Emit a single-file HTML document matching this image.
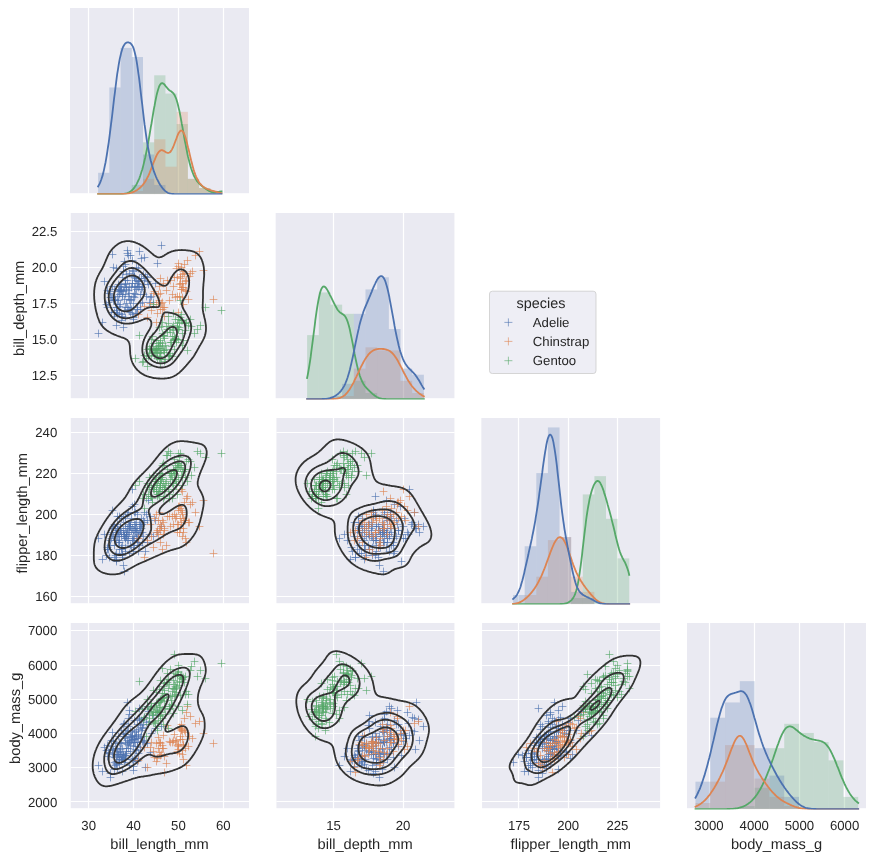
<!DOCTYPE html>
<html lang="en"><head><meta charset="utf-8"><title>penguins pairplot</title>
<style>html,body{margin:0;padding:0;background:#fff}body{width:874px;height:860px;overflow:hidden}svg{display:block}</style>
</head><body>
<svg width="874" height="860" viewBox="0 0 874 860" style="display:block">
<rect width="874" height="860" fill="#fff"/>
<defs>
<clipPath id="c00"><rect x="70" y="8" width="179" height="186.45"/></clipPath>
<clipPath id="c10"><rect x="70.75" y="213" width="178.25" height="186.45"/></clipPath>
<clipPath id="c11"><rect x="275.67" y="213" width="179" height="186.45"/></clipPath>
<clipPath id="c20"><rect x="70.75" y="418" width="178.25" height="186.45"/></clipPath>
<clipPath id="c21"><rect x="276.42" y="418" width="178.25" height="186.45"/></clipPath>
<clipPath id="c22"><rect x="481.33" y="418" width="179" height="186.45"/></clipPath>
<clipPath id="c30"><rect x="70.75" y="623" width="178.25" height="186.45"/></clipPath>
<clipPath id="c31"><rect x="276.42" y="623" width="178.25" height="186.45"/></clipPath>
<clipPath id="c32"><rect x="482.08" y="623" width="178.25" height="186.45"/></clipPath>
<clipPath id="c33"><rect x="687" y="623" width="179" height="186.45"/></clipPath>
</defs>
<g clip-path="url(#c00)">
<rect x="69" y="8" width="180" height="185.2" fill="#eaeaf2"/>
<path d="M88.5 8v185.2M133.5 8v185.2M178.5 8v185.2M223.5 8v185.2" stroke="#fff" stroke-width="1.2" stroke-linecap="round" fill="none"/>
<rect x="131.78" y="184.96" width="11.22" height="9.14" fill="#55a868" fill-opacity="0.25"/>
<rect x="143" y="142.32" width="11.22" height="51.78" fill="#55a868" fill-opacity="0.25"/>
<rect x="154.22" y="75.31" width="11.22" height="118.79" fill="#55a868" fill-opacity="0.25"/>
<rect x="165.44" y="93.58" width="11.22" height="100.52" fill="#55a868" fill-opacity="0.25"/>
<rect x="176.66" y="124.04" width="11.22" height="70.06" fill="#55a868" fill-opacity="0.25"/>
<rect x="187.88" y="178.87" width="11.22" height="15.23" fill="#55a868" fill-opacity="0.25"/>
<rect x="199.1" y="188.01" width="11.22" height="6.09" fill="#55a868" fill-opacity="0.25"/>
<rect x="210.32" y="191.05" width="11.22" height="3.05" fill="#55a868" fill-opacity="0.25"/>
<rect x="131.78" y="191.05" width="11.22" height="3.05" fill="#dd8452" fill-opacity="0.25"/>
<rect x="143" y="178.87" width="11.22" height="15.23" fill="#dd8452" fill-opacity="0.25"/>
<rect x="154.22" y="139.27" width="11.22" height="54.83" fill="#dd8452" fill-opacity="0.25"/>
<rect x="165.44" y="166.69" width="11.22" height="27.41" fill="#dd8452" fill-opacity="0.25"/>
<rect x="176.66" y="111.86" width="11.22" height="82.24" fill="#dd8452" fill-opacity="0.25"/>
<rect x="187.88" y="178.87" width="11.22" height="15.23" fill="#dd8452" fill-opacity="0.25"/>
<rect x="199.1" y="188.01" width="11.22" height="6.09" fill="#dd8452" fill-opacity="0.25"/>
<rect x="210.32" y="191.05" width="11.22" height="3.05" fill="#dd8452" fill-opacity="0.25"/>
<rect x="98.12" y="172.78" width="11.22" height="21.32" fill="#4c72b0" fill-opacity="0.25"/>
<rect x="109.34" y="87.49" width="11.22" height="106.61" fill="#4c72b0" fill-opacity="0.25"/>
<rect x="120.56" y="47.89" width="11.22" height="146.21" fill="#4c72b0" fill-opacity="0.25"/>
<rect x="131.78" y="57.03" width="11.22" height="137.07" fill="#4c72b0" fill-opacity="0.25"/>
<rect x="143" y="154.5" width="11.22" height="39.6" fill="#4c72b0" fill-opacity="0.25"/>
<rect x="154.22" y="184.96" width="11.22" height="9.14" fill="#4c72b0" fill-opacity="0.25"/>
<path d="M98.1 194.1L98.7 194.1L99.4 194.1L100 194.1L100.6 194.1L101.2 194.1L101.8 194.1L102.5 194.1L103.1 194.1L103.7 194.1L104.3 194.1L104.9 194.1L105.6 194.1L106.2 194.1L106.8 194.1L107.4 194.1L108 194.1L108.7 194.1L109.3 194.1L109.9 194.1L110.5 194.1L111.1 194.1L111.8 194.1L112.4 194.1L113 194.1L113.6 194.1L114.2 194.1L114.9 194.1L115.5 194.1L116.1 194.1L116.7 194.1L117.3 194.1L118 194.1L118.6 194.1L119.2 194.1L119.8 194.1L120.5 194.1L121.1 194L121.7 194L122.3 194L122.9 193.9L123.6 193.9L124.2 193.8L124.8 193.7L125.4 193.6L126 193.5L126.7 193.3L127.3 193.1L127.9 192.9L128.5 192.6L129.1 192.3L129.8 191.9L130.4 191.5L131 191.1L131.6 190.6L132.2 190L132.9 189.4L133.5 188.7L134.1 187.9L134.7 187.1L135.3 186.1L136 185.2L136.6 184.1L137.2 182.9L137.8 181.7L138.4 180.3L139.1 178.8L139.7 177.3L140.3 175.6L140.9 173.7L141.5 171.8L142.2 169.7L142.8 167.5L143.4 165.1L144 162.6L144.6 160L145.3 157.2L145.9 154.3L146.5 151.3L147.1 148.1L147.7 144.9L148.4 141.5L149 138L149.6 134.5L150.2 130.9L150.8 127.2L151.5 123.5L152.1 119.8L152.7 116.1L153.3 112.5L153.9 108.9L154.6 105.5L155.2 102.2L155.8 99.1L156.4 96.1L157 93.5L157.7 91.1L158.3 89L158.9 87.2L159.5 85.7L160.1 84.6L160.8 83.8L161.4 83.3L162 83.1L162.6 83.2L163.2 83.5L163.9 84L164.5 84.6L165.1 85.4L165.7 86.2L166.3 87L167 87.7L167.6 88.5L168.2 89.1L168.8 89.7L169.4 90.2L170.1 90.7L170.7 91.1L171.3 91.5L171.9 92L172.5 92.5L173.2 93.1L173.8 93.9L174.4 94.8L175 96L175.6 97.4L176.3 99L176.9 100.9L177.5 103.1L178.1 105.5L178.7 108.1L179.4 111L180 114L180.6 117.2L181.2 120.5L181.8 123.9L182.5 127.4L183.1 130.8L183.7 134.3L184.3 137.8L184.9 141.1L185.6 144.4L186.2 147.6L186.8 150.7L187.4 153.7L188 156.5L188.7 159.2L189.3 161.7L189.9 164L190.5 166.2L191.1 168.3L191.8 170.2L192.4 171.9L193 173.5L193.6 175L194.2 176.3L194.9 177.5L195.5 178.6L196.1 179.6L196.7 180.6L197.3 181.4L198 182.2L198.6 182.9L199.2 183.5L199.8 184.1L200.5 184.7L201.1 185.2L201.7 185.8L202.3 186.3L202.9 186.7L203.6 187.2L204.2 187.7L204.8 188.1L205.4 188.6L206 189L206.7 189.4L207.3 189.9L207.9 190.2L208.5 190.6L209.1 190.9L209.8 191.2L210.4 191.5L211 191.8L211.6 192L212.2 192.1L212.9 192.2L213.5 192.3L214.1 192.3L214.7 192.3L215.3 192.3L216 192.2L216.6 192.1L217.2 192L217.8 191.9L218.4 191.8L219.1 191.7L219.7 191.6L220.3 191.6L220.9 191.5L221.5 191.5" stroke="#55a868" stroke-width="1.8" fill="none" stroke-linecap="square" stroke-linejoin="round"/>
<path d="M98.1 194.1L98.7 194.1L99.4 194.1L100 194.1L100.6 194.1L101.2 194.1L101.8 194.1L102.5 194.1L103.1 194.1L103.7 194.1L104.3 194.1L104.9 194.1L105.6 194.1L106.2 194.1L106.8 194.1L107.4 194.1L108 194.1L108.7 194.1L109.3 194.1L109.9 194.1L110.5 194.1L111.1 194.1L111.8 194.1L112.4 194.1L113 194.1L113.6 194.1L114.2 194.1L114.9 194.1L115.5 194.1L116.1 194.1L116.7 194.1L117.3 194.1L118 194.1L118.6 194.1L119.2 194.1L119.8 194.1L120.5 194.1L121.1 194.1L121.7 194L122.3 194L122.9 194L123.6 194L124.2 193.9L124.8 193.9L125.4 193.9L126 193.8L126.7 193.7L127.3 193.6L127.9 193.6L128.5 193.4L129.1 193.3L129.8 193.2L130.4 193L131 192.8L131.6 192.6L132.2 192.4L132.9 192.2L133.5 191.9L134.1 191.6L134.7 191.3L135.3 191L136 190.6L136.6 190.3L137.2 189.9L137.8 189.4L138.4 189L139.1 188.5L139.7 188L140.3 187.5L140.9 186.9L141.5 186.2L142.2 185.6L142.8 184.9L143.4 184.1L144 183.3L144.6 182.4L145.3 181.5L145.9 180.4L146.5 179.4L147.1 178.2L147.7 177L148.4 175.7L149 174.3L149.6 172.9L150.2 171.4L150.8 169.8L151.5 168.2L152.1 166.6L152.7 165L153.3 163.3L153.9 161.7L154.6 160.1L155.2 158.6L155.8 157.2L156.4 155.8L157 154.6L157.7 153.5L158.3 152.6L158.9 151.8L159.5 151.2L160.1 150.7L160.8 150.4L161.4 150.2L162 150.2L162.6 150.4L163.2 150.6L163.9 150.9L164.5 151.3L165.1 151.7L165.7 152.1L166.3 152.4L167 152.7L167.6 152.9L168.2 152.9L168.8 152.8L169.4 152.5L170.1 152.1L170.7 151.5L171.3 150.6L171.9 149.6L172.5 148.4L173.2 147L173.8 145.5L174.4 143.9L175 142.3L175.6 140.6L176.3 138.9L176.9 137.2L177.5 135.7L178.1 134.2L178.7 133L179.4 132L180 131.2L180.6 130.7L181.2 130.5L181.8 130.7L182.5 131.1L183.1 131.8L183.7 132.9L184.3 134.3L184.9 135.9L185.6 137.8L186.2 139.9L186.8 142.2L187.4 144.6L188 147.2L188.7 149.8L189.3 152.5L189.9 155.1L190.5 157.7L191.1 160.3L191.8 162.8L192.4 165.2L193 167.4L193.6 169.6L194.2 171.5L194.9 173.4L195.5 175.1L196.1 176.6L196.7 178L197.3 179.3L198 180.5L198.6 181.5L199.2 182.4L199.8 183.3L200.5 184L201.1 184.7L201.7 185.3L202.3 185.9L202.9 186.4L203.6 186.9L204.2 187.3L204.8 187.7L205.4 188L206 188.4L206.7 188.7L207.3 189L207.9 189.2L208.5 189.5L209.1 189.7L209.8 189.9L210.4 190.1L211 190.3L211.6 190.5L212.2 190.7L212.9 190.9L213.5 191L214.1 191.2L214.7 191.4L215.3 191.6L216 191.7L216.6 191.9L217.2 192.1L217.8 192.3L218.4 192.4L219.1 192.6L219.7 192.8L220.3 192.9L220.9 193.1L221.5 193.2" stroke="#dd8452" stroke-width="1.8" fill="none" stroke-linecap="square" stroke-linejoin="round"/>
<path d="M98.1 186.5L98.7 185.4L99.4 184.2L100 182.9L100.6 181.4L101.2 179.8L101.8 177.9L102.5 175.9L103.1 173.6L103.7 171.1L104.3 168.4L104.9 165.4L105.6 162.2L106.2 158.7L106.8 155L107.4 151.1L108 147L108.7 142.6L109.3 138.1L109.9 133.4L110.5 128.6L111.1 123.6L111.8 118.5L112.4 113.4L113 108.1L113.6 102.9L114.2 97.7L114.9 92.5L115.5 87.5L116.1 82.6L116.7 77.9L117.3 73.4L118 69.3L118.6 65.4L119.2 61.8L119.8 58.6L120.5 55.7L121.1 53.1L121.7 50.9L122.3 49L122.9 47.3L123.6 46L124.2 44.9L124.8 44L125.4 43.3L126 42.9L126.7 42.6L127.3 42.4L127.9 42.3L128.5 42.4L129.1 42.6L129.8 42.8L130.4 43.2L131 43.8L131.6 44.5L132.2 45.4L132.9 46.6L133.5 48.1L134.1 50L134.7 52.2L135.3 54.8L136 57.8L136.6 61.2L137.2 64.9L137.8 69L138.4 73.5L139.1 78.2L139.7 83.2L140.3 88.3L140.9 93.6L141.5 98.9L142.2 104.2L142.8 109.5L143.4 114.7L144 119.8L144.6 124.7L145.3 129.4L145.9 133.9L146.5 138.1L147.1 142.1L147.7 145.8L148.4 149.3L149 152.5L149.6 155.5L150.2 158.2L150.8 160.8L151.5 163.2L152.1 165.5L152.7 167.5L153.3 169.5L153.9 171.4L154.6 173.1L155.2 174.7L155.8 176.3L156.4 177.7L157 179.1L157.7 180.3L158.3 181.5L158.9 182.7L159.5 183.7L160.1 184.7L160.8 185.7L161.4 186.6L162 187.4L162.6 188.2L163.2 189L163.9 189.7L164.5 190.3L165.1 190.9L165.7 191.4L166.3 191.9L167 192.3L167.6 192.7L168.2 193L168.8 193.2L169.4 193.4L170.1 193.6L170.7 193.7L171.3 193.8L171.9 193.9L172.5 194L173.2 194L173.8 194L174.4 194.1L175 194.1L175.6 194.1L176.3 194.1L176.9 194.1L177.5 194.1L178.1 194.1L178.7 194.1L179.4 194.1L180 194.1L180.6 194.1L181.2 194.1L181.8 194.1L182.5 194.1L183.1 194.1L183.7 194.1L184.3 194.1L184.9 194.1L185.6 194.1L186.2 194.1L186.8 194.1L187.4 194.1L188 194.1L188.7 194.1L189.3 194.1L189.9 194.1L190.5 194.1L191.1 194.1L191.8 194.1L192.4 194.1L193 194.1L193.6 194.1L194.2 194.1L194.9 194.1L195.5 194.1L196.1 194.1L196.7 194.1L197.3 194.1L198 194.1L198.6 194.1L199.2 194.1L199.8 194.1L200.5 194.1L201.1 194.1L201.7 194.1L202.3 194.1L202.9 194.1L203.6 194.1L204.2 194.1L204.8 194.1L205.4 194.1L206 194.1L206.7 194.1L207.3 194.1L207.9 194.1L208.5 194.1L209.1 194.1L209.8 194.1L210.4 194.1L211 194.1L211.6 194.1L212.2 194.1L212.9 194.1L213.5 194.1L214.1 194.1L214.7 194.1L215.3 194.1L216 194.1L216.6 194.1L217.2 194.1L217.8 194.1L218.4 194.1L219.1 194.1L219.7 194.1L220.3 194.1L220.9 194.1L221.5 194.1" stroke="#4c72b0" stroke-width="1.8" fill="none" stroke-linecap="square" stroke-linejoin="round"/>
</g>
<g clip-path="url(#c10)">
<rect x="69" y="213" width="180" height="185.2" fill="#eaeaf2"/>
<path d="M88.5 213v185.2M133.5 213v185.2M178.5 213v185.2M223.5 213v185.2M70 375.5h179M70 339.5h179M70 303.5h179M70 267.5h179M70 231.5h179" stroke="#fff" stroke-width="1.2" stroke-linecap="round" fill="none"/>
<path d="M109.6 267.5h7.8m-3.9-3.9v7.8M113.6 304.5h7.8m-3.9-3.9v7.8M123.6 250.5h7.8m-3.9-3.9v7.8M133.6 286.5h7.8m-3.9-3.9v7.8M131.6 278.5h7.8m-3.9-3.9v7.8M114.6 300.5h7.8m-3.9-3.9v7.8M137.6 289.5h7.8m-3.9-3.9v7.8M117.6 320.5h7.8m-3.9-3.9v7.8M128.6 283.5h7.8m-3.9-3.9v7.8M116.6 289.5h7.8m-3.9-3.9v7.8M130.6 276.5h7.8m-3.9-3.9v7.8M140.6 257.5h7.8m-3.9-3.9v7.8M126.6 312.5h7.8m-3.9-3.9v7.8M117.6 290.5h7.8m-3.9-3.9v7.8M129.6 303.5h7.8m-3.9-3.9v7.8M100.6 281.5h7.8m-3.9-3.9v7.8M125.6 286.5h7.8m-3.9-3.9v7.8M119.6 327.5h7.8m-3.9-3.9v7.8M153.6 263.5h7.8m-3.9-3.9v7.8M130.6 293.5h7.8m-3.9-3.9v7.8M118.6 296.5h7.8m-3.9-3.9v7.8M108.6 286.5h7.8m-3.9-3.9v7.8M115.6 306.5h7.8m-3.9-3.9v7.8M135.6 278.5h7.8m-3.9-3.9v7.8M120.6 261.5h7.8m-3.9-3.9v7.8M116.6 286.5h7.8m-3.9-3.9v7.8M137.6 258.5h7.8m-3.9-3.9v7.8M138.6 302.5h7.8m-3.9-3.9v7.8M157.6 245.5h7.8m-3.9-3.9v7.8M122.6 289.5h7.8m-3.9-3.9v7.8M107.6 312.5h7.8m-3.9-3.9v7.8M151.6 283.5h7.8m-3.9-3.9v7.8M128.6 283.5h7.8m-3.9-3.9v7.8M120.6 299.5h7.8m-3.9-3.9v7.8M133.6 307.5h7.8m-3.9-3.9v7.8M125.6 293.5h7.8m-3.9-3.9v7.8M141.6 276.5h7.8m-3.9-3.9v7.8M125.6 273.5h7.8m-3.9-3.9v7.8M144.6 284.5h7.8m-3.9-3.9v7.8M103.6 290.5h7.8m-3.9-3.9v7.8M107.6 297.5h7.8m-3.9-3.9v7.8M120.6 287.5h7.8m-3.9-3.9v7.8M120.6 310.5h7.8m-3.9-3.9v7.8M102.6 304.5h7.8m-3.9-3.9v7.8M117.6 290.5h7.8m-3.9-3.9v7.8M109.6 300.5h7.8m-3.9-3.9v7.8M113.6 296.5h7.8m-3.9-3.9v7.8M132.6 280.5h7.8m-3.9-3.9v7.8M128.6 260.5h7.8m-3.9-3.9v7.8M116.6 304.5h7.8m-3.9-3.9v7.8M125.6 310.5h7.8m-3.9-3.9v7.8M135.6 251.5h7.8m-3.9-3.9v7.8M131.6 294.5h7.8m-3.9-3.9v7.8M133.6 283.5h7.8m-3.9-3.9v7.8M130.6 297.5h7.8m-3.9-3.9v7.8M134.6 287.5h7.8m-3.9-3.9v7.8M123.6 307.5h7.8m-3.9-3.9v7.8M115.6 286.5h7.8m-3.9-3.9v7.8M143.6 281.5h7.8m-3.9-3.9v7.8M132.6 313.5h7.8m-3.9-3.9v7.8M110.6 316.5h7.8m-3.9-3.9v7.8M121.6 283.5h7.8m-3.9-3.9v7.8M112.6 268.5h7.8m-3.9-3.9v7.8M115.6 290.5h7.8m-3.9-3.9v7.8M139.6 274.5h7.8m-3.9-3.9v7.8M104.6 302.5h7.8m-3.9-3.9v7.8M113.6 310.5h7.8m-3.9-3.9v7.8M123.6 253.5h7.8m-3.9-3.9v7.8M132.6 267.5h7.8m-3.9-3.9v7.8M142.6 296.5h7.8m-3.9-3.9v7.8M110.6 289.5h7.8m-3.9-3.9v7.8M134.6 281.5h7.8m-3.9-3.9v7.8M134.6 268.5h7.8m-3.9-3.9v7.8M121.6 264.5h7.8m-3.9-3.9v7.8M140.6 280.5h7.8m-3.9-3.9v7.8M112.6 307.5h7.8m-3.9-3.9v7.8M103.6 307.5h7.8m-3.9-3.9v7.8M115.6 294.5h7.8m-3.9-3.9v7.8M131.6 313.5h7.8m-3.9-3.9v7.8M138.6 287.5h7.8m-3.9-3.9v7.8M122.6 303.5h7.8m-3.9-3.9v7.8M112.6 307.5h7.8m-3.9-3.9v7.8M117.6 284.5h7.8m-3.9-3.9v7.8M118.6 277.5h7.8m-3.9-3.9v7.8M129.6 319.5h7.8m-3.9-3.9v7.8M129.6 317.5h7.8m-3.9-3.9v7.8M112.6 312.5h7.8m-3.9-3.9v7.8M130.6 287.5h7.8m-3.9-3.9v7.8M115.6 313.5h7.8m-3.9-3.9v7.8M94.6 333.5h7.8m-3.9-3.9v7.8M121.6 317.5h7.8m-3.9-3.9v7.8M124.6 255.5h7.8m-3.9-3.9v7.8M111.6 299.5h7.8m-3.9-3.9v7.8M124.6 296.5h7.8m-3.9-3.9v7.8M118.6 316.5h7.8m-3.9-3.9v7.8M108.6 297.5h7.8m-3.9-3.9v7.8M112.6 325.5h7.8m-3.9-3.9v7.8M110.6 312.5h7.8m-3.9-3.9v7.8M149.6 302.5h7.8m-3.9-3.9v7.8M129.6 296.5h7.8m-3.9-3.9v7.8M125.6 299.5h7.8m-3.9-3.9v7.8M124.6 309.5h7.8m-3.9-3.9v7.8M119.6 271.5h7.8m-3.9-3.9v7.8M123.6 280.5h7.8m-3.9-3.9v7.8M114.6 284.5h7.8m-3.9-3.9v7.8M127.6 287.5h7.8m-3.9-3.9v7.8M136.6 294.5h7.8m-3.9-3.9v7.8M128.6 270.5h7.8m-3.9-3.9v7.8M124.6 290.5h7.8m-3.9-3.9v7.8M131.6 286.5h7.8m-3.9-3.9v7.8M127.6 309.5h7.8m-3.9-3.9v7.8M121.6 307.5h7.8m-3.9-3.9v7.8M108.6 254.5h7.8m-3.9-3.9v7.8M106.6 291.5h7.8m-3.9-3.9v7.8M130.6 277.5h7.8m-3.9-3.9v7.8M135.6 286.5h7.8m-3.9-3.9v7.8M106.6 297.5h7.8m-3.9-3.9v7.8M126.6 255.5h7.8m-3.9-3.9v7.8M132.6 289.5h7.8m-3.9-3.9v7.8M126.6 307.5h7.8m-3.9-3.9v7.8M113.6 314.5h7.8m-3.9-3.9v7.8M119.6 266.5h7.8m-3.9-3.9v7.8M130.6 276.5h7.8m-3.9-3.9v7.8M111.6 300.5h7.8m-3.9-3.9v7.8M147.6 296.5h7.8m-3.9-3.9v7.8M146.6 297.5h7.8m-3.9-3.9v7.8M139.6 294.5h7.8m-3.9-3.9v7.8M127.6 299.5h7.8m-3.9-3.9v7.8M137.6 278.5h7.8m-3.9-3.9v7.8M129.6 271.5h7.8m-3.9-3.9v7.8M118.6 294.5h7.8m-3.9-3.9v7.8M143.6 277.5h7.8m-3.9-3.9v7.8M117.6 314.5h7.8m-3.9-3.9v7.8M116.6 291.5h7.8m-3.9-3.9v7.8M121.6 294.5h7.8m-3.9-3.9v7.8M122.6 287.5h7.8m-3.9-3.9v7.8M136.6 303.5h7.8m-3.9-3.9v7.8M136.6 309.5h7.8m-3.9-3.9v7.8M126.6 300.5h7.8m-3.9-3.9v7.8M119.6 291.5h7.8m-3.9-3.9v7.8M133.6 309.5h7.8m-3.9-3.9v7.8M105.6 293.5h7.8m-3.9-3.9v7.8M145.6 302.5h7.8m-3.9-3.9v7.8M121.6 280.5h7.8m-3.9-3.9v7.8M121.6 284.5h7.8m-3.9-3.9v7.8M98.6 322.5h7.8m-3.9-3.9v7.8M114.6 291.5h7.8m-3.9-3.9v7.8M134.6 281.5h7.8m-3.9-3.9v7.8M138.6 284.5h7.8m-3.9-3.9v7.8M122.6 274.5h7.8m-3.9-3.9v7.8M128.6 314.5h7.8m-3.9-3.9v7.8" stroke="#4c72b0" stroke-width="0.62" fill="none"/>
<path d="M165.6 300.5h7.8m-3.9-3.9v7.8M209.6 299.5h7.8m-3.9-3.9v7.8M175.6 296.5h7.8m-3.9-3.9v7.8M173.6 296.5h7.8m-3.9-3.9v7.8M173.6 277.5h7.8m-3.9-3.9v7.8M174.6 266.5h7.8m-3.9-3.9v7.8M143.6 317.5h7.8m-3.9-3.9v7.8M199.6 270.5h7.8m-3.9-3.9v7.8M153.6 313.5h7.8m-3.9-3.9v7.8M156.6 309.5h7.8m-3.9-3.9v7.8M175.6 284.5h7.8m-3.9-3.9v7.8M168.6 294.5h7.8m-3.9-3.9v7.8M158.6 309.5h7.8m-3.9-3.9v7.8M195.6 251.5h7.8m-3.9-3.9v7.8M188.6 271.5h7.8m-3.9-3.9v7.8M159.6 283.5h7.8m-3.9-3.9v7.8M178.6 274.5h7.8m-3.9-3.9v7.8M171.6 297.5h7.8m-3.9-3.9v7.8M172.6 268.5h7.8m-3.9-3.9v7.8M163.6 280.5h7.8m-3.9-3.9v7.8M150.6 291.5h7.8m-3.9-3.9v7.8M174.6 263.5h7.8m-3.9-3.9v7.8M179.6 304.5h7.8m-3.9-3.9v7.8M180.6 273.5h7.8m-3.9-3.9v7.8M140.6 306.5h7.8m-3.9-3.9v7.8M176.6 278.5h7.8m-3.9-3.9v7.8M178.6 283.5h7.8m-3.9-3.9v7.8M147.6 310.5h7.8m-3.9-3.9v7.8M157.6 303.5h7.8m-3.9-3.9v7.8M177.6 267.5h7.8m-3.9-3.9v7.8M185.6 276.5h7.8m-3.9-3.9v7.8M152.6 322.5h7.8m-3.9-3.9v7.8M146.6 303.5h7.8m-3.9-3.9v7.8M179.6 287.5h7.8m-3.9-3.9v7.8M155.6 286.5h7.8m-3.9-3.9v7.8M149.6 293.5h7.8m-3.9-3.9v7.8M156.6 278.5h7.8m-3.9-3.9v7.8M182.6 280.5h7.8m-3.9-3.9v7.8M154.6 294.5h7.8m-3.9-3.9v7.8M181.6 281.5h7.8m-3.9-3.9v7.8M134.6 314.5h7.8m-3.9-3.9v7.8M170.6 277.5h7.8m-3.9-3.9v7.8M186.6 273.5h7.8m-3.9-3.9v7.8M176.6 283.5h7.8m-3.9-3.9v7.8M159.6 307.5h7.8m-3.9-3.9v7.8M181.6 290.5h7.8m-3.9-3.9v7.8M152.6 304.5h7.8m-3.9-3.9v7.8M154.6 302.5h7.8m-3.9-3.9v7.8M180.6 264.5h7.8m-3.9-3.9v7.8M162.6 290.5h7.8m-3.9-3.9v7.8M183.6 260.5h7.8m-3.9-3.9v7.8M174.6 312.5h7.8m-3.9-3.9v7.8M158.6 302.5h7.8m-3.9-3.9v7.8M178.6 297.5h7.8m-3.9-3.9v7.8M176.6 276.5h7.8m-3.9-3.9v7.8M156.6 293.5h7.8m-3.9-3.9v7.8M177.6 289.5h7.8m-3.9-3.9v7.8M184.6 299.5h7.8m-3.9-3.9v7.8M155.6 300.5h7.8m-3.9-3.9v7.8M177.6 289.5h7.8m-3.9-3.9v7.8M160.6 307.5h7.8m-3.9-3.9v7.8M182.6 291.5h7.8m-3.9-3.9v7.8M166.6 280.5h7.8m-3.9-3.9v7.8M178.6 287.5h7.8m-3.9-3.9v7.8M179.6 271.5h7.8m-3.9-3.9v7.8M169.6 286.5h7.8m-3.9-3.9v7.8M191.6 255.5h7.8m-3.9-3.9v7.8M160.6 316.5h7.8m-3.9-3.9v7.8" stroke="#dd8452" stroke-width="0.62" fill="none"/>
<path d="M156.6 356.5h7.8m-3.9-3.9v7.8M166.6 342.5h7.8m-3.9-3.9v7.8M158.6 322.5h7.8m-3.9-3.9v7.8M160.6 352.5h7.8m-3.9-3.9v7.8M154.6 348.5h7.8m-3.9-3.9v7.8M164.6 323.5h7.8m-3.9-3.9v7.8M167.6 346.5h7.8m-3.9-3.9v7.8M154.6 346.5h7.8m-3.9-3.9v7.8M150.6 355.5h7.8m-3.9-3.9v7.8M163.6 332.5h7.8m-3.9-3.9v7.8M142.6 358.5h7.8m-3.9-3.9v7.8M175.6 322.5h7.8m-3.9-3.9v7.8M161.6 345.5h7.8m-3.9-3.9v7.8M158.6 346.5h7.8m-3.9-3.9v7.8M165.6 329.5h7.8m-3.9-3.9v7.8M160.6 361.5h7.8m-3.9-3.9v7.8M176.6 300.5h7.8m-3.9-3.9v7.8M160.6 338.5h7.8m-3.9-3.9v7.8M170.6 340.5h7.8m-3.9-3.9v7.8M153.6 353.5h7.8m-3.9-3.9v7.8M160.6 350.5h7.8m-3.9-3.9v7.8M149.6 350.5h7.8m-3.9-3.9v7.8M173.6 327.5h7.8m-3.9-3.9v7.8M155.6 345.5h7.8m-3.9-3.9v7.8M176.6 317.5h7.8m-3.9-3.9v7.8M146.6 349.5h7.8m-3.9-3.9v7.8M174.6 339.5h7.8m-3.9-3.9v7.8M169.6 313.5h7.8m-3.9-3.9v7.8M164.6 316.5h7.8m-3.9-3.9v7.8M162.6 349.5h7.8m-3.9-3.9v7.8M173.6 323.5h7.8m-3.9-3.9v7.8M171.6 319.5h7.8m-3.9-3.9v7.8M193.6 329.5h7.8m-3.9-3.9v7.8M153.6 348.5h7.8m-3.9-3.9v7.8M178.6 333.5h7.8m-3.9-3.9v7.8M143.6 366.5h7.8m-3.9-3.9v7.8M149.6 304.5h7.8m-3.9-3.9v7.8M145.6 353.5h7.8m-3.9-3.9v7.8M217.6 310.5h7.8m-3.9-3.9v7.8M169.6 325.5h7.8m-3.9-3.9v7.8M172.6 342.5h7.8m-3.9-3.9v7.8M170.6 349.5h7.8m-3.9-3.9v7.8M159.6 335.5h7.8m-3.9-3.9v7.8M144.6 356.5h7.8m-3.9-3.9v7.8M147.6 339.5h7.8m-3.9-3.9v7.8M156.6 353.5h7.8m-3.9-3.9v7.8M157.6 359.5h7.8m-3.9-3.9v7.8M155.6 359.5h7.8m-3.9-3.9v7.8M159.6 335.5h7.8m-3.9-3.9v7.8M187.6 326.5h7.8m-3.9-3.9v7.8M138.6 362.5h7.8m-3.9-3.9v7.8M159.6 350.5h7.8m-3.9-3.9v7.8M168.6 327.5h7.8m-3.9-3.9v7.8M180.6 323.5h7.8m-3.9-3.9v7.8M167.6 342.5h7.8m-3.9-3.9v7.8M169.6 340.5h7.8m-3.9-3.9v7.8M181.6 323.5h7.8m-3.9-3.9v7.8M147.6 346.5h7.8m-3.9-3.9v7.8M154.6 343.5h7.8m-3.9-3.9v7.8M172.6 339.5h7.8m-3.9-3.9v7.8M162.6 326.5h7.8m-3.9-3.9v7.8M160.6 336.5h7.8m-3.9-3.9v7.8M190.6 333.5h7.8m-3.9-3.9v7.8M155.6 327.5h7.8m-3.9-3.9v7.8M174.6 329.5h7.8m-3.9-3.9v7.8M171.6 338.5h7.8m-3.9-3.9v7.8M173.6 326.5h7.8m-3.9-3.9v7.8M148.6 336.5h7.8m-3.9-3.9v7.8M164.6 355.5h7.8m-3.9-3.9v7.8M152.6 340.5h7.8m-3.9-3.9v7.8M140.6 355.5h7.8m-3.9-3.9v7.8M201.6 307.5h7.8m-3.9-3.9v7.8M156.6 342.5h7.8m-3.9-3.9v7.8M166.6 332.5h7.8m-3.9-3.9v7.8M151.6 349.5h7.8m-3.9-3.9v7.8M145.6 348.5h7.8m-3.9-3.9v7.8M175.6 327.5h7.8m-3.9-3.9v7.8M181.6 330.5h7.8m-3.9-3.9v7.8M135.6 335.5h7.8m-3.9-3.9v7.8M152.6 356.5h7.8m-3.9-3.9v7.8M148.6 352.5h7.8m-3.9-3.9v7.8M155.6 352.5h7.8m-3.9-3.9v7.8M177.6 320.5h7.8m-3.9-3.9v7.8M169.6 330.5h7.8m-3.9-3.9v7.8M178.6 345.5h7.8m-3.9-3.9v7.8M168.6 356.5h7.8m-3.9-3.9v7.8M165.6 356.5h7.8m-3.9-3.9v7.8M147.6 355.5h7.8m-3.9-3.9v7.8M157.6 326.5h7.8m-3.9-3.9v7.8M152.6 348.5h7.8m-3.9-3.9v7.8M170.6 336.5h7.8m-3.9-3.9v7.8M151.6 352.5h7.8m-3.9-3.9v7.8M168.6 336.5h7.8m-3.9-3.9v7.8M172.6 339.5h7.8m-3.9-3.9v7.8M153.6 358.5h7.8m-3.9-3.9v7.8M143.6 349.5h7.8m-3.9-3.9v7.8M150.6 350.5h7.8m-3.9-3.9v7.8M156.6 363.5h7.8m-3.9-3.9v7.8M186.6 319.5h7.8m-3.9-3.9v7.8M139.6 361.5h7.8m-3.9-3.9v7.8M184.6 325.5h7.8m-3.9-3.9v7.8M174.6 319.5h7.8m-3.9-3.9v7.8M170.6 339.5h7.8m-3.9-3.9v7.8M165.6 355.5h7.8m-3.9-3.9v7.8M152.6 349.5h7.8m-3.9-3.9v7.8M149.6 343.5h7.8m-3.9-3.9v7.8M158.6 333.5h7.8m-3.9-3.9v7.8M156.6 340.5h7.8m-3.9-3.9v7.8M196.6 325.5h7.8m-3.9-3.9v7.8M174.6 329.5h7.8m-3.9-3.9v7.8M156.6 348.5h7.8m-3.9-3.9v7.8M157.6 350.5h7.8m-3.9-3.9v7.8M171.6 338.5h7.8m-3.9-3.9v7.8M166.6 353.5h7.8m-3.9-3.9v7.8M131.6 358.5h7.8m-3.9-3.9v7.8M161.6 359.5h7.8m-3.9-3.9v7.8M179.6 340.5h7.8m-3.9-3.9v7.8M158.6 343.5h7.8m-3.9-3.9v7.8M183.6 350.5h7.8m-3.9-3.9v7.8M177.6 314.5h7.8m-3.9-3.9v7.8M163.6 329.5h7.8m-3.9-3.9v7.8M178.6 320.5h7.8m-3.9-3.9v7.8M182.6 322.5h7.8m-3.9-3.9v7.8" stroke="#55a868" stroke-width="0.62" fill="none"/>
<path d="M153.1 377.8L154 378L154.9 378.1L155.8 378.2L156.7 378.3L157.6 378.4L158.5 378.5L159.4 378.5L160.3 378.6L161.2 378.6L162.1 378.6L163 378.6L163.9 378.6L164.8 378.5L165.7 378.4L166.6 378.3L167.5 378.2L168.4 378L169.3 377.8L169.5 377.8L170.2 377.6L171.1 377.3L172 377L172.4 376.8L172.9 376.6L173.8 376.2L174.4 375.9L174.7 375.8L175.6 375.3L176.1 375L176.5 374.7L177.4 374.1L177.5 374L178.3 373.4L178.7 373.1L179.2 372.7L179.8 372.2L180.1 371.9L180.8 371.2L181 371.1L181.8 370.3L181.9 370.2L182.7 369.4L182.8 369.3L183.6 368.4L183.7 368.3L184.4 367.5L184.6 367.3L185.2 366.6L185.5 366.3L186.1 365.6L186.4 365.3L186.9 364.7L187.3 364.2L187.7 363.8L188.2 363.2L188.5 362.8L189.1 362.2L189.3 361.9L190 361.1L190.1 361L190.9 360L190.9 360L191.7 359.1L191.8 358.9L192.4 358.2L192.7 357.7L193.1 357.2L193.6 356.4L193.7 356.3L194.3 355.4L194.5 355L194.9 354.4L195.4 353.6L195.4 353.5L196 352.6L196.3 352L196.5 351.6L197 350.7L197.2 350.4L197.5 349.8L198 348.8L198.1 348.7L198.6 347.9L199 347.1L199.1 347L199.6 346L199.9 345.6L200.2 345.1L200.7 344.2L200.8 344L201.3 343.2L201.7 342.5L201.8 342.3L202.4 341.4L202.6 340.9L202.9 340.4L203.3 339.5L203.5 339.1L203.8 338.6L204.2 337.6L204.4 337.1L204.6 336.7L204.9 335.8L205.2 334.8L205.3 334.2L205.4 333.9L205.6 333L205.7 332L205.9 331.1L205.9 330.2L206 329.2L206 328.3L206 327.4L205.9 326.4L205.9 325.5L205.8 324.6L205.6 323.6L205.5 322.7L205.3 321.8L205.3 321.6L205.2 320.8L205 319.9L204.8 319L204.5 318L204.4 317.5L204.3 317.1L204.1 316.2L203.9 315.2L203.6 314.3L203.5 313.7L203.4 313.4L203.2 312.4L203.1 311.5L202.9 310.6L202.8 309.6L202.7 308.7L202.7 307.8L202.7 306.8L202.7 305.9L202.7 304.9L202.7 304L202.8 303.1L202.8 302.1L202.9 301.2L202.9 300.3L202.9 299.3L203 298.4L203 297.5L203 296.5L203 295.6L203 294.7L203 293.7L203 292.8L203 291.9L203 290.9L203.1 290L203.1 289.1L203.2 288.1L203.2 287.2L203.3 286.3L203.4 285.3L203.4 284.4L203.5 283.5L203.5 283.5L203.6 282.5L203.7 281.6L203.8 280.7L203.9 279.7L203.9 278.8L204 277.9L204.1 276.9L204.1 276L204.2 275.1L204.2 274.1L204.2 273.2L204.2 272.3L204.1 271.3L204.1 270.4L204 269.5L203.9 268.5L203.8 267.6L203.7 266.7L203.5 265.8L203.5 265.7L203.3 264.8L203.1 263.9L202.8 262.9L202.6 262.2L202.5 262L202.2 261.1L201.9 260.1L201.7 259.8L201.5 259.2L201 258.3L200.8 257.9L200.5 257.3L199.9 256.5L199.9 256.4L199.1 255.5L199 255.3L198.3 254.5L198.1 254.4L197.2 253.6L197.2 253.6L196.3 253L195.8 252.7L195.4 252.5L194.5 252L193.8 251.7L193.6 251.7L192.7 251.4L191.8 251.1L190.9 250.9L190.4 250.8L190 250.7L189.1 250.6L188.2 250.5L187.3 250.3L186.4 250.3L185.5 250.2L184.6 250.1L183.7 250.1L182.8 250.1L181.9 250L181 250.1L180.1 250.1L179.2 250.1L178.3 250.2L177.4 250.3L176.5 250.4L175.6 250.5L174.7 250.7L174.3 250.8L173.8 250.9L172.9 251.2L172 251.4L171.1 251.7L171.1 251.7L170.2 252.1L169.3 252.5L168.9 252.7L168.4 252.9L167.5 253.4L167.2 253.6L166.6 254L165.7 254.5L165.7 254.5L164.8 255.1L164.2 255.5L163.9 255.7L163 256.2L162.5 256.4L162.1 256.6L161.2 257L160.3 257.2L159.4 257.3L158.5 257.3L157.6 257.1L156.7 256.8L155.9 256.4L155.8 256.4L154.9 255.8L154.4 255.5L154 255.2L153.2 254.5L153.1 254.5L152.2 253.7L152.1 253.6L151.3 252.9L151 252.7L150.4 252.1L149.9 251.7L149.5 251.4L148.8 250.8L148.6 250.6L147.7 249.9L147.7 249.8L146.8 249.1L146.6 248.9L145.9 248.4L145.3 248L145 247.8L144.1 247.1L144 247.1L143.2 246.5L142.6 246.1L142.3 245.9L141.4 245.4L141.1 245.2L140.5 244.9L139.6 244.4L139.4 244.3L138.7 243.9L137.8 243.5L137.4 243.3L136.9 243.1L136 242.8L135.1 242.4L135 242.4L134.2 242.1L133.3 241.9L132.4 241.7L131.5 241.5L131.5 241.5L130.6 241.3L129.7 241.2L128.8 241.1L127.9 241.1L127 241.1L126.1 241.2L125.2 241.3L124.3 241.5L124.2 241.5L123.4 241.7L122.5 241.9L121.6 242.2L121.1 242.4L120.7 242.6L119.8 243L119.2 243.3L118.9 243.5L118 244.1L117.6 244.3L117.1 244.7L116.3 245.2L116.2 245.3L115.3 246.1L115.2 246.1L114.4 246.9L114.2 247.1L113.5 247.8L113.2 248L112.6 248.7L112.4 248.9L111.7 249.8L111.6 249.9L110.9 250.8L110.8 251L110.2 251.7L109.9 252.3L109.6 252.7L109 253.6L109 253.8L108.5 254.5L108.1 255.5L108.1 255.5L107.6 256.4L107.2 257.3L107.2 257.4L106.8 258.3L106.4 259.2L106.3 259.5L106 260.1L105.6 261.1L105.4 261.7L105.2 262L104.8 262.9L104.5 263.9L104.5 263.9L104 264.8L103.6 265.7L103.6 265.9L103.1 266.7L102.7 267.6L102.7 267.7L102.2 268.5L101.8 269.3L101.7 269.5L101.1 270.4L100.9 270.9L100.6 271.3L100 272.3L99.9 272.4L99.5 273.2L99 274L99 274.1L98.5 275.1L98.1 275.8L98 276L97.6 276.9L97.2 277.7L97.2 277.9L96.8 278.8L96.4 279.7L96.3 280L96.1 280.7L95.8 281.6L95.5 282.5L95.4 283L95.3 283.5L95.1 284.4L94.9 285.3L94.8 286.3L94.6 287.2L94.5 287.8L94.5 288.1L94.4 289.1L94.3 290L94.2 290.9L94.2 291.9L94.2 292.8L94.1 293.7L94.1 294.7L94.1 295.6L94.2 296.5L94.2 297.5L94.2 298.4L94.3 299.3L94.4 300.3L94.5 301.2L94.5 301.8L94.6 302.1L94.7 303.1L94.8 304L95 304.9L95.1 305.9L95.3 306.8L95.4 307.7L95.4 307.8L95.6 308.7L95.8 309.6L96 310.6L96.2 311.5L96.3 311.9L96.5 312.4L96.7 313.4L97 314.3L97.2 315.2L97.2 315.2L97.5 316.2L97.8 317.1L98.1 318L98.1 318L98.5 319L98.8 319.9L99 320.4L99.2 320.8L99.6 321.8L99.9 322.4L100.1 322.7L100.6 323.6L100.9 324L101.2 324.6L101.8 325.4L101.8 325.5L102.5 326.4L102.7 326.6L103.3 327.4L103.6 327.6L104.2 328.3L104.5 328.5L105.3 329.2L105.4 329.3L106.3 330L106.5 330.2L107.2 330.6L107.8 331.1L108.1 331.2L109 331.8L109.3 332L109.9 332.3L110.8 332.8L111 333L111.7 333.3L112.6 333.7L112.9 333.9L113.5 334.1L114.4 334.6L115 334.8L115.3 334.9L116.2 335.3L117.1 335.7L117.3 335.8L118 336L118.9 336.3L119.8 336.6L119.9 336.7L120.7 337L121.6 337.3L122.5 337.6L122.6 337.6L123.4 337.9L124.3 338.3L124.9 338.6L125.2 338.7L126.1 339.2L126.5 339.5L127 339.8L127.7 340.4L127.9 340.7L128.4 341.4L128.8 342L128.9 342.3L129.3 343.2L129.5 344.2L129.7 345L129.7 345.1L129.8 346L129.9 347L129.9 347.9L130 348.8L130 349.8L130.1 350.7L130.1 351.6L130.2 352.6L130.2 353.5L130.3 354.4L130.5 355.4L130.6 356.1L130.6 356.3L130.8 357.2L131 358.2L131.2 359.1L131.5 360L131.5 360L131.8 361L132.1 361.9L132.4 362.4L132.5 362.8L133 363.8L133.3 364.3L133.4 364.7L134 365.6L134.2 365.9L134.6 366.6L135.1 367.2L135.2 367.5L136 368.4L136 368.4L136.8 369.4L136.9 369.5L137.7 370.3L137.8 370.4L138.7 371.2L138.7 371.2L139.6 372L139.8 372.2L140.5 372.7L141 373.1L141.4 373.3L142.3 373.9L142.5 374L143.2 374.4L144.1 374.9L144.2 375L145 375.4L145.9 375.7L146.3 375.9L146.8 376.1L147.7 376.4L148.6 376.7L149 376.8L149.5 377L150.4 377.2L151.3 377.4L152.2 377.6L152.9 377.8ZM161.2 367.5L161.7 367.5L162.1 367.5L163 367.4L163.9 367.3L164.8 367.2L165.7 366.9L166.6 366.7L166.9 366.6L167.5 366.3L168.4 365.9L169 365.6L169.3 365.5L170.2 364.9L170.5 364.7L171.1 364.3L171.8 363.8L172 363.6L172.8 362.8L172.9 362.8L173.8 361.9L173.8 361.9L174.6 361L174.7 360.9L175.4 360L175.6 359.8L176.1 359.1L176.5 358.6L176.8 358.2L177.4 357.4L177.5 357.2L178.2 356.3L178.3 356.2L178.9 355.4L179.2 354.9L179.6 354.4L180.1 353.7L180.2 353.5L180.9 352.6L181 352.4L181.6 351.6L181.9 351.1L182.2 350.7L182.8 349.8L182.8 349.8L183.5 348.8L183.7 348.4L184 347.9L184.6 347L184.6 347L185.1 346L185.5 345.3L185.6 345.1L186.1 344.2L186.4 343.6L186.6 343.2L187 342.3L187.3 341.6L187.4 341.4L187.8 340.4L188.2 339.5L188.2 339.5L188.6 338.6L188.9 337.6L189.1 337.2L189.3 336.7L189.6 335.8L189.9 334.8L190 334.5L190.2 333.9L190.4 333L190.7 332L190.9 331.1L190.9 330.8L191 330.2L191.1 329.2L191.2 328.3L191.2 327.4L191.1 326.4L191 325.5L190.9 324.7L190.9 324.6L190.7 323.6L190.5 322.7L190.2 321.8L190 321.3L189.8 320.8L189.5 319.9L189.1 319L189.1 319L188.6 318L188.2 317.2L188.1 317.1L187.6 316.2L187.3 315.6L187.1 315.2L186.5 314.3L186.4 314L186 313.4L185.5 312.5L185.4 312.4L184.9 311.5L184.6 311L184.3 310.6L183.8 309.6L183.7 309.5L183.3 308.7L182.8 307.8L182.8 307.6L182.4 306.8L182.2 305.9L182 304.9L181.9 304L182 303.1L182.2 302.1L182.6 301.2L182.8 300.8L183.1 300.3L183.6 299.3L183.7 299.2L184.2 298.4L184.6 297.8L184.8 297.5L185.4 296.5L185.5 296.4L185.9 295.6L186.4 294.7L186.4 294.7L186.9 293.7L187.3 292.8L187.3 292.7L187.6 291.9L187.9 290.9L188.2 290L188.2 290L188.4 289.1L188.6 288.1L188.8 287.2L188.9 286.3L189 285.3L189.1 284.5L189.1 284.4L189.1 283.5L189.2 282.5L189.1 281.6L189.1 280.9L189.1 280.7L189 279.7L188.9 278.8L188.7 277.9L188.5 276.9L188.2 276.1L188.2 276L187.8 275.1L187.4 274.1L187.3 273.9L186.9 273.2L186.4 272.5L186.2 272.3L185.5 271.4L185.4 271.3L184.6 270.6L184.2 270.4L183.7 270.1L182.8 269.7L182 269.5L181.9 269.5L181 269.4L180.1 269.4L179.8 269.5L179.2 269.6L178.3 270L177.4 270.4L177.4 270.4L176.5 271.1L176.2 271.3L175.6 271.9L175.2 272.3L174.7 272.8L174.4 273.2L173.8 273.9L173.6 274.1L173 275.1L172.9 275.2L172.4 276L172 276.7L171.8 276.9L171.3 277.9L171.1 278.3L170.8 278.8L170.3 279.7L170.2 280L169.8 280.7L169.3 281.6L169.3 281.6L168.7 282.5L168.4 283.1L168.1 283.5L167.5 284.3L167.4 284.4L166.6 285.1L166.2 285.3L165.7 285.6L164.8 285.8L163.9 285.7L163 285.6L162.4 285.3L162.1 285.3L161.2 284.9L160.4 284.4L160.3 284.4L159.4 283.8L159 283.5L158.5 283.2L157.7 282.5L157.6 282.5L156.7 281.7L156.6 281.6L155.8 280.9L155.6 280.7L154.9 280L154.6 279.7L154 279.2L153.7 278.8L153.1 278.2L152.8 277.9L152.2 277.3L151.9 276.9L151.3 276.3L151 276L150.4 275.3L150.2 275.1L149.5 274.3L149.3 274.1L148.6 273.3L148.5 273.2L147.7 272.3L147.6 272.3L146.8 271.4L146.8 271.3L145.9 270.4L145.9 270.4L145 269.5L145 269.5L144.1 268.6L144 268.5L143.2 267.7L143 267.6L142.3 266.9L142 266.7L141.4 266.1L140.9 265.7L140.5 265.4L139.7 264.8L139.6 264.7L138.7 264L138.4 263.9L137.8 263.4L136.9 262.9L136.9 262.9L136 262.4L135.1 262L135.1 262L134.2 261.6L133.3 261.4L132.4 261.1L132 261.1L131.5 261L130.6 260.9L129.7 261L128.8 261.1L128.8 261.1L127.9 261.3L127 261.6L126.1 261.9L125.9 262L125.2 262.4L124.3 262.9L124.3 263L123.4 263.6L123 263.9L122.5 264.4L122 264.8L121.6 265.2L121 265.7L120.7 266.1L120.1 266.7L119.8 267L119.3 267.6L118.9 268.1L118.5 268.5L118 269.2L117.7 269.5L117.1 270.3L117 270.4L116.2 271.3L116.2 271.5L115.5 272.3L115.3 272.6L114.8 273.2L114.4 273.8L114.1 274.1L113.5 275L113.4 275.1L112.7 276L112.6 276.2L112 276.9L111.7 277.4L111.3 277.9L110.8 278.7L110.6 278.8L110 279.7L109.9 280L109.4 280.7L109 281.4L108.8 281.6L108.3 282.5L108.1 283L107.8 283.5L107.3 284.4L107.2 284.8L106.9 285.3L106.5 286.3L106.3 287L106.2 287.2L105.9 288.1L105.6 289.1L105.4 290L105.4 290.1L105.2 290.9L105 291.9L104.9 292.8L104.8 293.7L104.7 294.7L104.7 295.6L104.7 296.5L104.7 297.5L104.7 298.4L104.8 299.3L104.9 300.3L105 301.2L105.1 302.1L105.3 303.1L105.4 303.3L105.5 304L105.7 304.9L106 305.9L106.3 306.8L106.3 306.8L106.6 307.8L106.9 308.7L107.2 309.3L107.3 309.6L107.7 310.6L108.1 311.2L108.2 311.5L108.7 312.4L109 312.9L109.2 313.4L109.8 314.3L109.9 314.3L110.5 315.2L110.8 315.6L111.2 316.2L111.7 316.7L112 317.1L112.6 317.7L112.9 318L113.5 318.5L113.9 319L114.4 319.3L115.1 319.9L115.3 320L116.2 320.6L116.5 320.8L117.1 321.2L118 321.6L118.2 321.8L118.9 322L119.8 322.4L120.6 322.7L120.7 322.7L121.6 323L122.5 323.2L123.4 323.3L124.3 323.5L125.2 323.6L126.1 323.6L126.7 323.6L127 323.6L127.3 323.6L127.9 323.6L128.8 323.6L129.7 323.5L130.6 323.4L131.5 323.3L132.4 323.1L133.3 322.9L134.2 322.7L134.3 322.7L135.1 322.5L136 322.2L136.9 322L137.5 321.8L137.8 321.6L138.7 321.3L139.6 320.9L139.9 320.8L140.5 320.6L141.4 320.2L142.1 319.9L142.3 319.8L143.2 319.5L144.1 319.1L144.7 319L145 318.9L145.9 318.7L146.8 318.6L147.7 318.7L148.6 318.9L148.8 319L149.5 319.3L150.1 319.9L150.4 320.2L150.8 320.8L151.2 321.8L151.3 322.3L151.4 322.7L151.4 323.6L151.3 324.6L151.3 324.8L151.2 325.5L150.9 326.4L150.5 327.4L150.4 327.7L150.1 328.3L149.7 329.2L149.5 329.5L149.1 330.2L148.6 331.1L148.6 331.1L148 332L147.7 332.6L147.4 333L146.9 333.9L146.8 334.1L146.3 334.8L145.9 335.7L145.8 335.8L145.3 336.7L145 337.5L144.9 337.6L144.5 338.6L144.1 339.5L144.1 339.6L143.8 340.4L143.5 341.4L143.2 342.3L143.2 342.4L143 343.2L142.8 344.2L142.6 345.1L142.5 346L142.4 347L142.3 347.9L142.3 348.6L142.3 348.8L142.3 349.8L142.3 349.8L142.3 350.7L142.4 351.6L142.5 352.6L142.7 353.5L142.9 354.4L143.2 355.3L143.2 355.4L143.5 356.3L143.9 357.2L144.1 357.6L144.4 358.2L144.9 359.1L145 359.2L145.6 360L145.9 360.4L146.3 361L146.8 361.5L147.2 361.9L147.7 362.4L148.2 362.8L148.6 363.1L149.4 363.8L149.5 363.8L150.4 364.4L150.8 364.7L151.3 364.9L152.2 365.4L152.7 365.6L153.1 365.8L154 366.2L154.9 366.5L155.2 366.6L155.8 366.7L156.7 367L157.6 367.2L158.5 367.3L159.4 367.4L160.3 367.5L160.8 367.5ZM157.6 363L158.5 363.2L159.4 363.3L160.3 363.4L161.2 363.4L162.1 363.4L163 363.2L163.9 363.1L164.8 362.8L164.8 362.8L165.7 362.5L166.6 362.1L166.9 361.9L167.5 361.6L168.4 361L168.4 361L169.3 360.3L169.6 360L170.2 359.5L170.6 359.1L171.1 358.5L171.4 358.2L172 357.5L172.2 357.2L172.9 356.3L172.9 356.3L173.5 355.4L173.8 355L174.2 354.4L174.7 353.6L174.8 353.5L175.4 352.6L175.6 352.3L176 351.6L176.5 350.9L176.6 350.7L177.2 349.8L177.4 349.5L177.8 348.8L178.3 348.1L178.5 347.9L179 347L179.2 346.7L179.6 346L180.1 345.3L180.2 345.1L180.7 344.2L181 343.7L181.2 343.2L181.7 342.3L181.9 341.9L182.1 341.4L182.6 340.4L182.8 339.9L183 339.5L183.3 338.6L183.6 337.6L183.7 337.5L184 336.7L184.2 335.8L184.5 334.8L184.6 334.5L184.7 333.9L185 333L185.1 332L185.3 331.1L185.4 330.2L185.4 329.2L185.4 328.3L185.4 327.4L185.3 326.4L185.1 325.5L184.9 324.6L184.6 323.6L184.6 323.5L184.3 322.7L183.8 321.8L183.7 321.5L183.3 320.8L182.8 320L182.7 319.9L182 319L181.9 318.8L181.2 318L181 317.8L180.2 317.1L180.1 317L179.2 316.3L179 316.2L178.3 315.7L177.5 315.2L177.4 315.1L176.5 314.7L175.6 314.3L175.6 314.3L174.7 313.9L173.8 313.6L172.9 313.4L172.8 313.4L172 313.1L171.1 312.9L170.2 312.8L169.3 312.6L168.4 312.5L167.8 312.4L167.5 312.4L166.6 312.3L165.7 312.4L165.4 312.4L164.8 312.5L163.9 313L163.6 313.4L163 314.3L163 314.3L162.6 315.2L162.3 316.2L162.1 317L162.1 317.1L161.8 318L161.5 319L161.3 319.9L161.2 320.2L161 320.8L160.7 321.8L160.4 322.7L160.3 322.9L160 323.6L159.6 324.6L159.4 325.2L159.2 325.5L158.8 326.4L158.5 327L158.3 327.4L157.8 328.3L157.6 328.6L157.2 329.2L156.7 330L156.5 330.2L155.8 331.1L155.8 331.2L155.1 332L154.9 332.3L154.3 333L154 333.3L153.5 333.9L153.1 334.3L152.7 334.8L152.2 335.4L151.9 335.8L151.3 336.4L151.1 336.7L150.4 337.6L150.4 337.6L149.7 338.6L149.5 338.9L149.1 339.5L148.6 340.4L148.6 340.4L148.1 341.4L147.7 342.3L147.7 342.3L147.3 343.2L147 344.2L146.8 345.1L146.8 345.2L146.6 346L146.5 347L146.4 347.9L146.4 348.8L146.4 349.8L146.5 350.7L146.6 351.6L146.8 352.5L146.8 352.6L147 353.5L147.4 354.4L147.7 355.1L147.8 355.4L148.3 356.3L148.6 356.8L148.8 357.2L149.5 358.1L149.6 358.2L150.4 359.1L150.4 359.1L151.3 359.9L151.4 360L152.2 360.6L152.7 361L153.1 361.2L154 361.7L154.4 361.9L154.9 362.1L155.8 362.5L156.7 362.8L156.8 362.8ZM123.4 318.1L124.3 318.2L125.2 318.3L126.1 318.3L127 318.3L127.9 318.2L128.8 318.1L129.2 318L129.7 317.9L130.6 317.7L131.5 317.5L132.4 317.2L132.7 317.1L133.3 316.9L134.2 316.5L134.8 316.2L135.1 316L136 315.5L136.5 315.2L136.9 315L137.8 314.4L137.9 314.3L138.7 313.7L139.1 313.4L139.6 313L140.3 312.4L140.5 312.3L141.4 311.6L141.5 311.5L142.3 310.9L142.7 310.6L143.2 310.2L144 309.6L144.1 309.6L145 309L145.6 308.7L145.9 308.5L146.8 308.1L147.7 307.8L147.8 307.8L148.6 307.5L149.5 307.3L150.4 307.1L151.3 307.1L152.2 307L153.1 307L154 307L154.9 307.1L155.8 307.1L156.7 307.1L157.6 307.1L158.5 306.8L158.5 306.8L159.4 305.9L159.4 305.9L159.6 304.9L159.7 304L159.6 303.1L159.5 302.1L159.4 301.8L159.2 301.2L159 300.3L158.6 299.3L158.5 298.9L158.3 298.4L157.9 297.5L157.6 296.8L157.4 296.5L157 295.6L156.7 295L156.5 294.7L156 293.7L155.8 293.3L155.5 292.8L155 291.9L154.9 291.7L154.5 290.9L154 290.1L153.9 290L153.4 289.1L153.1 288.5L152.9 288.1L152.3 287.2L152.2 286.9L151.8 286.3L151.3 285.4L151.2 285.3L150.7 284.4L150.4 283.9L150.1 283.5L149.5 282.5L149.5 282.5L148.9 281.6L148.6 281.1L148.3 280.7L147.7 279.8L147.7 279.7L147 278.8L146.8 278.5L146.3 277.9L145.9 277.4L145.5 276.9L145 276.3L144.7 276L144.1 275.3L143.9 275.1L143.2 274.3L143 274.1L142.3 273.4L142.1 273.2L141.4 272.6L141 272.3L140.5 271.8L139.8 271.3L139.6 271.1L138.7 270.5L138.5 270.4L137.8 270L136.9 269.5L136.9 269.5L136 269L135.1 268.7L134.6 268.5L134.2 268.4L133.3 268.2L132.4 268.1L131.5 268L130.6 268.1L129.7 268.2L128.8 268.4L128.3 268.5L127.9 268.7L127 269.1L126.2 269.5L126.1 269.6L125.2 270.1L124.7 270.4L124.3 270.7L123.5 271.3L123.4 271.4L122.5 272.2L122.4 272.3L121.6 273L121.4 273.2L120.7 273.9L120.4 274.1L119.8 274.8L119.5 275.1L118.9 275.8L118.7 276L118 276.8L117.8 276.9L117.1 277.8L117 277.9L116.2 278.8L116.2 278.9L115.5 279.7L115.3 280L114.7 280.7L114.4 281.2L114 281.6L113.5 282.4L113.4 282.5L112.8 283.5L112.6 283.8L112.2 284.4L111.7 285.3L111.7 285.4L111.2 286.3L110.8 287.2L110.8 287.2L110.4 288.1L110 289.1L109.9 289.6L109.7 290L109.5 290.9L109.2 291.9L109.1 292.8L109 293.5L108.9 293.7L108.8 294.7L108.7 295.6L108.7 296.5L108.7 297.5L108.8 298.4L108.8 299.3L108.9 300.3L109 300.5L109.1 301.2L109.2 302.1L109.4 303.1L109.7 304L109.9 304.7L109.9 304.9L110.3 305.9L110.6 306.8L110.8 307.2L111 307.8L111.5 308.7L111.7 309L112 309.6L112.5 310.6L112.6 310.6L113.2 311.5L113.5 311.9L113.9 312.4L114.4 312.9L114.7 313.4L115.3 313.9L115.7 314.3L116.2 314.7L116.8 315.2L117.1 315.4L118 316L118.2 316.2L118.9 316.5L119.8 317L120 317.1L120.7 317.3L121.6 317.6L122.5 317.9L123.2 318ZM159.4 358.2L160.3 358.3L161.2 358.2L161.8 358.2L162.1 358.1L163 357.9L163.9 357.5L164.5 357.2L164.8 357L165.7 356.4L165.9 356.3L166.6 355.7L166.9 355.4L167.5 354.7L167.7 354.4L168.4 353.5L168.4 353.5L169 352.6L169.3 352.1L169.6 351.6L170.1 350.7L170.2 350.5L170.5 349.8L171 348.8L171.1 348.7L171.5 347.9L171.9 347L172 346.8L172.4 346L172.8 345.1L172.9 344.9L173.3 344.2L173.8 343.2L173.8 343.1L174.2 342.3L174.7 341.4L174.7 341.3L175.1 340.4L175.5 339.5L175.6 339.3L175.9 338.6L176.2 337.6L176.5 336.7L176.5 336.7L176.7 335.8L176.9 334.8L177 333.9L177 333L177 332L176.9 331.1L176.7 330.2L176.5 329.6L176.3 329.2L175.7 328.3L175.6 328.2L174.7 327.4L174.6 327.4L173.8 327L172.9 326.8L172 326.9L171.1 327.1L170.4 327.4L170.2 327.4L169.3 328L168.9 328.3L168.4 328.6L167.7 329.2L167.5 329.4L166.8 330.2L166.6 330.3L165.9 331.1L165.7 331.3L165 332L164.8 332.2L164 333L163.9 333.1L163.1 333.9L163 334L162.1 334.8L162 334.8L161.2 335.5L160.9 335.8L160.3 336.2L159.7 336.7L159.4 336.9L158.5 337.6L158.5 337.6L157.6 338.3L157.3 338.6L156.7 339.1L156.2 339.5L155.8 339.9L155.2 340.4L154.9 340.8L154.3 341.4L154 341.8L153.6 342.3L153.1 343.1L153 343.2L152.5 344.2L152.2 344.8L152.1 345.1L151.8 346L151.5 347L151.4 347.9L151.3 348.8L151.4 349.8L151.5 350.7L151.7 351.6L152.1 352.6L152.2 352.8L152.5 353.5L153.1 354.4L153.1 354.4L153.8 355.4L154 355.5L154.8 356.3L154.9 356.3L155.8 356.9L156.3 357.2L156.7 357.4L157.6 357.8L158.5 358L159.1 358.2ZM121.6 310.6L122.5 310.9L123.4 311.1L124.3 311.3L125.2 311.4L126.1 311.4L127 311.3L127.9 311.1L128.8 310.9L129.7 310.6L129.7 310.6L130.6 310.2L131.5 309.7L131.6 309.6L132.4 309.1L133 308.7L133.3 308.5L134.1 307.8L134.2 307.7L135.1 306.9L135.1 306.8L136 305.9L136 305.9L136.8 304.9L136.9 304.9L137.6 304L137.8 303.9L138.4 303.1L138.7 302.8L139.2 302.1L139.6 301.7L139.9 301.2L140.5 300.5L140.7 300.3L141.4 299.4L141.4 299.3L142.1 298.4L142.3 298.1L142.7 297.5L143.2 296.7L143.3 296.5L143.7 295.6L144.1 294.8L144.1 294.7L144.4 293.7L144.6 292.8L144.7 291.9L144.8 290.9L144.7 290L144.7 289.1L144.5 288.1L144.3 287.2L144.1 286.4L144 286.3L143.7 285.3L143.3 284.4L143.2 284.1L142.9 283.5L142.4 282.5L142.3 282.3L141.8 281.6L141.4 281L141.2 280.7L140.5 279.8L140.4 279.7L139.6 278.9L139.5 278.8L138.7 278L138.5 277.9L137.8 277.3L137.2 276.9L136.9 276.8L136 276.3L135.3 276L135.1 275.9L134.2 275.7L133.3 275.5L132.4 275.4L131.5 275.4L130.6 275.6L129.7 275.8L128.9 276L128.8 276.1L127.9 276.4L127 276.9L126.9 276.9L126.1 277.4L125.4 277.9L125.2 278L124.3 278.7L124.1 278.8L123.4 279.4L123 279.7L122.5 280.2L121.9 280.7L121.6 281L121 281.6L120.7 281.9L120.1 282.5L119.8 282.9L119.2 283.5L118.9 283.9L118.5 284.4L118 285.1L117.8 285.3L117.1 286.3L117.1 286.4L116.6 287.2L116.2 287.9L116.1 288.1L115.6 289.1L115.3 289.9L115.2 290L114.8 290.9L114.6 291.9L114.4 292.7L114.3 292.8L114.1 293.7L114 294.7L113.9 295.6L113.9 296.5L113.9 297.5L113.9 298.4L114 299.3L114.2 300.3L114.4 301.2L114.4 301.2L114.6 302.1L114.9 303.1L115.3 303.9L115.3 304L115.8 304.9L116.2 305.7L116.3 305.9L116.9 306.8L117.1 307L117.7 307.8L118 308.1L118.6 308.7L118.9 308.9L119.8 309.6L119.8 309.6L120.7 310.1L121.5 310.6Z" stroke="#333333" stroke-width="1.8" fill="none" stroke-linejoin="round"/>
</g>
<g clip-path="url(#c11)">
<rect x="274.67" y="213" width="180" height="185.2" fill="#eaeaf2"/>
<path d="M333.5 213v185.2M403.5 213v185.2" stroke="#fff" stroke-width="1.2" stroke-linecap="round" fill="none"/>
<rect x="307.13" y="335.13" width="11.67" height="63.97" fill="#55a868" fill-opacity="0.25"/>
<rect x="318.81" y="292.49" width="11.67" height="106.61" fill="#55a868" fill-opacity="0.25"/>
<rect x="330.48" y="304.67" width="11.67" height="94.43" fill="#55a868" fill-opacity="0.25"/>
<rect x="342.15" y="313.81" width="11.67" height="85.29" fill="#55a868" fill-opacity="0.25"/>
<rect x="353.83" y="380.82" width="11.67" height="18.28" fill="#55a868" fill-opacity="0.25"/>
<rect x="365.5" y="393.01" width="11.67" height="6.09" fill="#55a868" fill-opacity="0.25"/>
<rect x="342.15" y="396.05" width="11.67" height="3.05" fill="#dd8452" fill-opacity="0.25"/>
<rect x="353.83" y="368.64" width="11.67" height="30.46" fill="#dd8452" fill-opacity="0.25"/>
<rect x="365.5" y="347.32" width="11.67" height="51.78" fill="#dd8452" fill-opacity="0.25"/>
<rect x="377.17" y="350.36" width="11.67" height="48.74" fill="#dd8452" fill-opacity="0.25"/>
<rect x="388.85" y="350.36" width="11.67" height="48.74" fill="#dd8452" fill-opacity="0.25"/>
<rect x="400.52" y="380.82" width="11.67" height="18.28" fill="#dd8452" fill-opacity="0.25"/>
<rect x="412.19" y="393.01" width="11.67" height="6.09" fill="#dd8452" fill-opacity="0.25"/>
<rect x="330.48" y="396.05" width="11.67" height="3.05" fill="#4c72b0" fill-opacity="0.25"/>
<rect x="342.15" y="383.87" width="11.67" height="15.23" fill="#4c72b0" fill-opacity="0.25"/>
<rect x="353.83" y="313.81" width="11.67" height="85.29" fill="#4c72b0" fill-opacity="0.25"/>
<rect x="365.5" y="289.44" width="11.67" height="109.66" fill="#4c72b0" fill-opacity="0.25"/>
<rect x="377.17" y="277.26" width="11.67" height="121.84" fill="#4c72b0" fill-opacity="0.25"/>
<rect x="388.85" y="329.04" width="11.67" height="70.06" fill="#4c72b0" fill-opacity="0.25"/>
<rect x="400.52" y="368.64" width="11.67" height="30.46" fill="#4c72b0" fill-opacity="0.25"/>
<rect x="412.19" y="374.73" width="11.67" height="24.37" fill="#4c72b0" fill-opacity="0.25"/>
<path d="M307.1 378L307.7 375.1L308.3 371.9L308.9 368.4L309.5 364.7L310.1 360.8L310.7 356.7L311.2 352.4L311.8 348L312.4 343.4L313 338.8L313.6 334.1L314.2 329.5L314.8 324.9L315.3 320.4L315.9 316.1L316.5 311.9L317.1 308L317.7 304.4L318.3 301L318.9 298L319.5 295.3L320 293L320.6 291L321.2 289.4L321.8 288.2L322.4 287.3L323 286.7L323.6 286.5L324.1 286.5L324.7 286.7L325.3 287.2L325.9 287.9L326.5 288.7L327.1 289.6L327.7 290.6L328.3 291.7L328.8 292.8L329.4 293.9L330 295.1L330.6 296.2L331.2 297.4L331.8 298.6L332.4 299.8L332.9 300.9L333.5 302.1L334.1 303.3L334.7 304.5L335.3 305.6L335.9 306.7L336.5 307.8L337 308.7L337.6 309.7L338.2 310.5L338.8 311.2L339.4 311.8L340 312.4L340.6 312.8L341.2 313.2L341.7 313.6L342.3 313.9L342.9 314.3L343.5 314.7L344.1 315.2L344.7 315.8L345.3 316.6L345.8 317.5L346.4 318.7L347 320L347.6 321.6L348.2 323.5L348.8 325.5L349.4 327.8L350 330.3L350.5 332.9L351.1 335.7L351.7 338.6L352.3 341.6L352.9 344.7L353.5 347.8L354.1 350.9L354.6 353.9L355.2 356.9L355.8 359.8L356.4 362.5L357 365.2L357.6 367.7L358.2 370L358.8 372.1L359.3 374.1L359.9 376L360.5 377.6L361.1 379.2L361.7 380.5L362.3 381.8L362.9 382.9L363.4 383.9L364 384.8L364.6 385.7L365.2 386.5L365.8 387.2L366.4 387.9L367 388.5L367.6 389.1L368.1 389.7L368.7 390.3L369.3 390.8L369.9 391.4L370.5 392L371.1 392.5L371.7 393L372.2 393.6L372.8 394.1L373.4 394.6L374 395L374.6 395.5L375.2 395.9L375.8 396.3L376.4 396.7L376.9 397L377.5 397.3L378.1 397.6L378.7 397.9L379.3 398.1L379.9 398.3L380.5 398.4L381 398.6L381.6 398.7L382.2 398.8L382.8 398.8L383.4 398.9L384 399L384.6 399L385.2 399L385.7 399L386.3 399.1L386.9 399.1L387.5 399.1L388.1 399.1L388.7 399.1L389.3 399.1L389.8 399.1L390.4 399.1L391 399.1L391.6 399.1L392.2 399.1L392.8 399.1L393.4 399.1L394 399.1L394.5 399.1L395.1 399.1L395.7 399.1L396.3 399.1L396.9 399.1L397.5 399.1L398.1 399.1L398.6 399.1L399.2 399.1L399.8 399.1L400.4 399.1L401 399.1L401.6 399.1L402.2 399.1L402.7 399.1L403.3 399.1L403.9 399.1L404.5 399.1L405.1 399.1L405.7 399.1L406.3 399.1L406.9 399.1L407.4 399.1L408 399.1L408.6 399.1L409.2 399.1L409.8 399.1L410.4 399.1L411 399.1L411.5 399.1L412.1 399.1L412.7 399.1L413.3 399.1L413.9 399.1L414.5 399.1L415.1 399.1L415.7 399.1L416.2 399.1L416.8 399.1L417.4 399.1L418 399.1L418.6 399.1L419.2 399.1L419.8 399.1L420.3 399.1L420.9 399.1L421.5 399.1L422.1 399.1L422.7 399.1L423.3 399.1L423.9 399.1" stroke="#55a868" stroke-width="1.8" fill="none" stroke-linecap="square" stroke-linejoin="round"/>
<path d="M307.1 399.1L307.7 399.1L308.3 399.1L308.9 399.1L309.5 399.1L310.1 399.1L310.7 399.1L311.2 399.1L311.8 399.1L312.4 399.1L313 399.1L313.6 399.1L314.2 399.1L314.8 399.1L315.3 399.1L315.9 399.1L316.5 399.1L317.1 399.1L317.7 399.1L318.3 399.1L318.9 399.1L319.5 399.1L320 399.1L320.6 399.1L321.2 399.1L321.8 399.1L322.4 399.1L323 399.1L323.6 399.1L324.1 399.1L324.7 399.1L325.3 399.1L325.9 399.1L326.5 399.1L327.1 399.1L327.7 399.1L328.3 399.1L328.8 399.1L329.4 399.1L330 399.1L330.6 399.1L331.2 399L331.8 399L332.4 399L332.9 399L333.5 399L334.1 398.9L334.7 398.9L335.3 398.8L335.9 398.8L336.5 398.7L337 398.6L337.6 398.5L338.2 398.4L338.8 398.2L339.4 398.1L340 397.9L340.6 397.7L341.2 397.4L341.7 397.1L342.3 396.8L342.9 396.5L343.5 396.1L344.1 395.6L344.7 395.2L345.3 394.7L345.8 394.1L346.4 393.5L347 392.8L347.6 392.1L348.2 391.3L348.8 390.5L349.4 389.7L350 388.8L350.5 387.9L351.1 386.9L351.7 385.9L352.3 384.8L352.9 383.7L353.5 382.6L354.1 381.4L354.6 380.2L355.2 379L355.8 377.8L356.4 376.6L357 375.3L357.6 374.1L358.2 372.9L358.8 371.6L359.3 370.4L359.9 369.1L360.5 367.9L361.1 366.7L361.7 365.5L362.3 364.4L362.9 363.3L363.4 362.2L364 361.1L364.6 360.1L365.2 359.1L365.8 358.2L366.4 357.3L367 356.5L367.6 355.7L368.1 354.9L368.7 354.2L369.3 353.6L369.9 353L370.5 352.4L371.1 351.9L371.7 351.5L372.2 351.1L372.8 350.7L373.4 350.4L374 350.1L374.6 349.8L375.2 349.6L375.8 349.4L376.4 349.3L376.9 349.2L377.5 349.1L378.1 349L378.7 348.9L379.3 348.9L379.9 348.9L380.5 348.9L381 348.9L381.6 348.9L382.2 348.9L382.8 349L383.4 349L384 349.1L384.6 349.2L385.2 349.3L385.7 349.4L386.3 349.6L386.9 349.8L387.5 350L388.1 350.2L388.7 350.5L389.3 350.8L389.8 351.1L390.4 351.5L391 352L391.6 352.5L392.2 353L392.8 353.6L393.4 354.3L394 355L394.5 355.7L395.1 356.6L395.7 357.4L396.3 358.3L396.9 359.3L397.5 360.3L398.1 361.3L398.6 362.4L399.2 363.5L399.8 364.6L400.4 365.7L401 366.9L401.6 368L402.2 369.2L402.7 370.3L403.3 371.5L403.9 372.7L404.5 373.8L405.1 374.9L405.7 376L406.3 377.1L406.9 378.2L407.4 379.2L408 380.2L408.6 381.2L409.2 382.1L409.8 383L410.4 383.9L411 384.7L411.5 385.5L412.1 386.3L412.7 387L413.3 387.7L413.9 388.4L414.5 389L415.1 389.7L415.7 390.3L416.2 390.8L416.8 391.4L417.4 391.9L418 392.4L418.6 392.9L419.2 393.4L419.8 393.8L420.3 394.2L420.9 394.6L421.5 395L422.1 395.4L422.7 395.7L423.3 396.1L423.9 396.4" stroke="#dd8452" stroke-width="1.8" fill="none" stroke-linecap="square" stroke-linejoin="round"/>
<path d="M307.1 399.1L307.7 399.1L308.3 399.1L308.9 399.1L309.5 399.1L310.1 399.1L310.7 399.1L311.2 399.1L311.8 399.1L312.4 399.1L313 399.1L313.6 399.1L314.2 399.1L314.8 399.1L315.3 399.1L315.9 399.1L316.5 399.1L317.1 399.1L317.7 399.1L318.3 399.1L318.9 399.1L319.5 399.1L320 399.1L320.6 399.1L321.2 399.1L321.8 399.1L322.4 399L323 399L323.6 399L324.1 399L324.7 398.9L325.3 398.9L325.9 398.8L326.5 398.8L327.1 398.7L327.7 398.6L328.3 398.5L328.8 398.4L329.4 398.3L330 398.1L330.6 397.9L331.2 397.8L331.8 397.5L332.4 397.3L332.9 397.1L333.5 396.8L334.1 396.5L334.7 396.2L335.3 395.8L335.9 395.4L336.5 395L337 394.6L337.6 394.2L338.2 393.7L338.8 393.1L339.4 392.6L340 392L340.6 391.3L341.2 390.6L341.7 389.8L342.3 389L342.9 388.1L343.5 387.1L344.1 386.1L344.7 384.9L345.3 383.6L345.8 382.3L346.4 380.8L347 379.2L347.6 377.5L348.2 375.6L348.8 373.6L349.4 371.5L350 369.3L350.5 366.9L351.1 364.5L351.7 361.9L352.3 359.2L352.9 356.5L353.5 353.6L354.1 350.8L354.6 347.9L355.2 345L355.8 342.1L356.4 339.2L357 336.4L357.6 333.6L358.2 330.9L358.8 328.4L359.3 325.9L359.9 323.5L360.5 321.3L361.1 319.2L361.7 317.2L362.3 315.3L362.9 313.5L363.4 311.8L364 310.2L364.6 308.7L365.2 307.2L365.8 305.8L366.4 304.4L367 303L367.6 301.7L368.1 300.3L368.7 298.9L369.3 297.5L369.9 296.1L370.5 294.7L371.1 293.2L371.7 291.8L372.2 290.4L372.8 288.9L373.4 287.5L374 286.2L374.6 284.8L375.2 283.6L375.8 282.3L376.4 281.2L376.9 280.1L377.5 279.2L378.1 278.3L378.7 277.6L379.3 277L379.9 276.5L380.5 276.2L381 276.1L381.6 276.1L382.2 276.4L382.8 276.9L383.4 277.5L384 278.5L384.6 279.6L385.2 281L385.7 282.6L386.3 284.5L386.9 286.5L387.5 288.8L388.1 291.3L388.7 294L389.3 296.8L389.8 299.8L390.4 302.9L391 306.1L391.6 309.3L392.2 312.6L392.8 315.9L393.4 319.2L394 322.5L394.5 325.7L395.1 328.8L395.7 331.9L396.3 334.8L396.9 337.6L397.5 340.3L398.1 342.8L398.6 345.3L399.2 347.5L399.8 349.7L400.4 351.7L401 353.5L401.6 355.3L402.2 356.9L402.7 358.3L403.3 359.7L403.9 361L404.5 362.1L405.1 363.2L405.7 364.2L406.3 365.1L406.9 365.9L407.4 366.6L408 367.3L408.6 368L409.2 368.6L409.8 369.2L410.4 369.8L411 370.3L411.5 370.9L412.1 371.5L412.7 372.1L413.3 372.7L413.9 373.3L414.5 374L415.1 374.7L415.7 375.4L416.2 376.2L416.8 377.1L417.4 378L418 378.9L418.6 379.8L419.2 380.8L419.8 381.8L420.3 382.8L420.9 383.8L421.5 384.9L422.1 385.9L422.7 386.9L423.3 387.8L423.9 388.8" stroke="#4c72b0" stroke-width="1.8" fill="none" stroke-linecap="square" stroke-linejoin="round"/>
</g>
<g clip-path="url(#c20)">
<rect x="69" y="418" width="180" height="185.2" fill="#eaeaf2"/>
<path d="M88.5 418v185.2M133.5 418v185.2M178.5 418v185.2M223.5 418v185.2M70 596.5h179M70 555.5h179M70 514.5h179M70 473.5h179M70 432.5h179" stroke="#fff" stroke-width="1.2" stroke-linecap="round" fill="none"/>
<path d="M109.6 526.5h7.8m-3.9-3.9v7.8M113.6 536.5h7.8m-3.9-3.9v7.8M123.6 532.5h7.8m-3.9-3.9v7.8M133.6 514.5h7.8m-3.9-3.9v7.8M131.6 532.5h7.8m-3.9-3.9v7.8M114.6 530.5h7.8m-3.9-3.9v7.8M137.6 528.5h7.8m-3.9-3.9v7.8M117.6 547.5h7.8m-3.9-3.9v7.8M128.6 528.5h7.8m-3.9-3.9v7.8M116.6 528.5h7.8m-3.9-3.9v7.8M130.6 504.5h7.8m-3.9-3.9v7.8M140.6 522.5h7.8m-3.9-3.9v7.8M126.6 526.5h7.8m-3.9-3.9v7.8M117.6 536.5h7.8m-3.9-3.9v7.8M129.6 545.5h7.8m-3.9-3.9v7.8M100.6 534.5h7.8m-3.9-3.9v7.8M125.6 532.5h7.8m-3.9-3.9v7.8M119.6 534.5h7.8m-3.9-3.9v7.8M153.6 532.5h7.8m-3.9-3.9v7.8M130.6 530.5h7.8m-3.9-3.9v7.8M118.6 555.5h7.8m-3.9-3.9v7.8M108.6 534.5h7.8m-3.9-3.9v7.8M115.6 549.5h7.8m-3.9-3.9v7.8M135.6 545.5h7.8m-3.9-3.9v7.8M120.6 534.5h7.8m-3.9-3.9v7.8M116.6 530.5h7.8m-3.9-3.9v7.8M137.6 524.5h7.8m-3.9-3.9v7.8M138.6 524.5h7.8m-3.9-3.9v7.8M157.6 526.5h7.8m-3.9-3.9v7.8M122.6 536.5h7.8m-3.9-3.9v7.8M107.6 532.5h7.8m-3.9-3.9v7.8M151.6 520.5h7.8m-3.9-3.9v7.8M128.6 538.5h7.8m-3.9-3.9v7.8M120.6 536.5h7.8m-3.9-3.9v7.8M133.6 530.5h7.8m-3.9-3.9v7.8M125.6 526.5h7.8m-3.9-3.9v7.8M141.6 551.5h7.8m-3.9-3.9v7.8M125.6 524.5h7.8m-3.9-3.9v7.8M144.6 500.5h7.8m-3.9-3.9v7.8M103.6 547.5h7.8m-3.9-3.9v7.8M107.6 538.5h7.8m-3.9-3.9v7.8M120.6 571.5h7.8m-3.9-3.9v7.8M120.6 536.5h7.8m-3.9-3.9v7.8M102.6 555.5h7.8m-3.9-3.9v7.8M117.6 532.5h7.8m-3.9-3.9v7.8M109.6 536.5h7.8m-3.9-3.9v7.8M113.6 516.5h7.8m-3.9-3.9v7.8M132.6 528.5h7.8m-3.9-3.9v7.8M128.6 489.5h7.8m-3.9-3.9v7.8M116.6 526.5h7.8m-3.9-3.9v7.8M125.6 553.5h7.8m-3.9-3.9v7.8M135.6 524.5h7.8m-3.9-3.9v7.8M131.6 524.5h7.8m-3.9-3.9v7.8M133.6 542.5h7.8m-3.9-3.9v7.8M130.6 512.5h7.8m-3.9-3.9v7.8M134.6 542.5h7.8m-3.9-3.9v7.8M123.6 540.5h7.8m-3.9-3.9v7.8M115.6 542.5h7.8m-3.9-3.9v7.8M143.6 520.5h7.8m-3.9-3.9v7.8M132.6 522.5h7.8m-3.9-3.9v7.8M110.6 557.5h7.8m-3.9-3.9v7.8M121.6 538.5h7.8m-3.9-3.9v7.8M112.6 561.5h7.8m-3.9-3.9v7.8M115.6 534.5h7.8m-3.9-3.9v7.8M139.6 520.5h7.8m-3.9-3.9v7.8M104.6 549.5h7.8m-3.9-3.9v7.8M113.6 524.5h7.8m-3.9-3.9v7.8M123.6 528.5h7.8m-3.9-3.9v7.8M132.6 538.5h7.8m-3.9-3.9v7.8M142.6 514.5h7.8m-3.9-3.9v7.8M110.6 524.5h7.8m-3.9-3.9v7.8M134.6 551.5h7.8m-3.9-3.9v7.8M134.6 534.5h7.8m-3.9-3.9v7.8M121.6 538.5h7.8m-3.9-3.9v7.8M140.6 512.5h7.8m-3.9-3.9v7.8M112.6 532.5h7.8m-3.9-3.9v7.8M103.6 549.5h7.8m-3.9-3.9v7.8M115.6 540.5h7.8m-3.9-3.9v7.8M131.6 528.5h7.8m-3.9-3.9v7.8M138.6 542.5h7.8m-3.9-3.9v7.8M122.6 534.5h7.8m-3.9-3.9v7.8M112.6 559.5h7.8m-3.9-3.9v7.8M117.6 518.5h7.8m-3.9-3.9v7.8M118.6 553.5h7.8m-3.9-3.9v7.8M129.6 551.5h7.8m-3.9-3.9v7.8M129.6 536.5h7.8m-3.9-3.9v7.8M112.6 553.5h7.8m-3.9-3.9v7.8M130.6 524.5h7.8m-3.9-3.9v7.8M115.6 516.5h7.8m-3.9-3.9v7.8M94.6 538.5h7.8m-3.9-3.9v7.8M121.6 522.5h7.8m-3.9-3.9v7.8M124.6 512.5h7.8m-3.9-3.9v7.8M111.6 555.5h7.8m-3.9-3.9v7.8M124.6 534.5h7.8m-3.9-3.9v7.8M118.6 557.5h7.8m-3.9-3.9v7.8M108.6 510.5h7.8m-3.9-3.9v7.8M112.6 540.5h7.8m-3.9-3.9v7.8M110.6 545.5h7.8m-3.9-3.9v7.8M149.6 536.5h7.8m-3.9-3.9v7.8M129.6 540.5h7.8m-3.9-3.9v7.8M125.6 526.5h7.8m-3.9-3.9v7.8M124.6 526.5h7.8m-3.9-3.9v7.8M119.6 530.5h7.8m-3.9-3.9v7.8M123.6 514.5h7.8m-3.9-3.9v7.8M114.6 534.5h7.8m-3.9-3.9v7.8M127.6 530.5h7.8m-3.9-3.9v7.8M136.6 526.5h7.8m-3.9-3.9v7.8M128.6 506.5h7.8m-3.9-3.9v7.8M124.6 540.5h7.8m-3.9-3.9v7.8M131.6 512.5h7.8m-3.9-3.9v7.8M127.6 518.5h7.8m-3.9-3.9v7.8M121.6 528.5h7.8m-3.9-3.9v7.8M108.6 528.5h7.8m-3.9-3.9v7.8M106.6 545.5h7.8m-3.9-3.9v7.8M130.6 545.5h7.8m-3.9-3.9v7.8M135.6 530.5h7.8m-3.9-3.9v7.8M106.6 540.5h7.8m-3.9-3.9v7.8M126.6 526.5h7.8m-3.9-3.9v7.8M132.6 532.5h7.8m-3.9-3.9v7.8M126.6 545.5h7.8m-3.9-3.9v7.8M113.6 530.5h7.8m-3.9-3.9v7.8M119.6 518.5h7.8m-3.9-3.9v7.8M130.6 538.5h7.8m-3.9-3.9v7.8M111.6 528.5h7.8m-3.9-3.9v7.8M147.6 496.5h7.8m-3.9-3.9v7.8M146.6 516.5h7.8m-3.9-3.9v7.8M139.6 536.5h7.8m-3.9-3.9v7.8M127.6 547.5h7.8m-3.9-3.9v7.8M137.6 518.5h7.8m-3.9-3.9v7.8M129.6 530.5h7.8m-3.9-3.9v7.8M118.6 545.5h7.8m-3.9-3.9v7.8M143.6 542.5h7.8m-3.9-3.9v7.8M117.6 549.5h7.8m-3.9-3.9v7.8M116.6 530.5h7.8m-3.9-3.9v7.8M121.6 551.5h7.8m-3.9-3.9v7.8M122.6 532.5h7.8m-3.9-3.9v7.8M136.6 524.5h7.8m-3.9-3.9v7.8M136.6 532.5h7.8m-3.9-3.9v7.8M126.6 522.5h7.8m-3.9-3.9v7.8M119.6 565.5h7.8m-3.9-3.9v7.8M133.6 538.5h7.8m-3.9-3.9v7.8M105.6 557.5h7.8m-3.9-3.9v7.8M145.6 534.5h7.8m-3.9-3.9v7.8M121.6 516.5h7.8m-3.9-3.9v7.8M121.6 547.5h7.8m-3.9-3.9v7.8M98.6 559.5h7.8m-3.9-3.9v7.8M114.6 542.5h7.8m-3.9-3.9v7.8M134.6 536.5h7.8m-3.9-3.9v7.8M138.6 532.5h7.8m-3.9-3.9v7.8M122.6 536.5h7.8m-3.9-3.9v7.8M128.6 540.5h7.8m-3.9-3.9v7.8" stroke="#4c72b0" stroke-width="0.62" fill="none"/>
<path d="M165.6 516.5h7.8m-3.9-3.9v7.8M209.6 553.5h7.8m-3.9-3.9v7.8M175.6 532.5h7.8m-3.9-3.9v7.8M173.6 532.5h7.8m-3.9-3.9v7.8M173.6 524.5h7.8m-3.9-3.9v7.8M174.6 506.5h7.8m-3.9-3.9v7.8M143.6 540.5h7.8m-3.9-3.9v7.8M199.6 500.5h7.8m-3.9-3.9v7.8M153.6 530.5h7.8m-3.9-3.9v7.8M156.6 542.5h7.8m-3.9-3.9v7.8M175.6 506.5h7.8m-3.9-3.9v7.8M168.6 516.5h7.8m-3.9-3.9v7.8M158.6 520.5h7.8m-3.9-3.9v7.8M195.6 526.5h7.8m-3.9-3.9v7.8M188.6 502.5h7.8m-3.9-3.9v7.8M159.6 534.5h7.8m-3.9-3.9v7.8M178.6 512.5h7.8m-3.9-3.9v7.8M171.6 518.5h7.8m-3.9-3.9v7.8M172.6 516.5h7.8m-3.9-3.9v7.8M163.6 516.5h7.8m-3.9-3.9v7.8M150.6 518.5h7.8m-3.9-3.9v7.8M174.6 510.5h7.8m-3.9-3.9v7.8M179.6 532.5h7.8m-3.9-3.9v7.8M180.6 502.5h7.8m-3.9-3.9v7.8M140.6 557.5h7.8m-3.9-3.9v7.8M176.6 508.5h7.8m-3.9-3.9v7.8M178.6 514.5h7.8m-3.9-3.9v7.8M147.6 536.5h7.8m-3.9-3.9v7.8M157.6 526.5h7.8m-3.9-3.9v7.8M177.6 489.5h7.8m-3.9-3.9v7.8M185.6 522.5h7.8m-3.9-3.9v7.8M152.6 532.5h7.8m-3.9-3.9v7.8M146.6 524.5h7.8m-3.9-3.9v7.8M179.6 528.5h7.8m-3.9-3.9v7.8M155.6 528.5h7.8m-3.9-3.9v7.8M149.6 547.5h7.8m-3.9-3.9v7.8M156.6 524.5h7.8m-3.9-3.9v7.8M182.6 498.5h7.8m-3.9-3.9v7.8M154.6 520.5h7.8m-3.9-3.9v7.8M181.6 520.5h7.8m-3.9-3.9v7.8M134.6 538.5h7.8m-3.9-3.9v7.8M170.6 514.5h7.8m-3.9-3.9v7.8M186.6 504.5h7.8m-3.9-3.9v7.8M176.6 518.5h7.8m-3.9-3.9v7.8M159.6 522.5h7.8m-3.9-3.9v7.8M181.6 538.5h7.8m-3.9-3.9v7.8M152.6 514.5h7.8m-3.9-3.9v7.8M154.6 534.5h7.8m-3.9-3.9v7.8M180.6 520.5h7.8m-3.9-3.9v7.8M162.6 545.5h7.8m-3.9-3.9v7.8M183.6 496.5h7.8m-3.9-3.9v7.8M174.6 524.5h7.8m-3.9-3.9v7.8M158.6 549.5h7.8m-3.9-3.9v7.8M178.6 536.5h7.8m-3.9-3.9v7.8M176.6 528.5h7.8m-3.9-3.9v7.8M156.6 530.5h7.8m-3.9-3.9v7.8M177.6 510.5h7.8m-3.9-3.9v7.8M184.6 522.5h7.8m-3.9-3.9v7.8M155.6 512.5h7.8m-3.9-3.9v7.8M177.6 522.5h7.8m-3.9-3.9v7.8M160.6 528.5h7.8m-3.9-3.9v7.8M182.6 542.5h7.8m-3.9-3.9v7.8M166.6 526.5h7.8m-3.9-3.9v7.8M178.6 491.5h7.8m-3.9-3.9v7.8M179.6 518.5h7.8m-3.9-3.9v7.8M169.6 524.5h7.8m-3.9-3.9v7.8M191.6 512.5h7.8m-3.9-3.9v7.8M160.6 530.5h7.8m-3.9-3.9v7.8" stroke="#dd8452" stroke-width="0.62" fill="none"/>
<path d="M156.6 485.5h7.8m-3.9-3.9v7.8M166.6 473.5h7.8m-3.9-3.9v7.8M158.6 465.5h7.8m-3.9-3.9v7.8M160.6 489.5h7.8m-3.9-3.9v7.8M154.6 491.5h7.8m-3.9-3.9v7.8M164.6 485.5h7.8m-3.9-3.9v7.8M167.6 473.5h7.8m-3.9-3.9v7.8M154.6 494.5h7.8m-3.9-3.9v7.8M150.6 485.5h7.8m-3.9-3.9v7.8M163.6 469.5h7.8m-3.9-3.9v7.8M142.6 498.5h7.8m-3.9-3.9v7.8M175.6 465.5h7.8m-3.9-3.9v7.8M161.6 483.5h7.8m-3.9-3.9v7.8M158.6 475.5h7.8m-3.9-3.9v7.8M165.6 473.5h7.8m-3.9-3.9v7.8M160.6 496.5h7.8m-3.9-3.9v7.8M176.6 453.5h7.8m-3.9-3.9v7.8M160.6 489.5h7.8m-3.9-3.9v7.8M170.6 459.5h7.8m-3.9-3.9v7.8M153.6 483.5h7.8m-3.9-3.9v7.8M160.6 487.5h7.8m-3.9-3.9v7.8M149.6 489.5h7.8m-3.9-3.9v7.8M173.6 467.5h7.8m-3.9-3.9v7.8M155.6 496.5h7.8m-3.9-3.9v7.8M176.6 467.5h7.8m-3.9-3.9v7.8M146.6 496.5h7.8m-3.9-3.9v7.8M174.6 477.5h7.8m-3.9-3.9v7.8M169.6 471.5h7.8m-3.9-3.9v7.8M164.6 451.5h7.8m-3.9-3.9v7.8M162.6 481.5h7.8m-3.9-3.9v7.8M173.6 463.5h7.8m-3.9-3.9v7.8M171.6 471.5h7.8m-3.9-3.9v7.8M193.6 451.5h7.8m-3.9-3.9v7.8M153.6 494.5h7.8m-3.9-3.9v7.8M178.6 485.5h7.8m-3.9-3.9v7.8M143.6 483.5h7.8m-3.9-3.9v7.8M149.6 475.5h7.8m-3.9-3.9v7.8M145.6 489.5h7.8m-3.9-3.9v7.8M217.6 453.5h7.8m-3.9-3.9v7.8M169.6 469.5h7.8m-3.9-3.9v7.8M172.6 481.5h7.8m-3.9-3.9v7.8M170.6 479.5h7.8m-3.9-3.9v7.8M159.6 498.5h7.8m-3.9-3.9v7.8M144.6 494.5h7.8m-3.9-3.9v7.8M147.6 485.5h7.8m-3.9-3.9v7.8M156.6 477.5h7.8m-3.9-3.9v7.8M157.6 479.5h7.8m-3.9-3.9v7.8M155.6 491.5h7.8m-3.9-3.9v7.8M159.6 463.5h7.8m-3.9-3.9v7.8M187.6 475.5h7.8m-3.9-3.9v7.8M138.6 498.5h7.8m-3.9-3.9v7.8M159.6 483.5h7.8m-3.9-3.9v7.8M168.6 483.5h7.8m-3.9-3.9v7.8M180.6 469.5h7.8m-3.9-3.9v7.8M167.6 475.5h7.8m-3.9-3.9v7.8M169.6 489.5h7.8m-3.9-3.9v7.8M181.6 477.5h7.8m-3.9-3.9v7.8M147.6 496.5h7.8m-3.9-3.9v7.8M154.6 479.5h7.8m-3.9-3.9v7.8M172.6 469.5h7.8m-3.9-3.9v7.8M162.6 455.5h7.8m-3.9-3.9v7.8M160.6 465.5h7.8m-3.9-3.9v7.8M190.6 467.5h7.8m-3.9-3.9v7.8M155.6 487.5h7.8m-3.9-3.9v7.8M174.6 467.5h7.8m-3.9-3.9v7.8M171.6 465.5h7.8m-3.9-3.9v7.8M173.6 494.5h7.8m-3.9-3.9v7.8M148.6 498.5h7.8m-3.9-3.9v7.8M164.6 491.5h7.8m-3.9-3.9v7.8M152.6 479.5h7.8m-3.9-3.9v7.8M140.6 508.5h7.8m-3.9-3.9v7.8M201.6 457.5h7.8m-3.9-3.9v7.8M156.6 483.5h7.8m-3.9-3.9v7.8M166.6 453.5h7.8m-3.9-3.9v7.8M151.6 481.5h7.8m-3.9-3.9v7.8M145.6 477.5h7.8m-3.9-3.9v7.8M175.6 457.5h7.8m-3.9-3.9v7.8M181.6 469.5h7.8m-3.9-3.9v7.8M135.6 481.5h7.8m-3.9-3.9v7.8M152.6 485.5h7.8m-3.9-3.9v7.8M148.6 502.5h7.8m-3.9-3.9v7.8M155.6 473.5h7.8m-3.9-3.9v7.8M177.6 475.5h7.8m-3.9-3.9v7.8M169.6 483.5h7.8m-3.9-3.9v7.8M178.6 471.5h7.8m-3.9-3.9v7.8M168.6 498.5h7.8m-3.9-3.9v7.8M165.6 494.5h7.8m-3.9-3.9v7.8M147.6 496.5h7.8m-3.9-3.9v7.8M157.6 473.5h7.8m-3.9-3.9v7.8M152.6 491.5h7.8m-3.9-3.9v7.8M170.6 471.5h7.8m-3.9-3.9v7.8M151.6 481.5h7.8m-3.9-3.9v7.8M168.6 477.5h7.8m-3.9-3.9v7.8M172.6 485.5h7.8m-3.9-3.9v7.8M153.6 496.5h7.8m-3.9-3.9v7.8M143.6 487.5h7.8m-3.9-3.9v7.8M150.6 489.5h7.8m-3.9-3.9v7.8M156.6 491.5h7.8m-3.9-3.9v7.8M186.6 461.5h7.8m-3.9-3.9v7.8M139.6 494.5h7.8m-3.9-3.9v7.8M184.6 459.5h7.8m-3.9-3.9v7.8M174.6 453.5h7.8m-3.9-3.9v7.8M170.6 473.5h7.8m-3.9-3.9v7.8M165.6 498.5h7.8m-3.9-3.9v7.8M152.6 491.5h7.8m-3.9-3.9v7.8M149.6 487.5h7.8m-3.9-3.9v7.8M158.6 487.5h7.8m-3.9-3.9v7.8M156.6 481.5h7.8m-3.9-3.9v7.8M196.6 453.5h7.8m-3.9-3.9v7.8M174.6 463.5h7.8m-3.9-3.9v7.8M156.6 485.5h7.8m-3.9-3.9v7.8M157.6 479.5h7.8m-3.9-3.9v7.8M171.6 479.5h7.8m-3.9-3.9v7.8M166.6 479.5h7.8m-3.9-3.9v7.8M131.6 485.5h7.8m-3.9-3.9v7.8M161.6 489.5h7.8m-3.9-3.9v7.8M179.6 471.5h7.8m-3.9-3.9v7.8M158.6 477.5h7.8m-3.9-3.9v7.8M183.6 481.5h7.8m-3.9-3.9v7.8M177.6 465.5h7.8m-3.9-3.9v7.8M163.6 455.5h7.8m-3.9-3.9v7.8M178.6 477.5h7.8m-3.9-3.9v7.8M182.6 461.5h7.8m-3.9-3.9v7.8" stroke="#55a868" stroke-width="0.62" fill="none"/>
<path d="M108.1 574.1L109 574.2L109.9 574.3L110.8 574.4L111.7 574.4L112.6 574.4L113.5 574.4L114.4 574.4L115.3 574.3L116.2 574.2L117.1 574.1L117.2 574.1L118 573.9L118.9 573.8L119.8 573.5L120.7 573.3L121 573.1L121.6 572.9L122.5 572.6L123.4 572.2L123.4 572.2L124.3 571.8L125.2 571.3L125.3 571.3L126.1 570.9L127 570.3L127 570.3L127.9 569.8L128.6 569.4L128.8 569.3L129.7 568.8L130.2 568.5L130.6 568.3L131.5 567.7L131.7 567.6L132.4 567.2L133.3 566.7L133.4 566.6L134.2 566.2L135.1 565.7L135.1 565.7L136 565.3L136.9 564.8L136.9 564.8L137.8 564.4L138.7 563.9L138.9 563.8L139.6 563.5L140.5 563.1L141 562.9L141.4 562.7L142.3 562.3L143.1 562L143.2 561.9L144.1 561.6L145 561.2L145.2 561.1L145.9 560.8L146.8 560.4L147.3 560.1L147.7 560L148.6 559.6L149.4 559.2L149.5 559.2L150.4 558.8L151.3 558.4L151.5 558.3L152.2 558L153.1 557.6L153.6 557.3L154 557.2L154.9 556.8L155.7 556.4L155.8 556.4L156.7 556L157.6 555.6L157.9 555.5L158.5 555.2L159.4 554.8L160 554.5L160.3 554.4L161.2 554L162.1 553.6L162.1 553.6L163 553.3L163.9 552.9L164.3 552.7L164.8 552.5L165.7 552.1L166.6 551.8L166.6 551.8L167.5 551.4L168.4 551.1L169.2 550.8L169.3 550.8L170.2 550.5L171.1 550.2L172 550L172.2 549.9L172.9 549.7L173.8 549.5L174.7 549.2L175.6 549L175.6 549L176.5 548.7L177.4 548.4L178.3 548.1L178.5 548L179.2 547.8L180.1 547.5L180.9 547.1L181 547.1L181.9 546.6L182.7 546.2L182.8 546.2L183.7 545.6L184.3 545.3L184.6 545L185.5 544.4L185.6 544.3L186.4 543.7L186.8 543.4L187.3 542.9L187.8 542.5L188.2 542.1L188.8 541.5L189.1 541.2L189.7 540.6L190 540.3L190.5 539.7L190.9 539.2L191.3 538.8L191.8 538.1L192 537.8L192.7 536.9L192.7 536.9L193.4 536L193.6 535.6L194 535L194.5 534.2L194.6 534.1L195.1 533.2L195.4 532.7L195.6 532.3L196.1 531.3L196.3 531L196.6 530.4L197 529.5L197.2 529.1L197.5 528.5L197.8 527.6L198.1 527L198.2 526.7L198.6 525.7L198.9 524.8L199 524.5L199.2 523.9L199.5 523L199.8 522L199.9 521.6L200 521.1L200.3 520.2L200.5 519.2L200.8 518.3L200.8 518.2L201 517.4L201.3 516.5L201.5 515.5L201.7 514.6L201.7 514.6L201.9 513.7L202.1 512.7L202.3 511.8L202.5 510.9L202.6 510.5L202.7 510L202.9 509L203.1 508.1L203.2 507.2L203.4 506.2L203.5 505.3L203.5 505.3L203.6 504.4L203.7 503.5L203.7 502.5L203.7 501.6L203.7 500.7L203.6 499.7L203.5 498.8L203.5 498.8L203.3 497.9L203.1 497L202.8 496L202.6 495.6L202.4 495.1L202 494.2L201.7 493.6L201.6 493.2L201.1 492.3L200.8 491.8L200.6 491.4L200.1 490.4L199.9 490.2L199.6 489.5L199.1 488.6L199 488.4L198.7 487.7L198.3 486.7L198.1 486.1L198 485.8L197.8 484.9L197.7 483.9L197.7 483L197.7 482.1L197.8 481.2L198 480.2L198.1 479.6L198.2 479.3L198.4 478.4L198.7 477.4L198.9 476.5L199 476.4L199.3 475.6L199.6 474.7L199.9 473.8L199.9 473.7L200.3 472.8L200.7 471.9L200.8 471.5L201 470.9L201.4 470L201.7 469.3L201.8 469.1L202.2 468.2L202.6 467.2L202.6 467.2L203 466.3L203.4 465.4L203.5 465L203.8 464.4L204.1 463.5L204.4 462.8L204.5 462.6L204.8 461.6L205.2 460.7L205.3 460.3L205.5 459.8L205.8 458.9L206 457.9L206.2 457.2L206.2 457L206.4 456.1L206.6 455.1L206.7 454.2L206.7 453.3L206.7 452.4L206.7 451.4L206.5 450.5L206.3 449.6L206.2 449.3L206 448.6L205.5 447.7L205.3 447.4L204.9 446.8L204.4 446.2L204.1 445.9L203.5 445.4L202.8 444.9L202.6 444.8L201.7 444.4L200.8 444L200.6 444L199.9 443.8L199 443.5L198.1 443.4L197.2 443.2L196.6 443.1L196.3 443L195.4 442.9L194.5 442.7L193.6 442.5L192.7 442.4L191.8 442.2L191.3 442.1L190.9 442.1L190 441.9L189.1 441.8L188.2 441.6L187.3 441.5L186.4 441.4L185.5 441.3L184.6 441.3L183.7 441.2L183.7 441.2L182.8 441.2L181.9 441.2L181 441.2L180.2 441.2L180.1 441.2L179.2 441.3L178.3 441.4L177.4 441.5L176.5 441.7L175.6 442L175 442.1L174.7 442.2L173.8 442.6L172.9 442.9L172.6 443.1L172 443.4L171.1 443.8L170.8 444L170.2 444.4L169.3 444.9L169.3 445L168.4 445.6L168 445.9L167.5 446.2L166.8 446.8L166.6 447L165.7 447.7L165.7 447.7L164.8 448.6L164.7 448.6L163.9 449.4L163.7 449.6L163 450.3L162.8 450.5L162.1 451.3L162 451.4L161.2 452.3L161.1 452.4L160.3 453.3L160.3 453.3L159.5 454.2L159.4 454.4L158.8 455.1L158.5 455.5L158 456.1L157.6 456.6L157.3 457L156.7 457.8L156.6 457.9L155.8 458.9L155.8 458.9L155.1 459.8L154.9 460.1L154.4 460.7L154 461.2L153.6 461.6L153.1 462.3L152.9 462.6L152.2 463.4L152.1 463.5L151.3 464.4L151.3 464.5L150.5 465.4L150.4 465.5L149.7 466.3L149.5 466.5L148.9 467.2L148.6 467.5L148 468.2L147.7 468.5L147.1 469.1L146.8 469.4L146.2 470L145.9 470.4L145.3 470.9L145 471.3L144.4 471.9L144.1 472.2L143.5 472.8L143.2 473.1L142.5 473.7L142.3 474L141.6 474.7L141.4 474.9L140.7 475.6L140.5 475.8L139.7 476.5L139.6 476.7L138.8 477.4L138.7 477.6L138 478.4L137.8 478.6L137.1 479.3L136.9 479.6L136.3 480.2L136 480.6L135.5 481.2L135.1 481.7L134.8 482.1L134.2 482.9L134 483L133.4 483.9L133.3 484.1L132.7 484.9L132.4 485.4L132.1 485.8L131.5 486.7L131.5 486.8L130.9 487.7L130.6 488.2L130.4 488.6L129.8 489.5L129.7 489.8L129.3 490.4L128.8 491.4L128.8 491.4L128.3 492.3L127.9 493L127.7 493.2L127.2 494.2L127 494.5L126.6 495.1L126.1 496L126 496L125.4 497L125.2 497.3L124.7 497.9L124.3 498.5L124 498.8L123.4 499.6L123.2 499.7L122.5 500.6L122.4 500.7L121.6 501.6L121.6 501.6L120.7 502.5L120.7 502.6L119.8 503.5L119.8 503.5L118.9 504.4L118.9 504.4L118 505.3L118 505.4L117.1 506.2L117.1 506.3L116.2 507.2L116.2 507.2L115.3 508.1L115.3 508.1L114.4 509L114.4 509.1L113.6 510L113.5 510.1L112.8 510.9L112.6 511.1L112 511.8L111.7 512.2L111.2 512.7L110.8 513.3L110.5 513.7L109.9 514.5L109.8 514.6L109.1 515.5L109 515.7L108.4 516.5L108.1 516.9L107.7 517.4L107.2 518.2L107.1 518.3L106.4 519.2L106.3 519.5L105.8 520.2L105.4 520.9L105.2 521.1L104.6 522L104.5 522.3L104 523L103.6 523.7L103.4 523.9L102.9 524.8L102.7 525.2L102.3 525.7L101.8 526.7L101.8 526.7L101.2 527.6L100.9 528.2L100.7 528.5L100.1 529.5L99.9 529.8L99.6 530.4L99.1 531.3L99 531.5L98.6 532.3L98.2 533.2L98.1 533.3L97.7 534.1L97.3 535L97.2 535.2L96.9 536L96.5 536.9L96.3 537.3L96.1 537.8L95.8 538.8L95.5 539.7L95.4 539.9L95.2 540.6L95 541.5L94.8 542.5L94.6 543.4L94.5 543.6L94.4 544.3L94.3 545.3L94.2 546.2L94.1 547.1L94 548L93.9 549L93.9 549.9L93.9 550.8L93.8 551.8L93.8 552.7L93.8 553.6L93.8 554.5L93.8 555.5L93.8 556.4L93.8 557.3L93.8 558.3L93.8 559.2L93.9 560.1L94 561.1L94.1 562L94.2 562.9L94.4 563.8L94.5 564.2L94.7 564.8L95.1 565.7L95.4 566.5L95.5 566.6L96 567.6L96.3 568L96.8 568.5L97.2 569L97.6 569.4L98.1 569.9L98.7 570.3L99 570.6L99.9 571.2L100.1 571.3L100.9 571.7L101.8 572.1L101.9 572.2L102.7 572.6L103.6 572.9L104.2 573.1L104.5 573.2L105.4 573.5L106.3 573.7L107.2 573.9L108 574.1ZM113.5 560.3L114.4 560.5L115.3 560.7L116.2 560.7L117.1 560.7L118 560.7L118.9 560.6L119.8 560.4L120.7 560.2L121 560.1L121.6 560L122.5 559.7L123.4 559.4L123.9 559.2L124.3 559.1L125.2 558.7L126.1 558.3L126.1 558.3L127 557.9L127.9 557.4L128.1 557.3L128.8 557L129.7 556.5L129.8 556.4L130.6 556L131.4 555.5L131.5 555.5L132.4 554.9L133 554.5L133.3 554.4L134.2 553.8L134.5 553.6L135.1 553.2L135.9 552.7L136 552.7L136.9 552.1L137.3 551.8L137.8 551.5L138.7 550.9L138.7 550.8L139.6 550.3L140.1 549.9L140.5 549.6L141.4 549L141.5 549L142.3 548.4L142.9 548L143.2 547.9L144.1 547.3L144.3 547.1L145 546.7L145.8 546.2L145.9 546.1L146.8 545.6L147.4 545.3L147.7 545.1L148.6 544.6L149 544.3L149.5 544.1L150.4 543.6L150.8 543.4L151.3 543.1L152.2 542.7L152.5 542.5L153.1 542.2L154 541.7L154.3 541.5L154.9 541.2L155.8 540.7L155.9 540.6L156.7 540.2L157.5 539.7L157.6 539.7L158.5 539.1L159.1 538.8L159.4 538.6L160.3 538L160.6 537.8L161.2 537.4L162 536.9L162.1 536.9L163 536.3L163.5 536L163.9 535.7L164.8 535.1L165 535L165.7 534.6L166.5 534.1L166.6 534.1L167.5 533.6L168.2 533.2L168.4 533.1L169.3 532.6L170.1 532.3L170.2 532.2L171.1 531.8L172 531.5L172.4 531.3L172.9 531.1L173.8 530.8L174.7 530.5L175.1 530.4L175.6 530.2L176.5 529.9L177.4 529.5L177.4 529.5L178.3 529L179.2 528.5L179.2 528.5L180.1 527.9L180.5 527.6L181 527.2L181.6 526.7L181.9 526.4L182.4 525.7L182.8 525.3L183.2 524.8L183.7 524.1L183.8 523.9L184.4 523L184.6 522.5L184.8 522L185.2 521.1L185.5 520.5L185.6 520.2L185.9 519.2L186.1 518.3L186.3 517.4L186.4 517.1L186.5 516.5L186.6 515.5L186.7 514.6L186.7 513.7L186.7 512.7L186.7 511.8L186.6 510.9L186.5 510L186.4 509.6L186.3 509L186 508.1L185.6 507.2L185.5 507.1L184.9 506.2L184.6 505.9L183.8 505.3L183.7 505.3L182.8 504.9L181.9 504.8L181 504.9L180.1 505.1L179.3 505.3L179.2 505.3L178.3 505.7L177.4 506.1L177.2 506.2L176.5 506.6L175.6 507.2L175.6 507.2L174.7 507.7L174.1 508.1L173.8 508.3L172.9 508.9L172.7 509L172 509.5L171.3 510L171.1 510.1L170.2 510.7L169.9 510.9L169.3 511.2L168.4 511.8L168.3 511.8L167.5 512.3L166.6 512.7L166.6 512.8L165.7 513.2L164.8 513.5L164.4 513.7L163.9 513.9L163 514.1L162.1 514.2L161.2 514.1L160.3 513.7L160.2 513.7L159.5 512.7L159.4 512.2L159.3 511.8L159.3 510.9L159.4 510.6L159.5 510L159.9 509L160.3 508.3L160.4 508.1L161.1 507.2L161.2 507.1L161.9 506.2L162.1 506L162.8 505.3L163 505.1L163.7 504.4L163.9 504.3L164.8 503.5L164.8 503.4L165.7 502.7L165.9 502.5L166.6 502L167 501.6L167.5 501.2L168.2 500.7L168.4 500.5L169.3 499.8L169.3 499.7L170.2 499.1L170.5 498.8L171.1 498.3L171.6 497.9L172 497.6L172.7 497L172.9 496.8L173.8 496L173.8 496L174.7 495.2L174.8 495.1L175.6 494.3L175.7 494.2L176.5 493.4L176.6 493.2L177.4 492.4L177.5 492.3L178.3 491.4L178.3 491.4L179.1 490.4L179.2 490.3L179.8 489.5L180.1 489.1L180.5 488.6L181 487.9L181.2 487.7L181.8 486.7L181.9 486.6L182.4 485.8L182.8 485.2L183 484.9L183.5 483.9L183.7 483.7L184.1 483L184.6 482.1L184.6 482.1L185.1 481.2L185.5 480.4L185.6 480.2L186.1 479.3L186.4 478.6L186.5 478.4L187 477.4L187.3 476.7L187.4 476.5L187.8 475.6L188.2 474.7L188.2 474.6L188.5 473.7L188.9 472.8L189.1 472.1L189.2 471.9L189.5 470.9L189.8 470L190 469.2L190 469.1L190.3 468.2L190.5 467.2L190.6 466.3L190.8 465.4L190.9 464.4L190.9 463.7L190.9 463.5L190.9 463.1L190.9 462.6L190.8 461.6L190.6 460.7L190.3 459.8L190 459.1L189.9 458.9L189.2 457.9L189.1 457.8L188.2 457L188.2 457L187.3 456.5L186.4 456.1L186.4 456.1L185.5 455.8L184.6 455.6L183.7 455.5L182.8 455.4L181.9 455.4L181 455.5L180.1 455.6L179.2 455.8L178.3 456L177.9 456.1L177.4 456.2L176.5 456.5L175.6 456.8L175 457L174.7 457.1L173.8 457.5L172.9 457.9L172.8 457.9L172 458.3L171.1 458.8L170.9 458.9L170.2 459.3L169.3 459.8L169.3 459.8L168.4 460.4L167.8 460.7L167.5 461L166.6 461.6L166.5 461.6L165.7 462.3L165.3 462.6L164.8 463L164.2 463.5L163.9 463.7L163.1 464.4L163 464.5L162.1 465.3L162 465.4L161.2 466.1L161 466.3L160.3 467L160 467.2L159.4 467.9L159.1 468.2L158.5 468.8L158.2 469.1L157.6 469.7L157.3 470L156.7 470.6L156.4 470.9L155.8 471.6L155.5 471.9L154.9 472.6L154.7 472.8L154 473.6L153.8 473.7L153.1 474.6L153 474.7L152.2 475.6L152.2 475.6L151.5 476.5L151.3 476.7L150.7 477.4L150.4 477.9L150 478.4L149.5 479L149.3 479.3L148.6 480.2L148.6 480.2L147.9 481.2L147.7 481.5L147.3 482.1L146.8 482.8L146.7 483L146.1 483.9L145.9 484.2L145.5 484.9L145 485.7L144.9 485.8L144.4 486.7L144.1 487.3L143.9 487.7L143.4 488.6L143.2 489L142.9 489.5L142.4 490.4L142.3 490.8L142 491.4L141.5 492.3L141.4 492.7L141.1 493.2L140.7 494.2L140.5 494.6L140.2 495.1L139.8 496L139.6 496.5L139.4 497L138.9 497.9L138.7 498.4L138.4 498.8L137.9 499.7L137.8 500L137.4 500.7L136.9 501.5L136.8 501.6L136.2 502.5L136 502.8L135.5 503.5L135.1 504L134.7 504.4L134.2 504.9L133.8 505.3L133.3 505.8L132.8 506.2L132.4 506.6L131.7 507.2L131.5 507.3L130.6 508L130.5 508.1L129.7 508.7L129.2 509L128.8 509.3L127.9 510L127.9 510L127 510.6L126.6 510.9L126.1 511.2L125.3 511.8L125.2 511.9L124.3 512.6L124.1 512.7L123.4 513.3L122.9 513.7L122.5 514L121.7 514.6L121.6 514.7L120.7 515.5L120.6 515.5L119.8 516.3L119.6 516.5L118.9 517.2L118.6 517.4L118 518.1L117.7 518.3L117.1 519L116.8 519.2L116.2 520L116 520.2L115.3 521L115.2 521.1L114.4 522L114.4 522.1L113.7 523L113.5 523.2L113 523.9L112.6 524.5L112.3 524.8L111.7 525.7L111.7 525.8L111 526.7L110.8 527.1L110.5 527.6L109.9 528.5L109.9 528.6L109.4 529.5L109 530.3L108.9 530.4L108.4 531.3L108.1 532.1L108 532.3L107.6 533.2L107.2 534.1L107.2 534.2L106.8 535L106.5 536L106.3 536.6L106.2 536.9L105.9 537.8L105.6 538.8L105.4 539.7L105.4 540L105.2 540.6L105 541.5L104.9 542.5L104.8 543.4L104.7 544.3L104.6 545.3L104.6 546.2L104.6 547.1L104.6 548L104.7 549L104.8 549.9L104.9 550.8L105.1 551.8L105.4 552.6L105.4 552.7L105.7 553.6L106.2 554.5L106.3 554.7L106.7 555.5L107.2 556.1L107.4 556.4L108.1 557.1L108.3 557.3L109 558L109.3 558.3L109.9 558.7L110.7 559.2L110.8 559.2L111.7 559.7L112.6 560.1L112.7 560.1ZM117.1 554.8L118 554.9L118.9 555L119.8 555L120.7 555L121.6 554.9L122.5 554.7L123.2 554.5L123.4 554.5L124.3 554.3L125.2 554L126.1 553.6L126.1 553.6L127 553.3L127.9 552.9L128.2 552.7L128.8 552.4L129.7 552L130 551.8L130.6 551.5L131.5 550.9L131.6 550.8L132.4 550.4L133.1 549.9L133.3 549.8L134.2 549.2L134.5 549L135.1 548.6L135.8 548L136 547.9L136.9 547.2L137 547.1L137.8 546.5L138.1 546.2L138.7 545.7L139.2 545.3L139.6 544.9L140.3 544.3L140.5 544.1L141.3 543.4L141.4 543.3L142.2 542.5L142.3 542.4L143.2 541.5L143.2 541.5L144.1 540.6L144.1 540.6L144.9 539.7L145 539.6L145.8 538.8L145.9 538.6L146.6 537.8L146.8 537.6L147.3 536.9L147.7 536.4L148.1 536L148.6 535.2L148.7 535L149.3 534.1L149.5 533.9L149.9 533.2L150.3 532.3L150.4 532.1L150.7 531.3L151 530.4L151.1 529.5L151.2 528.5L151.2 527.6L151.2 526.7L151.2 525.7L151.2 524.8L151.1 523.9L151 523L150.9 522L150.8 521.1L150.7 520.2L150.5 519.2L150.4 518.7L150.3 518.3L150.1 517.4L149.9 516.5L149.6 515.5L149.5 515L149.4 514.6L149.1 513.7L148.9 512.7L148.8 511.8L148.7 510.9L148.9 510L149.3 509L149.5 508.8L149.9 508.1L150.4 507.7L150.8 507.2L151.3 506.8L152 506.2L152.2 506.1L153.1 505.4L153.2 505.3L154 504.8L154.6 504.4L154.9 504.2L155.8 503.6L155.9 503.5L156.7 503L157.3 502.5L157.6 502.4L158.5 501.7L158.7 501.6L159.4 501.1L160.1 500.7L160.3 500.5L161.2 499.9L161.4 499.7L162.1 499.2L162.7 498.8L163 498.6L163.9 497.9L164 497.9L164.8 497.3L165.2 497L165.7 496.6L166.4 496L166.6 495.9L167.5 495.1L167.5 495.1L168.4 494.4L168.7 494.2L169.3 493.6L169.7 493.2L170.2 492.8L170.8 492.3L171.1 492L171.8 491.4L172 491.2L172.7 490.4L172.9 490.3L173.6 489.5L173.8 489.3L174.5 488.6L174.7 488.4L175.3 487.7L175.6 487.3L176.1 486.7L176.5 486.2L176.8 485.8L177.4 485.1L177.6 484.9L178.2 483.9L178.3 483.9L178.9 483L179.2 482.6L179.5 482.1L180.1 481.2L180.1 481.2L180.7 480.2L181 479.7L181.2 479.3L181.7 478.4L181.9 478L182.2 477.4L182.6 476.5L182.8 476.2L183.1 475.6L183.4 474.7L183.7 474L183.8 473.7L184.1 472.8L184.4 471.9L184.6 471.2L184.7 470.9L184.9 470L185.1 469.1L185.2 468.2L185.2 467.2L185.2 466.3L185 465.4L184.8 464.4L184.6 464L184.3 463.5L183.7 462.7L183.5 462.6L182.8 462L181.9 461.6L181.9 461.6L181 461.4L180.1 461.3L179.2 461.4L178.3 461.5L177.4 461.6L177.3 461.6L176.5 461.9L175.6 462.1L174.7 462.5L174.4 462.6L173.8 462.8L172.9 463.2L172.3 463.5L172 463.7L171.1 464.1L170.5 464.4L170.2 464.6L169.3 465.1L168.9 465.4L168.4 465.7L167.5 466.2L167.4 466.3L166.6 466.8L166 467.2L165.7 467.5L164.8 468.1L164.7 468.2L163.9 468.8L163.5 469.1L163 469.5L162.3 470L162.1 470.2L161.2 470.9L161.2 471L160.3 471.8L160.2 471.9L159.4 472.6L159.2 472.8L158.5 473.5L158.2 473.7L157.6 474.3L157.3 474.7L156.7 475.3L156.4 475.6L155.8 476.2L155.5 476.5L154.9 477.2L154.7 477.4L154 478.3L153.9 478.4L153.2 479.3L153.1 479.4L152.4 480.2L152.2 480.6L151.7 481.2L151.3 481.8L151.1 482.1L150.4 483L150.4 483.1L149.8 483.9L149.5 484.5L149.3 484.9L148.7 485.8L148.6 486L148.2 486.7L147.7 487.7L147.7 487.7L147.2 488.6L146.8 489.5L146.8 489.5L146.4 490.4L146 491.4L145.9 491.6L145.6 492.3L145.2 493.2L145 494L144.9 494.2L144.6 495.1L144.3 496L144.1 497L144.1 497L143.9 497.9L143.7 498.8L143.5 499.7L143.3 500.7L143.2 501.6L143.2 501.6L143 502.5L142.9 503.5L142.7 504.4L142.5 505.3L142.3 506.1L142.2 506.2L141.8 507.2L141.4 507.7L141.1 508.1L140.5 508.6L140 509L139.6 509.3L138.7 509.9L138.6 510L137.8 510.4L137 510.9L136.9 510.9L136 511.4L135.1 511.8L135.1 511.8L134.2 512.2L133.3 512.7L133.1 512.7L132.4 513.1L131.5 513.5L131.1 513.7L130.6 513.9L129.7 514.4L129.3 514.6L128.8 514.9L127.9 515.4L127.6 515.5L127 515.9L126.1 516.4L126 516.5L125.2 517L124.6 517.4L124.3 517.6L123.4 518.3L123.3 518.3L122.5 518.9L122.1 519.2L121.6 519.7L121 520.2L120.7 520.5L120 521.1L119.8 521.3L119 522L118.9 522.2L118.1 523L118 523.1L117.3 523.9L117.1 524.2L116.5 524.8L116.2 525.3L115.8 525.7L115.3 526.4L115.1 526.7L114.4 527.6L114.4 527.7L113.8 528.5L113.5 529.2L113.3 529.5L112.7 530.4L112.6 530.7L112.2 531.3L111.8 532.3L111.7 532.5L111.4 533.2L111 534.1L110.8 534.7L110.6 535L110.3 536L110 536.9L109.9 537.5L109.8 537.8L109.6 538.8L109.4 539.7L109.2 540.6L109.1 541.5L109.1 542.5L109 543.4L109 544.3L109.1 545.3L109.2 546.2L109.4 547.1L109.7 548L109.9 548.4L110.1 549L110.5 549.9L110.8 550.3L111.1 550.8L111.7 551.5L111.9 551.8L112.6 552.4L112.9 552.7L113.5 553.1L114.2 553.6L114.4 553.7L115.3 554.2L116.2 554.5L116.3 554.5ZM122.5 548L122.5 548L123.4 548L124.3 548L125.2 547.8L126.1 547.6L127 547.3L127.5 547.1L127.9 547L128.8 546.6L129.7 546.2L129.7 546.2L130.6 545.7L131.3 545.3L131.5 545.2L132.4 544.6L132.7 544.3L133.3 543.9L134 543.4L134.2 543.2L135.1 542.5L135.1 542.5L136 541.6L136.1 541.5L136.9 540.7L137 540.6L137.8 539.7L137.8 539.7L138.6 538.8L138.7 538.6L139.3 537.8L139.6 537.4L139.9 536.9L140.5 536L140.5 536L141 535L141.4 534.4L141.5 534.1L141.9 533.2L142.3 532.4L142.3 532.3L142.7 531.3L142.9 530.4L143.2 529.5L143.2 529.5L143.4 528.5L143.5 527.6L143.6 526.7L143.6 525.7L143.6 524.8L143.4 523.9L143.2 523L143.2 523L142.7 522L142.3 521.3L142.1 521.1L141.4 520.3L141.1 520.2L140.5 519.8L139.6 519.4L139.1 519.2L138.7 519.1L137.8 519L136.9 519L136 519L135.1 519.1L134.4 519.2L134.2 519.3L133.3 519.5L132.4 519.7L131.5 520L130.9 520.2L130.6 520.3L129.7 520.6L128.8 521L128.6 521.1L127.9 521.5L127 522L126.8 522L126.1 522.5L125.3 523L125.2 523L124.3 523.7L124 523.9L123.4 524.4L122.8 524.8L122.5 525.1L121.8 525.7L121.6 525.9L120.8 526.7L120.7 526.9L120 527.6L119.8 527.9L119.2 528.5L118.9 529L118.5 529.5L118 530.3L117.9 530.4L117.3 531.3L117.1 531.8L116.8 532.3L116.4 533.2L116.2 533.7L116 534.1L115.6 535L115.3 536L115.3 536.2L115.1 536.9L114.9 537.8L114.8 538.8L114.7 539.7L114.8 540.6L114.9 541.5L115.1 542.5L115.3 543.1L115.4 543.4L115.8 544.3L116.2 544.8L116.5 545.3L117.1 545.9L117.4 546.2L118 546.6L118.8 547.1L118.9 547.2L119.8 547.5L120.7 547.8L121.6 548L122.5 548ZM152.2 496.3L153.1 496.7L154 496.8L154.9 496.8L155.8 496.6L156.7 496.3L157.3 496L157.6 495.9L158.5 495.5L159.2 495.1L159.4 495L160.3 494.5L160.8 494.2L161.2 493.9L162.1 493.3L162.2 493.2L163 492.7L163.5 492.3L163.9 492L164.6 491.4L164.8 491.2L165.7 490.5L165.7 490.4L166.6 489.7L166.7 489.5L167.5 488.8L167.7 488.6L168.4 487.9L168.6 487.7L169.3 487L169.5 486.7L170.2 486L170.3 485.8L171.1 484.9L171.1 484.9L171.9 483.9L172 483.8L172.6 483L172.9 482.6L173.2 482.1L173.8 481.2L173.8 481.2L174.4 480.2L174.7 479.8L174.9 479.3L175.4 478.4L175.6 478L175.9 477.4L176.3 476.5L176.5 475.8L176.6 475.6L176.8 474.7L177 473.7L177 472.8L176.9 471.9L176.5 470.9L176.5 470.9L175.6 470.2L174.7 470L174.7 470L173.8 470L173.7 470L172.9 470.1L172 470.4L171.1 470.7L170.4 470.9L170.2 471L169.3 471.4L168.4 471.9L168.4 471.9L167.5 472.4L166.7 472.8L166.6 472.9L165.7 473.4L165.2 473.7L164.8 474L163.9 474.6L163.8 474.7L163 475.3L162.6 475.6L162.1 476L161.4 476.5L161.2 476.7L160.3 477.4L160.3 477.5L159.4 478.3L159.3 478.4L158.5 479.2L158.4 479.3L157.6 480.2L157.5 480.2L156.7 481.2L156.7 481.2L156 482.1L155.8 482.4L155.3 483L154.9 483.6L154.6 483.9L154 484.9L154 484.9L153.5 485.8L153.1 486.5L153 486.7L152.5 487.7L152.2 488.4L152.1 488.6L151.7 489.5L151.4 490.4L151.3 491.1L151.2 491.4L151 492.3L151 493.2L151 494.2L151.2 495.1L151.3 495.2L151.8 496Z" stroke="#333333" stroke-width="1.8" fill="none" stroke-linejoin="round"/>
</g>
<g clip-path="url(#c21)">
<rect x="274.67" y="418" width="180" height="185.2" fill="#eaeaf2"/>
<path d="M333.5 418v185.2M403.5 418v185.2M275.67 596.5h179M275.67 555.5h179M275.67 514.5h179M275.67 473.5h179M275.67 432.5h179" stroke="#fff" stroke-width="1.2" stroke-linecap="round" fill="none"/>
<path d="M399.6 526.5h7.8m-3.9-3.9v7.8M362.6 536.5h7.8m-3.9-3.9v7.8M415.6 532.5h7.8m-3.9-3.9v7.8M380.6 514.5h7.8m-3.9-3.9v7.8M387.6 532.5h7.8m-3.9-3.9v7.8M367.6 530.5h7.8m-3.9-3.9v7.8M378.6 528.5h7.8m-3.9-3.9v7.8M347.6 547.5h7.8m-3.9-3.9v7.8M383.6 528.5h7.8m-3.9-3.9v7.8M378.6 528.5h7.8m-3.9-3.9v7.8M390.6 504.5h7.8m-3.9-3.9v7.8M408.6 522.5h7.8m-3.9-3.9v7.8M355.6 526.5h7.8m-3.9-3.9v7.8M376.6 536.5h7.8m-3.9-3.9v7.8M364.6 545.5h7.8m-3.9-3.9v7.8M385.6 534.5h7.8m-3.9-3.9v7.8M380.6 532.5h7.8m-3.9-3.9v7.8M340.6 534.5h7.8m-3.9-3.9v7.8M403.6 532.5h7.8m-3.9-3.9v7.8M374.6 530.5h7.8m-3.9-3.9v7.8M371.6 555.5h7.8m-3.9-3.9v7.8M380.6 534.5h7.8m-3.9-3.9v7.8M361.6 549.5h7.8m-3.9-3.9v7.8M387.6 545.5h7.8m-3.9-3.9v7.8M404.6 534.5h7.8m-3.9-3.9v7.8M380.6 530.5h7.8m-3.9-3.9v7.8M407.6 524.5h7.8m-3.9-3.9v7.8M365.6 524.5h7.8m-3.9-3.9v7.8M419.6 526.5h7.8m-3.9-3.9v7.8M378.6 536.5h7.8m-3.9-3.9v7.8M355.6 532.5h7.8m-3.9-3.9v7.8M383.6 520.5h7.8m-3.9-3.9v7.8M383.6 538.5h7.8m-3.9-3.9v7.8M368.6 536.5h7.8m-3.9-3.9v7.8M360.6 530.5h7.8m-3.9-3.9v7.8M374.6 526.5h7.8m-3.9-3.9v7.8M390.6 551.5h7.8m-3.9-3.9v7.8M393.6 524.5h7.8m-3.9-3.9v7.8M382.6 500.5h7.8m-3.9-3.9v7.8M376.6 547.5h7.8m-3.9-3.9v7.8M369.6 538.5h7.8m-3.9-3.9v7.8M379.6 571.5h7.8m-3.9-3.9v7.8M357.6 536.5h7.8m-3.9-3.9v7.8M362.6 555.5h7.8m-3.9-3.9v7.8M376.6 532.5h7.8m-3.9-3.9v7.8M367.6 536.5h7.8m-3.9-3.9v7.8M371.6 516.5h7.8m-3.9-3.9v7.8M386.6 528.5h7.8m-3.9-3.9v7.8M405.6 489.5h7.8m-3.9-3.9v7.8M362.6 526.5h7.8m-3.9-3.9v7.8M357.6 553.5h7.8m-3.9-3.9v7.8M414.6 524.5h7.8m-3.9-3.9v7.8M372.6 524.5h7.8m-3.9-3.9v7.8M383.6 542.5h7.8m-3.9-3.9v7.8M369.6 512.5h7.8m-3.9-3.9v7.8M379.6 542.5h7.8m-3.9-3.9v7.8M360.6 540.5h7.8m-3.9-3.9v7.8M380.6 542.5h7.8m-3.9-3.9v7.8M385.6 520.5h7.8m-3.9-3.9v7.8M354.6 522.5h7.8m-3.9-3.9v7.8M351.6 557.5h7.8m-3.9-3.9v7.8M383.6 538.5h7.8m-3.9-3.9v7.8M397.6 561.5h7.8m-3.9-3.9v7.8M376.6 534.5h7.8m-3.9-3.9v7.8M392.6 520.5h7.8m-3.9-3.9v7.8M365.6 549.5h7.8m-3.9-3.9v7.8M357.6 524.5h7.8m-3.9-3.9v7.8M412.6 528.5h7.8m-3.9-3.9v7.8M399.6 538.5h7.8m-3.9-3.9v7.8M371.6 514.5h7.8m-3.9-3.9v7.8M378.6 524.5h7.8m-3.9-3.9v7.8M385.6 551.5h7.8m-3.9-3.9v7.8M397.6 534.5h7.8m-3.9-3.9v7.8M401.6 538.5h7.8m-3.9-3.9v7.8M386.6 512.5h7.8m-3.9-3.9v7.8M360.6 532.5h7.8m-3.9-3.9v7.8M360.6 549.5h7.8m-3.9-3.9v7.8M372.6 540.5h7.8m-3.9-3.9v7.8M354.6 528.5h7.8m-3.9-3.9v7.8M379.6 542.5h7.8m-3.9-3.9v7.8M364.6 534.5h7.8m-3.9-3.9v7.8M360.6 559.5h7.8m-3.9-3.9v7.8M382.6 518.5h7.8m-3.9-3.9v7.8M389.6 553.5h7.8m-3.9-3.9v7.8M348.6 551.5h7.8m-3.9-3.9v7.8M350.6 536.5h7.8m-3.9-3.9v7.8M355.6 553.5h7.8m-3.9-3.9v7.8M379.6 524.5h7.8m-3.9-3.9v7.8M354.6 516.5h7.8m-3.9-3.9v7.8M335.6 538.5h7.8m-3.9-3.9v7.8M350.6 522.5h7.8m-3.9-3.9v7.8M410.6 512.5h7.8m-3.9-3.9v7.8M368.6 555.5h7.8m-3.9-3.9v7.8M371.6 534.5h7.8m-3.9-3.9v7.8M351.6 557.5h7.8m-3.9-3.9v7.8M369.6 510.5h7.8m-3.9-3.9v7.8M343.6 540.5h7.8m-3.9-3.9v7.8M355.6 545.5h7.8m-3.9-3.9v7.8M365.6 536.5h7.8m-3.9-3.9v7.8M371.6 540.5h7.8m-3.9-3.9v7.8M368.6 526.5h7.8m-3.9-3.9v7.8M358.6 526.5h7.8m-3.9-3.9v7.8M394.6 530.5h7.8m-3.9-3.9v7.8M386.6 514.5h7.8m-3.9-3.9v7.8M382.6 534.5h7.8m-3.9-3.9v7.8M379.6 530.5h7.8m-3.9-3.9v7.8M372.6 526.5h7.8m-3.9-3.9v7.8M396.6 506.5h7.8m-3.9-3.9v7.8M376.6 540.5h7.8m-3.9-3.9v7.8M380.6 512.5h7.8m-3.9-3.9v7.8M358.6 518.5h7.8m-3.9-3.9v7.8M360.6 528.5h7.8m-3.9-3.9v7.8M411.6 528.5h7.8m-3.9-3.9v7.8M375.6 545.5h7.8m-3.9-3.9v7.8M389.6 545.5h7.8m-3.9-3.9v7.8M380.6 530.5h7.8m-3.9-3.9v7.8M369.6 540.5h7.8m-3.9-3.9v7.8M410.6 526.5h7.8m-3.9-3.9v7.8M378.6 532.5h7.8m-3.9-3.9v7.8M360.6 545.5h7.8m-3.9-3.9v7.8M353.6 530.5h7.8m-3.9-3.9v7.8M400.6 518.5h7.8m-3.9-3.9v7.8M390.6 538.5h7.8m-3.9-3.9v7.8M367.6 528.5h7.8m-3.9-3.9v7.8M371.6 496.5h7.8m-3.9-3.9v7.8M369.6 516.5h7.8m-3.9-3.9v7.8M372.6 536.5h7.8m-3.9-3.9v7.8M368.6 547.5h7.8m-3.9-3.9v7.8M387.6 518.5h7.8m-3.9-3.9v7.8M394.6 530.5h7.8m-3.9-3.9v7.8M372.6 545.5h7.8m-3.9-3.9v7.8M389.6 542.5h7.8m-3.9-3.9v7.8M353.6 549.5h7.8m-3.9-3.9v7.8M375.6 530.5h7.8m-3.9-3.9v7.8M372.6 551.5h7.8m-3.9-3.9v7.8M379.6 532.5h7.8m-3.9-3.9v7.8M364.6 524.5h7.8m-3.9-3.9v7.8M358.6 532.5h7.8m-3.9-3.9v7.8M367.6 522.5h7.8m-3.9-3.9v7.8M375.6 565.5h7.8m-3.9-3.9v7.8M358.6 538.5h7.8m-3.9-3.9v7.8M374.6 557.5h7.8m-3.9-3.9v7.8M365.6 534.5h7.8m-3.9-3.9v7.8M386.6 516.5h7.8m-3.9-3.9v7.8M382.6 547.5h7.8m-3.9-3.9v7.8M346.6 559.5h7.8m-3.9-3.9v7.8M375.6 542.5h7.8m-3.9-3.9v7.8M385.6 536.5h7.8m-3.9-3.9v7.8M382.6 532.5h7.8m-3.9-3.9v7.8M392.6 536.5h7.8m-3.9-3.9v7.8M353.6 540.5h7.8m-3.9-3.9v7.8" stroke="#4c72b0" stroke-width="0.62" fill="none"/>
<path d="M367.6 516.5h7.8m-3.9-3.9v7.8M368.6 553.5h7.8m-3.9-3.9v7.8M371.6 532.5h7.8m-3.9-3.9v7.8M371.6 532.5h7.8m-3.9-3.9v7.8M389.6 524.5h7.8m-3.9-3.9v7.8M400.6 506.5h7.8m-3.9-3.9v7.8M350.6 540.5h7.8m-3.9-3.9v7.8M396.6 500.5h7.8m-3.9-3.9v7.8M354.6 530.5h7.8m-3.9-3.9v7.8M358.6 542.5h7.8m-3.9-3.9v7.8M382.6 506.5h7.8m-3.9-3.9v7.8M372.6 516.5h7.8m-3.9-3.9v7.8M358.6 520.5h7.8m-3.9-3.9v7.8M414.6 526.5h7.8m-3.9-3.9v7.8M394.6 502.5h7.8m-3.9-3.9v7.8M383.6 534.5h7.8m-3.9-3.9v7.8M392.6 512.5h7.8m-3.9-3.9v7.8M369.6 518.5h7.8m-3.9-3.9v7.8M397.6 516.5h7.8m-3.9-3.9v7.8M386.6 516.5h7.8m-3.9-3.9v7.8M375.6 518.5h7.8m-3.9-3.9v7.8M403.6 510.5h7.8m-3.9-3.9v7.8M362.6 532.5h7.8m-3.9-3.9v7.8M393.6 502.5h7.8m-3.9-3.9v7.8M361.6 557.5h7.8m-3.9-3.9v7.8M387.6 508.5h7.8m-3.9-3.9v7.8M383.6 514.5h7.8m-3.9-3.9v7.8M357.6 536.5h7.8m-3.9-3.9v7.8M364.6 526.5h7.8m-3.9-3.9v7.8M399.6 489.5h7.8m-3.9-3.9v7.8M390.6 522.5h7.8m-3.9-3.9v7.8M346.6 532.5h7.8m-3.9-3.9v7.8M364.6 524.5h7.8m-3.9-3.9v7.8M379.6 528.5h7.8m-3.9-3.9v7.8M380.6 528.5h7.8m-3.9-3.9v7.8M374.6 547.5h7.8m-3.9-3.9v7.8M387.6 524.5h7.8m-3.9-3.9v7.8M386.6 498.5h7.8m-3.9-3.9v7.8M372.6 520.5h7.8m-3.9-3.9v7.8M385.6 520.5h7.8m-3.9-3.9v7.8M353.6 538.5h7.8m-3.9-3.9v7.8M389.6 514.5h7.8m-3.9-3.9v7.8M393.6 504.5h7.8m-3.9-3.9v7.8M383.6 518.5h7.8m-3.9-3.9v7.8M360.6 522.5h7.8m-3.9-3.9v7.8M376.6 538.5h7.8m-3.9-3.9v7.8M362.6 514.5h7.8m-3.9-3.9v7.8M365.6 534.5h7.8m-3.9-3.9v7.8M401.6 520.5h7.8m-3.9-3.9v7.8M376.6 545.5h7.8m-3.9-3.9v7.8M405.6 496.5h7.8m-3.9-3.9v7.8M355.6 524.5h7.8m-3.9-3.9v7.8M365.6 549.5h7.8m-3.9-3.9v7.8M369.6 536.5h7.8m-3.9-3.9v7.8M390.6 528.5h7.8m-3.9-3.9v7.8M374.6 530.5h7.8m-3.9-3.9v7.8M378.6 510.5h7.8m-3.9-3.9v7.8M368.6 522.5h7.8m-3.9-3.9v7.8M367.6 512.5h7.8m-3.9-3.9v7.8M378.6 522.5h7.8m-3.9-3.9v7.8M360.6 528.5h7.8m-3.9-3.9v7.8M375.6 542.5h7.8m-3.9-3.9v7.8M386.6 526.5h7.8m-3.9-3.9v7.8M379.6 491.5h7.8m-3.9-3.9v7.8M394.6 518.5h7.8m-3.9-3.9v7.8M380.6 524.5h7.8m-3.9-3.9v7.8M410.6 512.5h7.8m-3.9-3.9v7.8M351.6 530.5h7.8m-3.9-3.9v7.8" stroke="#dd8452" stroke-width="0.62" fill="none"/>
<path d="M312.6 485.5h7.8m-3.9-3.9v7.8M326.6 473.5h7.8m-3.9-3.9v7.8M346.6 465.5h7.8m-3.9-3.9v7.8M317.6 489.5h7.8m-3.9-3.9v7.8M321.6 491.5h7.8m-3.9-3.9v7.8M344.6 485.5h7.8m-3.9-3.9v7.8M322.6 473.5h7.8m-3.9-3.9v7.8M322.6 494.5h7.8m-3.9-3.9v7.8M314.6 485.5h7.8m-3.9-3.9v7.8M336.6 469.5h7.8m-3.9-3.9v7.8M311.6 498.5h7.8m-3.9-3.9v7.8M346.6 465.5h7.8m-3.9-3.9v7.8M323.6 483.5h7.8m-3.9-3.9v7.8M322.6 475.5h7.8m-3.9-3.9v7.8M339.6 473.5h7.8m-3.9-3.9v7.8M308.6 496.5h7.8m-3.9-3.9v7.8M367.6 453.5h7.8m-3.9-3.9v7.8M330.6 489.5h7.8m-3.9-3.9v7.8M328.6 459.5h7.8m-3.9-3.9v7.8M315.6 483.5h7.8m-3.9-3.9v7.8M318.6 487.5h7.8m-3.9-3.9v7.8M318.6 489.5h7.8m-3.9-3.9v7.8M340.6 467.5h7.8m-3.9-3.9v7.8M323.6 496.5h7.8m-3.9-3.9v7.8M350.6 467.5h7.8m-3.9-3.9v7.8M319.6 496.5h7.8m-3.9-3.9v7.8M329.6 477.5h7.8m-3.9-3.9v7.8M354.6 471.5h7.8m-3.9-3.9v7.8M351.6 451.5h7.8m-3.9-3.9v7.8M319.6 481.5h7.8m-3.9-3.9v7.8M344.6 463.5h7.8m-3.9-3.9v7.8M348.6 471.5h7.8m-3.9-3.9v7.8M339.6 451.5h7.8m-3.9-3.9v7.8M321.6 494.5h7.8m-3.9-3.9v7.8M335.6 485.5h7.8m-3.9-3.9v7.8M303.6 483.5h7.8m-3.9-3.9v7.8M362.6 475.5h7.8m-3.9-3.9v7.8M315.6 489.5h7.8m-3.9-3.9v7.8M357.6 453.5h7.8m-3.9-3.9v7.8M343.6 469.5h7.8m-3.9-3.9v7.8M326.6 481.5h7.8m-3.9-3.9v7.8M319.6 479.5h7.8m-3.9-3.9v7.8M333.6 498.5h7.8m-3.9-3.9v7.8M312.6 494.5h7.8m-3.9-3.9v7.8M329.6 485.5h7.8m-3.9-3.9v7.8M315.6 477.5h7.8m-3.9-3.9v7.8M310.6 479.5h7.8m-3.9-3.9v7.8M310.6 491.5h7.8m-3.9-3.9v7.8M333.6 463.5h7.8m-3.9-3.9v7.8M342.6 475.5h7.8m-3.9-3.9v7.8M307.6 498.5h7.8m-3.9-3.9v7.8M318.6 483.5h7.8m-3.9-3.9v7.8M340.6 483.5h7.8m-3.9-3.9v7.8M344.6 469.5h7.8m-3.9-3.9v7.8M326.6 475.5h7.8m-3.9-3.9v7.8M328.6 489.5h7.8m-3.9-3.9v7.8M344.6 477.5h7.8m-3.9-3.9v7.8M322.6 496.5h7.8m-3.9-3.9v7.8M325.6 479.5h7.8m-3.9-3.9v7.8M329.6 469.5h7.8m-3.9-3.9v7.8M342.6 455.5h7.8m-3.9-3.9v7.8M332.6 465.5h7.8m-3.9-3.9v7.8M335.6 467.5h7.8m-3.9-3.9v7.8M340.6 487.5h7.8m-3.9-3.9v7.8M339.6 467.5h7.8m-3.9-3.9v7.8M330.6 465.5h7.8m-3.9-3.9v7.8M342.6 494.5h7.8m-3.9-3.9v7.8M332.6 498.5h7.8m-3.9-3.9v7.8M314.6 491.5h7.8m-3.9-3.9v7.8M328.6 479.5h7.8m-3.9-3.9v7.8M314.6 508.5h7.8m-3.9-3.9v7.8M360.6 457.5h7.8m-3.9-3.9v7.8M326.6 483.5h7.8m-3.9-3.9v7.8M336.6 453.5h7.8m-3.9-3.9v7.8M319.6 481.5h7.8m-3.9-3.9v7.8M321.6 477.5h7.8m-3.9-3.9v7.8M340.6 457.5h7.8m-3.9-3.9v7.8M337.6 469.5h7.8m-3.9-3.9v7.8M333.6 481.5h7.8m-3.9-3.9v7.8M312.6 485.5h7.8m-3.9-3.9v7.8M317.6 502.5h7.8m-3.9-3.9v7.8M317.6 473.5h7.8m-3.9-3.9v7.8M347.6 475.5h7.8m-3.9-3.9v7.8M337.6 483.5h7.8m-3.9-3.9v7.8M323.6 471.5h7.8m-3.9-3.9v7.8M312.6 498.5h7.8m-3.9-3.9v7.8M312.6 494.5h7.8m-3.9-3.9v7.8M314.6 496.5h7.8m-3.9-3.9v7.8M342.6 473.5h7.8m-3.9-3.9v7.8M321.6 491.5h7.8m-3.9-3.9v7.8M332.6 471.5h7.8m-3.9-3.9v7.8M317.6 481.5h7.8m-3.9-3.9v7.8M332.6 477.5h7.8m-3.9-3.9v7.8M329.6 485.5h7.8m-3.9-3.9v7.8M311.6 496.5h7.8m-3.9-3.9v7.8M319.6 487.5h7.8m-3.9-3.9v7.8M318.6 489.5h7.8m-3.9-3.9v7.8M305.6 491.5h7.8m-3.9-3.9v7.8M348.6 461.5h7.8m-3.9-3.9v7.8M308.6 494.5h7.8m-3.9-3.9v7.8M343.6 459.5h7.8m-3.9-3.9v7.8M348.6 453.5h7.8m-3.9-3.9v7.8M329.6 473.5h7.8m-3.9-3.9v7.8M314.6 498.5h7.8m-3.9-3.9v7.8M319.6 491.5h7.8m-3.9-3.9v7.8M325.6 487.5h7.8m-3.9-3.9v7.8M335.6 487.5h7.8m-3.9-3.9v7.8M328.6 481.5h7.8m-3.9-3.9v7.8M343.6 453.5h7.8m-3.9-3.9v7.8M339.6 463.5h7.8m-3.9-3.9v7.8M321.6 485.5h7.8m-3.9-3.9v7.8M318.6 479.5h7.8m-3.9-3.9v7.8M330.6 479.5h7.8m-3.9-3.9v7.8M315.6 479.5h7.8m-3.9-3.9v7.8M311.6 485.5h7.8m-3.9-3.9v7.8M310.6 489.5h7.8m-3.9-3.9v7.8M328.6 471.5h7.8m-3.9-3.9v7.8M325.6 477.5h7.8m-3.9-3.9v7.8M318.6 481.5h7.8m-3.9-3.9v7.8M353.6 465.5h7.8m-3.9-3.9v7.8M339.6 455.5h7.8m-3.9-3.9v7.8M347.6 477.5h7.8m-3.9-3.9v7.8M346.6 461.5h7.8m-3.9-3.9v7.8" stroke="#55a868" stroke-width="0.62" fill="none"/>
<path d="M379.5 574.1L380.4 574.2L381.3 574.3L382.2 574.3L383.1 574.3L384 574.3L384.9 574.2L385.3 574.1L385.8 574L386.7 573.7L387.6 573.3L388 573.1L388.5 572.9L389.4 572.4L389.6 572.2L390.3 571.8L391.1 571.3L391.2 571.2L392.1 570.6L392.5 570.3L393 570.1L393.9 569.6L394.3 569.4L394.8 569.2L395.7 568.9L396.6 568.6L396.9 568.5L397.5 568.3L398.4 568.1L399.3 567.9L400.2 567.6L400.5 567.6L401.1 567.4L402 567.1L402.9 566.8L403.4 566.6L403.8 566.5L404.7 566L405.2 565.7L405.6 565.4L406.4 564.8L406.5 564.7L407.3 563.8L407.4 563.8L408.1 562.9L408.3 562.6L408.7 562L409.2 561.1L409.2 561.1L409.7 560.1L410.1 559.4L410.2 559.2L410.6 558.3L411 557.6L411.1 557.3L411.6 556.4L411.9 555.9L412.2 555.5L412.7 554.5L412.8 554.5L413.4 553.6L413.7 553.3L414.1 552.7L414.6 552.2L414.9 551.8L415.5 551.2L415.8 550.8L416.4 550.2L416.7 549.9L417.3 549.4L417.7 549L418.2 548.6L418.8 548L419.1 547.8L420 547.1L420 547.1L420.9 546.5L421.4 546.2L421.8 545.9L422.7 545.4L422.9 545.3L423.6 544.9L424.5 544.4L424.6 544.3L425.4 543.9L426.2 543.4L426.3 543.3L427.2 542.8L427.6 542.5L428.1 542.1L428.7 541.5L429 541.2L429.5 540.6L429.9 540L430.1 539.7L430.6 538.8L430.8 538.1L430.9 537.8L431.1 536.9L431.3 536L431.4 535L431.4 534.1L431.3 533.2L431.2 532.3L431.1 531.3L430.9 530.4L430.8 530.2L430.6 529.5L430.4 528.5L430 527.6L429.9 527.2L429.7 526.7L429.4 525.7L429 524.9L429 524.8L428.6 523.9L428.1 523L428.1 522.9L427.7 522L427.2 521.1L427.2 521.1L426.7 520.2L426.3 519.4L426.2 519.2L425.7 518.3L425.4 517.8L425.2 517.4L424.7 516.5L424.5 516.2L424.1 515.5L423.6 514.6L423.6 514.6L423.1 513.7L422.7 513.1L422.5 512.7L422 511.8L421.8 511.5L421.4 510.9L420.9 510L420.9 510L420.4 509L420 508.4L419.8 508.1L419.3 507.2L419.1 506.8L418.8 506.2L418.2 505.3L418.2 505.3L417.7 504.4L417.3 503.7L417.2 503.5L416.6 502.5L416.4 502.1L416.1 501.6L415.6 500.7L415.5 500.5L415 499.7L414.6 499L414.4 498.8L413.8 497.9L413.7 497.6L413.2 497L412.8 496.3L412.6 496L411.9 495.1L411.9 495.1L411.1 494.2L411 494L410.3 493.2L410.1 493L409.3 492.3L409.2 492.2L408.3 491.4L408.3 491.4L407.4 490.7L407.1 490.4L406.5 490L405.6 489.5L405.6 489.5L404.7 489L403.8 488.6L403.7 488.6L402.9 488.2L402 487.9L401.1 487.7L401.1 487.7L400.2 487.4L399.3 487.2L398.4 487L397.5 486.9L396.8 486.7L396.6 486.7L395.7 486.5L394.8 486.4L393.9 486.2L393 486.1L392.1 486L391.2 485.8L391.1 485.8L390.3 485.7L389.4 485.5L388.5 485.3L387.6 485.2L386.7 485L385.8 484.9L385.8 484.9L384.9 484.7L384 484.5L383.1 484.3L382.2 484.1L381.7 483.9L381.3 483.8L380.4 483.5L379.5 483.2L379 483L378.6 482.8L377.7 482.3L377.3 482.1L376.8 481.6L376.2 481.2L375.9 480.7L375.5 480.2L375 479.5L374.8 479.3L374.3 478.4L374.1 477.8L373.9 477.4L373.6 476.5L373.2 475.6L373.2 475.4L372.9 474.7L372.7 473.7L372.4 472.8L372.3 472.1L372.2 471.9L372 470.9L371.8 470L371.6 469.1L371.4 468.2L371.4 467.7L371.3 467.2L371.1 466.3L371 465.4L370.8 464.4L370.6 463.5L370.5 462.6L370.5 462.5L370.3 461.6L370.1 460.7L369.8 459.8L369.6 458.9L369.6 458.9L369.2 457.9L368.9 457L368.7 456.6L368.4 456.1L367.9 455.1L367.8 454.9L367.4 454.2L366.9 453.5L366.7 453.3L366 452.4L366 452.3L365.2 451.4L365 451.3L364.3 450.5L364.1 450.4L363.3 449.6L363.2 449.5L362.3 448.8L362.2 448.6L361.4 448.1L361 447.7L360.5 447.4L359.6 446.8L359.6 446.8L358.7 446.2L358.2 445.9L357.8 445.7L356.9 445.2L356.5 444.9L356 444.7L355.1 444.2L354.7 444L354.2 443.8L353.3 443.3L352.7 443.1L352.4 443L351.5 442.6L350.6 442.2L350.4 442.1L349.7 441.9L348.8 441.6L347.9 441.3L347.8 441.2L347 441L346.1 440.7L345.2 440.5L344.5 440.3L344.3 440.2L343.4 440L342.5 439.9L341.6 439.7L340.7 439.6L339.8 439.5L338.9 439.4L338 439.4L337.1 439.4L336.2 439.5L335.3 439.6L334.4 439.8L333.5 440L332.8 440.3L332.6 440.3L331.7 440.7L330.8 441.2L330.8 441.2L329.9 441.7L329.3 442.1L329 442.4L328.2 443.1L328.1 443.1L327.2 443.9L327.1 444L326.3 444.7L326.1 444.9L325.4 445.6L325.2 445.9L324.5 446.5L324.2 446.8L323.6 447.4L323.3 447.7L322.7 448.3L322.3 448.6L321.8 449.2L321.4 449.6L320.9 450L320.4 450.5L320 450.8L319.3 451.4L319.1 451.6L318.2 452.4L318.2 452.4L317.3 453.1L317 453.3L316.4 453.7L315.7 454.2L315.5 454.3L314.6 454.9L314.2 455.1L313.7 455.5L312.8 456L312.7 456.1L311.9 456.5L311.1 457L311 457.1L310.1 457.6L309.6 457.9L309.2 458.2L308.3 458.7L308.1 458.9L307.4 459.3L306.8 459.8L306.5 460L305.6 460.7L305.5 460.7L304.7 461.4L304.4 461.6L303.8 462.2L303.4 462.6L302.9 463.1L302.5 463.5L302 464L301.7 464.4L301.1 465.1L300.9 465.4L300.2 466.3L300.2 466.3L299.5 467.2L299.3 467.6L298.9 468.2L298.4 469.1L298.4 469.1L297.9 470L297.5 470.9L297.5 470.9L297.1 471.9L296.7 472.8L296.6 473.2L296.4 473.7L296.2 474.7L296 475.6L295.8 476.5L295.7 477.4L295.7 477.5L295.6 478.4L295.6 479.3L295.6 480.2L295.6 481.2L295.7 482L295.7 482.1L295.8 483L295.9 483.9L296.1 484.9L296.3 485.8L296.6 486.7L296.6 486.8L296.8 487.7L297.1 488.6L297.5 489.5L297.5 489.5L297.8 490.4L298.2 491.4L298.4 491.7L298.6 492.3L299.1 493.2L299.3 493.6L299.6 494.2L300.1 495.1L300.2 495.3L300.6 496L301.1 496.8L301.2 497L301.7 497.9L302 498.3L302.4 498.8L302.9 499.6L303 499.7L303.7 500.7L303.8 500.8L304.4 501.6L304.7 501.9L305.2 502.5L305.6 503L306 503.5L306.5 504.1L306.8 504.4L307.4 505L307.7 505.3L308.3 506L308.6 506.2L309.2 506.9L309.5 507.2L310.1 507.7L310.6 508.1L311 508.5L311.6 509L311.9 509.3L312.8 510L312.8 510L313.7 510.7L314 510.9L314.6 511.3L315.3 511.8L315.5 511.9L316.4 512.5L316.8 512.7L317.3 513.1L318.2 513.6L318.4 513.7L319.1 514.1L320 514.6L320.1 514.6L320.9 515L321.8 515.4L322.1 515.5L322.7 515.8L323.6 516.2L324.4 516.5L324.5 516.5L325.4 516.8L326.3 517.2L327 517.4L327.2 517.5L328.1 517.8L329 518.1L329.6 518.3L329.9 518.5L330.8 518.9L331.5 519.2L331.7 519.4L332.6 520.1L332.7 520.2L333.5 521.1L333.5 521.2L334 522L334.3 523L334.4 523.6L334.5 523.9L334.6 524.8L334.7 525.7L334.7 526.7L334.7 527.6L334.8 528.5L334.8 529.5L334.8 530.4L334.8 531.3L334.9 532.3L335 533.2L335.1 534.1L335.3 535L335.3 535.3L335.4 536L335.6 536.9L335.9 537.8L336.1 538.8L336.2 539.1L336.4 539.7L336.7 540.6L337.1 541.5L337.1 541.7L337.4 542.5L337.8 543.4L338 543.9L338.2 544.3L338.6 545.3L338.9 545.9L339 546.2L339.5 547.1L339.8 547.7L340 548L340.5 549L340.7 549.4L341 549.9L341.5 550.8L341.6 551L342.1 551.8L342.5 552.4L342.7 552.7L343.3 553.6L343.4 553.8L343.9 554.5L344.3 555.1L344.6 555.5L345.2 556.3L345.3 556.4L346 557.3L346.1 557.4L346.8 558.3L347 558.5L347.6 559.2L347.9 559.5L348.5 560.1L348.8 560.5L349.4 561.1L349.7 561.3L350.4 562L350.6 562.2L351.5 562.9L351.5 563L352.4 563.7L352.6 563.8L353.3 564.4L353.9 564.8L354.2 565L355.1 565.6L355.2 565.7L356 566.2L356.7 566.6L356.9 566.8L357.8 567.3L358.4 567.6L358.7 567.8L359.6 568.2L360.2 568.5L360.5 568.6L361.4 569L362.3 569.4L362.3 569.4L363.2 569.8L364.1 570.1L364.8 570.3L365 570.4L366 570.7L366.9 571L367.6 571.3L367.8 571.3L368.7 571.6L369.6 571.8L370.5 572.1L370.9 572.2L371.4 572.3L372.3 572.6L373.2 572.8L374.1 573L374.5 573.1L375 573.2L375.9 573.4L376.8 573.6L377.7 573.8L378.6 574L379.2 574.1ZM369.6 560.3L370.5 560.5L371.4 560.6L372.3 560.8L373.2 560.9L374.1 560.9L375 561L375.9 560.9L376.8 560.9L377.7 560.8L378.6 560.7L379.5 560.5L380.4 560.3L381.2 560.1L381.3 560.1L382.2 559.9L383.1 559.7L384 559.4L384.9 559.2L385 559.2L385.8 559L386.7 558.8L387.6 558.7L388.5 558.5L389.4 558.3L389.5 558.3L390.3 558.1L391.2 557.9L392.1 557.7L393 557.4L393.3 557.3L393.9 557.2L394.8 556.8L395.7 556.4L395.7 556.4L396.6 555.9L397.3 555.5L397.5 555.3L398.4 554.6L398.4 554.5L399.3 553.7L399.3 553.6L400.1 552.7L400.2 552.6L400.7 551.8L401.1 551.2L401.3 550.8L401.8 549.9L402 549.7L402.3 549L402.8 548L402.9 547.9L403.3 547.1L403.8 546.2L403.8 546.2L404.3 545.3L404.7 544.5L404.8 544.3L405.3 543.4L405.6 542.8L405.8 542.5L406.3 541.5L406.5 541.2L406.8 540.6L407.3 539.7L407.4 539.6L407.9 538.8L408.3 538L408.4 537.8L408.9 536.9L409.2 536.5L409.5 536L410.1 535L410.1 535L410.6 534.1L411 533.6L411.3 533.2L411.9 532.3L411.9 532.2L412.5 531.3L412.8 530.9L413.1 530.4L413.7 529.5L413.7 529.4L414.1 528.5L414.4 527.6L414.6 526.7L414.6 526.5L414.6 525.7L414.6 525.1L414.6 524.8L414.4 523.9L414.2 523L413.9 522L413.7 521.6L413.5 521.1L413.1 520.2L412.8 519.6L412.6 519.2L412.1 518.3L411.9 517.9L411.6 517.4L411 516.5L411 516.5L410.4 515.5L410.1 515.1L409.7 514.6L409.2 513.8L409.1 513.7L408.4 512.7L408.3 512.6L407.7 511.8L407.4 511.5L406.9 510.9L406.5 510.4L406.1 510L405.6 509.4L405.2 509L404.7 508.4L404.3 508.1L403.8 507.6L403.4 507.2L402.9 506.7L402.3 506.2L402 506L401.1 505.3L401.1 505.3L400.2 504.6L399.8 504.4L399.3 504L398.4 503.5L398.3 503.5L397.5 503L396.6 502.6L396.4 502.5L395.7 502.2L394.8 501.9L393.9 501.7L393.6 501.6L393 501.5L392.1 501.3L391.2 501.2L390.3 501.1L389.4 501L388.5 501L387.6 501.1L386.7 501.1L385.8 501.2L384.9 501.3L384 501.5L383.4 501.6L383.1 501.7L382.2 501.8L381.3 502L380.4 502.2L379.5 502.5L379.2 502.5L378.6 502.7L377.7 502.9L376.8 503.1L375.9 503.4L375.5 503.5L375 503.6L374.1 503.8L373.2 504L372.3 504.2L371.4 504.4L371.3 504.4L370.5 504.6L369.6 504.8L368.7 505L367.8 505.2L367.3 505.3L366.9 505.4L366 505.7L365 505.9L364.1 506.2L364.1 506.2L363.2 506.5L362.3 506.9L361.5 507.2L361.4 507.2L360.5 507.5L359.6 507.9L359.2 508.1L358.7 508.3L357.8 508.7L357.1 509L356.9 509.1L356 509.6L355.3 510L355.1 510L354.2 510.6L353.8 510.9L353.3 511.2L352.6 511.8L352.4 512L351.7 512.7L351.5 512.9L350.9 513.7L350.6 514.1L350.3 514.6L349.8 515.5L349.7 515.7L349.4 516.5L349.1 517.4L348.8 518.1L348.8 518.3L348.5 519.2L348.3 520.2L348.2 521.1L348 522L347.9 522.9L347.9 523L347.8 523.9L347.8 524.8L347.7 525.7L347.6 526.7L347.6 527.6L347.6 528.5L347.6 529.5L347.6 530.4L347.6 531.3L347.6 532.3L347.7 533.2L347.8 534.1L347.9 535L347.9 535.5L348 536L348.1 536.9L348.3 537.8L348.5 538.8L348.7 539.7L348.8 540L349 540.6L349.3 541.5L349.6 542.5L349.7 542.8L350 543.4L350.4 544.3L350.6 544.9L350.8 545.3L351.3 546.2L351.5 546.6L351.8 547.1L352.4 548L352.4 548.1L353 549L353.3 549.5L353.7 549.9L354.2 550.7L354.4 550.8L355.1 551.7L355.2 551.8L356 552.7L356 552.7L356.9 553.6L357 553.6L357.8 554.4L358.1 554.5L358.7 555.1L359.2 555.5L359.6 555.8L360.5 556.4L360.6 556.4L361.4 557L362.1 557.3L362.3 557.5L363.2 558L363.9 558.3L364.1 558.4L365 558.8L366 559.1L366.1 559.2L366.9 559.5L367.8 559.8L368.7 560L369 560.1ZM321.8 505.3L322.7 505.6L323.6 505.8L324.5 506L325.4 506.1L326.3 506.1L327.2 506.2L328.1 506.2L329 506.1L329.9 506L330.8 505.9L331.7 505.7L332.6 505.5L333.4 505.3L333.5 505.3L334.4 505L335.3 504.7L336.2 504.4L336.2 504.4L337.1 504L338 503.5L338.1 503.5L338.9 503L339.7 502.5L339.8 502.4L340.7 501.8L341 501.6L341.6 501.1L342.1 500.7L342.5 500.3L343.1 499.7L343.4 499.4L344 498.8L344.3 498.4L344.8 497.9L345.2 497.3L345.5 497L346.1 496.1L346.2 496L346.8 495.1L347 494.7L347.3 494.2L347.8 493.2L347.9 493L348.3 492.3L348.7 491.4L348.8 491.1L349.1 490.4L349.5 489.5L349.7 489L349.9 488.6L350.4 487.7L350.6 487.1L350.8 486.7L351.3 485.8L351.5 485.4L351.9 484.9L352.4 484L352.5 483.9L353.1 483L353.3 482.8L353.9 482.1L354.2 481.6L354.6 481.2L355.1 480.4L355.3 480.2L356 479.3L356 479.2L356.6 478.4L356.9 477.8L357.1 477.4L357.6 476.5L357.8 475.8L357.9 475.6L358.2 474.7L358.4 473.7L358.6 472.8L358.6 471.9L358.6 470.9L358.5 470L358.4 469.1L358.3 468.2L358 467.2L357.8 466.6L357.8 466.3L357.4 465.4L357.1 464.4L356.9 464.2L356.6 463.5L356.2 462.6L356 462.3L355.6 461.6L355.1 460.9L355 460.7L354.4 459.8L354.2 459.6L353.6 458.9L353.3 458.5L352.8 457.9L352.4 457.6L351.8 457L351.5 456.7L350.7 456.1L350.6 456L349.7 455.3L349.4 455.1L348.8 454.8L347.9 454.3L347.8 454.2L347 453.9L346.1 453.5L345.3 453.3L345.2 453.3L344.3 453.1L343.4 453L342.5 452.9L341.6 453L340.7 453.1L340.1 453.3L339.8 453.4L338.9 453.7L338 454.1L337.9 454.2L337.1 454.7L336.4 455.1L336.2 455.3L335.3 456L335.2 456.1L334.4 456.7L334.1 457L333.5 457.5L333 457.9L332.6 458.2L331.9 458.9L331.7 459L330.8 459.7L330.7 459.8L329.9 460.4L329.5 460.7L329 461L328.1 461.6L328.1 461.6L327.2 462.2L326.4 462.6L326.3 462.6L325.4 463.1L324.5 463.5L324.5 463.5L323.6 463.9L322.7 464.2L322.2 464.4L321.8 464.6L320.9 465L320 465.3L319.9 465.4L319.1 465.7L318.2 466.1L317.8 466.3L317.3 466.5L316.4 467L316 467.2L315.5 467.5L314.6 468L314.4 468.2L313.7 468.6L313.1 469.1L312.8 469.3L311.9 470L311.9 470L311 470.8L310.9 470.9L310.1 471.8L310 471.9L309.2 472.8L309.2 472.8L308.5 473.7L308.3 474.1L307.9 474.7L307.4 475.6L307.4 475.6L306.9 476.5L306.5 477.4L306.5 477.5L306.2 478.4L305.9 479.3L305.7 480.2L305.6 480.8L305.5 481.2L305.4 482.1L305.4 483L305.3 483.9L305.4 484.9L305.5 485.8L305.6 486.7L305.6 486.7L305.8 487.7L306 488.6L306.3 489.5L306.5 490.1L306.6 490.4L307 491.4L307.4 492.3L307.4 492.3L307.9 493.2L308.3 494L308.4 494.2L309 495.1L309.2 495.4L309.6 496L310.1 496.7L310.3 497L311 497.8L311.1 497.9L311.9 498.8L311.9 498.8L312.8 499.7L312.8 499.8L313.7 500.6L313.8 500.7L314.6 501.4L314.9 501.6L315.5 502.1L316.2 502.5L316.4 502.7L317.3 503.3L317.6 503.5L318.2 503.8L319.1 504.3L319.4 504.4L320 504.7L320.9 505L321.8 505.3ZM372.3 553.7L373.2 553.8L374.1 553.9L375 553.9L375.9 553.9L376.8 553.9L377.7 553.9L378.6 553.9L379.5 553.8L380.4 553.8L381.3 553.7L382.2 553.7L382.5 553.6L383.1 553.6L384 553.5L384.9 553.4L385.8 553.3L386.7 553.1L387.6 553L388.5 552.8L388.8 552.7L389.4 552.5L390.3 552.3L391.2 551.9L391.5 551.8L392.1 551.5L393 551L393.2 550.8L393.9 550.3L394.4 549.9L394.8 549.5L395.3 549L395.7 548.6L396.1 548L396.6 547.3L396.7 547.1L397.3 546.2L397.5 545.8L397.8 545.3L398.2 544.3L398.4 543.9L398.6 543.4L399 542.5L399.3 541.7L399.4 541.5L399.7 540.6L400 539.7L400.2 539.3L400.4 538.8L400.7 537.8L401 536.9L401.1 536.5L401.2 536L401.5 535L401.8 534.1L402 533.2L402 533.2L402.2 532.3L402.4 531.3L402.5 530.4L402.6 529.5L402.7 528.5L402.7 527.6L402.7 526.7L402.7 525.7L402.6 524.8L402.4 523.9L402.2 523L402 522.2L401.9 522L401.6 521.1L401.2 520.2L401.1 520L400.7 519.2L400.2 518.3L400.2 518.3L399.6 517.4L399.3 517L398.9 516.5L398.4 515.9L398.1 515.5L397.5 514.9L397.2 514.6L396.6 514.1L396.1 513.7L395.7 513.3L394.9 512.7L394.8 512.6L393.9 512.1L393.5 511.8L393 511.5L392.1 511.1L391.6 510.9L391.2 510.7L390.3 510.4L389.4 510.1L388.8 510L388.5 509.9L387.6 509.7L386.7 509.5L385.8 509.4L384.9 509.4L384 509.3L383.1 509.3L382.2 509.3L381.3 509.4L380.4 509.4L379.5 509.5L378.6 509.6L377.7 509.7L376.8 509.8L375.9 509.9L375.3 510L375 510L374.1 510.1L373.2 510.3L372.3 510.5L371.4 510.6L370.5 510.9L370.4 510.9L369.6 511.1L368.7 511.4L367.8 511.7L367.3 511.8L366.9 512L366 512.3L365 512.7L364.9 512.7L364.1 513.1L363.2 513.5L362.8 513.7L362.3 513.9L361.4 514.3L360.9 514.6L360.5 514.8L359.6 515.3L359.3 515.5L358.7 515.9L358 516.5L357.8 516.6L356.9 517.4L356.9 517.4L356.1 518.3L356 518.4L355.4 519.2L355.1 519.6L354.8 520.2L354.4 521.1L354.2 521.5L354 522L353.7 523L353.5 523.9L353.4 524.8L353.3 525.1L353.3 525.7L353.2 526.7L353.2 527.6L353.2 528.5L353.2 529.5L353.2 530.4L353.3 531.3L353.3 531.3L353.5 532.3L353.6 533.2L353.8 534.1L354 535L354.2 536L354.2 536.2L354.4 536.9L354.7 537.8L355 538.8L355.1 539L355.4 539.7L355.8 540.6L356 541.2L356.2 541.5L356.7 542.5L356.9 542.9L357.2 543.4L357.8 544.3L357.8 544.4L358.4 545.3L358.7 545.7L359.1 546.2L359.6 546.8L359.9 547.1L360.5 547.8L360.8 548L361.4 548.6L361.9 549L362.3 549.4L363 549.9L363.2 550.1L364.1 550.7L364.4 550.8L365 551.2L366 551.7L366.1 551.8L366.9 552.1L367.8 552.5L368.3 552.7L368.7 552.8L369.6 553.1L370.5 553.3L371.4 553.5L372 553.6ZM322.7 499.8L323.6 500L324.5 500.1L325.4 500.2L326.3 500.1L327.2 500.1L328.1 499.9L329 499.8L329.1 499.7L329.9 499.5L330.8 499.2L331.6 498.8L331.7 498.8L332.6 498.3L333.3 497.9L333.5 497.7L334.4 497.1L334.6 497L335.3 496.3L335.7 496L336.2 495.5L336.6 495.1L337.1 494.5L337.5 494.2L338 493.5L338.2 493.2L338.9 492.3L338.9 492.3L339.5 491.4L339.8 490.9L340.1 490.4L340.6 489.5L340.7 489.2L341 488.6L341.3 487.7L341.6 486.7L341.6 486.7L341.9 485.8L342.1 484.9L342.3 483.9L342.4 483L342.5 482.1L342.5 482.1L342.7 481.2L342.8 480.2L342.9 479.3L343 478.4L343.2 477.4L343.3 476.5L343.4 476.1L343.6 475.6L343.8 474.7L344.2 473.7L344.3 473.2L344.5 472.8L344.8 471.9L345.1 470.9L345.2 470L345 469.1L344.3 468.2L344.3 468.2L343.4 467.8L342.5 467.8L341.6 468L341.1 468.2L340.7 468.3L339.8 468.6L338.9 468.9L338.2 469.1L338 469.1L337.1 469.3L336.2 469.5L335.3 469.6L334.4 469.7L333.5 469.8L332.6 469.9L331.7 470L331.1 470L330.8 470L329.9 470.1L329 470.2L328.1 470.3L327.2 470.4L326.3 470.5L325.4 470.7L324.5 470.9L324.3 470.9L323.6 471.1L322.7 471.3L321.8 471.6L321.2 471.9L320.9 472L320 472.4L319.1 472.8L319.1 472.8L318.2 473.3L317.5 473.7L317.3 473.9L316.4 474.5L316.2 474.7L315.5 475.3L315.2 475.6L314.6 476.2L314.3 476.5L313.7 477.3L313.6 477.4L313 478.4L312.8 478.6L312.5 479.3L312 480.2L311.9 480.5L311.7 481.2L311.4 482.1L311.2 483L311.1 483.9L311.1 484.9L311.1 485.8L311.2 486.7L311.3 487.7L311.5 488.6L311.8 489.5L311.9 489.8L312.1 490.4L312.6 491.4L312.8 491.9L313 492.3L313.6 493.2L313.7 493.4L314.3 494.2L314.6 494.6L315.1 495.1L315.5 495.6L316 496L316.4 496.4L317 497L317.3 497.2L318.2 497.8L318.3 497.9L319.1 498.4L320 498.8L320 498.8L320.9 499.2L321.8 499.5L322.5 499.7ZM379.5 548.1L380.4 548.1L381.3 548.1L382.2 548.1L382.5 548L383.1 548L384 547.9L384.9 547.8L385.8 547.6L386.7 547.3L387.2 547.1L387.6 547L388.5 546.5L389.1 546.2L389.4 546L390.3 545.3L390.3 545.3L391.2 544.4L391.2 544.3L392 543.4L392.1 543.2L392.5 542.5L393 541.6L393 541.5L393.4 540.6L393.7 539.7L393.9 539.2L394 538.8L394.3 537.8L394.4 536.9L394.6 536L394.7 535L394.8 534.5L394.8 534.1L394.9 533.2L394.9 532.3L394.9 531.3L394.9 530.4L394.8 529.5L394.8 529.5L394.7 528.5L394.5 527.6L394.3 526.7L394 525.7L393.9 525.5L393.6 524.8L393.2 523.9L393 523.4L392.7 523L392.1 522L392.1 522L391.3 521.1L391.2 520.9L390.4 520.2L390.3 520L389.4 519.3L389.3 519.2L388.5 518.7L387.9 518.3L387.6 518.2L386.7 517.7L385.8 517.4L385.8 517.4L384.9 517.1L384 516.8L383.1 516.6L382.4 516.5L382.2 516.4L381.3 516.3L380.4 516.2L379.5 516.1L378.6 516.1L377.7 516.1L376.8 516.1L375.9 516.1L375 516.2L374.1 516.3L373.3 516.5L373.2 516.5L372.3 516.7L371.4 516.9L370.5 517.2L369.8 517.4L369.6 517.5L368.7 517.8L367.8 518.1L367.4 518.3L366.9 518.5L366 519L365.4 519.2L365 519.4L364.1 520L363.8 520.2L363.2 520.6L362.5 521.1L362.3 521.3L361.5 522L361.4 522.1L360.7 523L360.5 523.2L360.1 523.9L359.7 524.8L359.6 524.9L359.4 525.7L359.1 526.7L359 527.6L358.9 528.5L358.9 529.5L359 530.4L359.1 531.3L359.3 532.3L359.5 533.2L359.6 533.8L359.7 534.1L360.1 535L360.4 536L360.5 536.2L360.9 536.9L361.3 537.8L361.4 538L361.9 538.8L362.3 539.5L362.5 539.7L363.2 540.6L363.2 540.7L364 541.5L364.1 541.7L364.9 542.5L365 542.6L365.9 543.4L366 543.4L366.9 544.1L367.2 544.3L367.8 544.7L368.7 545.2L368.7 545.3L369.6 545.7L370.5 546.1L370.6 546.2L371.4 546.5L372.3 546.8L373.2 547.1L373.4 547.1L374.1 547.3L375 547.5L375.9 547.7L376.8 547.8L377.7 547.9L378.6 548L379.2 548ZM321.8 490.5L322.7 491L323.6 491.3L324.5 491.4L325.4 491.3L326.3 491.1L327.2 490.7L327.6 490.4L328.1 490L328.7 489.5L329 489.1L329.4 488.6L329.9 487.8L330 487.7L330.3 486.7L330.5 485.8L330.6 484.9L330.5 483.9L330.1 483L329.9 482.6L329.5 482.1L329 481.6L328.4 481.2L328.1 481L327.2 480.7L326.3 480.5L325.4 480.5L324.5 480.6L323.6 480.8L322.8 481.2L322.7 481.2L321.8 481.8L321.4 482.1L320.9 482.6L320.6 483L320 483.9L320 483.9L319.7 484.9L319.6 485.8L319.6 486.7L319.8 487.7L320 488.3L320.1 488.6L320.8 489.5L320.9 489.7L321.8 490.4Z" stroke="#333333" stroke-width="1.8" fill="none" stroke-linejoin="round"/>
</g>
<g clip-path="url(#c22)">
<rect x="480.33" y="418" width="180" height="185.2" fill="#eaeaf2"/>
<path d="M518.5 418v185.2M568.5 418v185.2M617.5 418v185.2" stroke="#fff" stroke-width="1.2" stroke-linecap="round" fill="none"/>
<rect x="571.16" y="598.01" width="11.62" height="6.09" fill="#55a868" fill-opacity="0.25"/>
<rect x="582.78" y="494.44" width="11.62" height="109.66" fill="#55a868" fill-opacity="0.25"/>
<rect x="594.4" y="476.17" width="11.62" height="127.93" fill="#55a868" fill-opacity="0.25"/>
<rect x="606.01" y="518.81" width="11.62" height="85.29" fill="#55a868" fill-opacity="0.25"/>
<rect x="617.63" y="558.41" width="11.62" height="45.69" fill="#55a868" fill-opacity="0.25"/>
<rect x="524.69" y="594.96" width="11.62" height="9.14" fill="#dd8452" fill-opacity="0.25"/>
<rect x="536.31" y="576.69" width="11.62" height="27.41" fill="#dd8452" fill-opacity="0.25"/>
<rect x="547.92" y="540.13" width="11.62" height="63.97" fill="#dd8452" fill-opacity="0.25"/>
<rect x="559.54" y="537.09" width="11.62" height="67.01" fill="#dd8452" fill-opacity="0.25"/>
<rect x="571.16" y="576.69" width="11.62" height="27.41" fill="#dd8452" fill-opacity="0.25"/>
<rect x="582.78" y="591.92" width="11.62" height="12.18" fill="#dd8452" fill-opacity="0.25"/>
<rect x="513.07" y="594.96" width="11.62" height="9.14" fill="#4c72b0" fill-opacity="0.25"/>
<rect x="524.69" y="546.23" width="11.62" height="57.87" fill="#4c72b0" fill-opacity="0.25"/>
<rect x="536.31" y="473.12" width="11.62" height="130.98" fill="#4c72b0" fill-opacity="0.25"/>
<rect x="547.92" y="427.43" width="11.62" height="176.67" fill="#4c72b0" fill-opacity="0.25"/>
<rect x="559.54" y="537.09" width="11.62" height="67.01" fill="#4c72b0" fill-opacity="0.25"/>
<rect x="571.16" y="591.92" width="11.62" height="12.18" fill="#4c72b0" fill-opacity="0.25"/>
<rect x="582.78" y="598.01" width="11.62" height="6.09" fill="#4c72b0" fill-opacity="0.25"/>
<path d="M513.1 604.1L513.7 604.1L514.2 604.1L514.8 604.1L515.4 604.1L516 604.1L516.6 604.1L517.2 604.1L517.7 604.1L518.3 604.1L518.9 604.1L519.5 604.1L520.1 604.1L520.7 604.1L521.2 604.1L521.8 604.1L522.4 604.1L523 604.1L523.6 604.1L524.2 604.1L524.7 604.1L525.3 604.1L525.9 604.1L526.5 604.1L527.1 604.1L527.7 604.1L528.3 604.1L528.8 604.1L529.4 604.1L530 604.1L530.6 604.1L531.2 604.1L531.8 604.1L532.3 604.1L532.9 604.1L533.5 604.1L534.1 604.1L534.7 604.1L535.3 604.1L535.8 604.1L536.4 604.1L537 604.1L537.6 604.1L538.2 604.1L538.8 604.1L539.3 604.1L539.9 604.1L540.5 604.1L541.1 604.1L541.7 604.1L542.3 604.1L542.8 604.1L543.4 604.1L544 604.1L544.6 604.1L545.2 604.1L545.8 604.1L546.3 604.1L546.9 604.1L547.5 604.1L548.1 604.1L548.7 604.1L549.3 604.1L549.9 604.1L550.4 604.1L551 604.1L551.6 604.1L552.2 604.1L552.8 604.1L553.4 604.1L553.9 604.1L554.5 604.1L555.1 604.1L555.7 604.1L556.3 604.1L556.9 604.1L557.4 604.1L558 604.1L558.6 604.1L559.2 604.1L559.8 604.1L560.4 604L560.9 604L561.5 604L562.1 604L562.7 603.9L563.3 603.9L563.9 603.8L564.4 603.7L565 603.6L565.6 603.4L566.2 603.3L566.8 603.1L567.4 602.8L567.9 602.6L568.5 602.3L569.1 601.9L569.7 601.6L570.3 601.1L570.9 600.6L571.5 600.1L572 599.5L572.6 598.7L573.2 597.9L573.8 596.9L574.4 595.7L575 594.4L575.5 592.8L576.1 591L576.7 588.9L577.3 586.4L577.9 583.7L578.5 580.6L579 577.1L579.6 573.3L580.2 569.2L580.8 564.8L581.4 560.2L582 555.3L582.5 550.3L583.1 545.3L583.7 540.2L584.3 535.2L584.9 530.2L585.5 525.5L586 521L586.6 516.7L587.2 512.7L587.8 508.9L588.4 505.5L589 502.3L589.5 499.4L590.1 496.8L590.7 494.5L591.3 492.3L591.9 490.3L592.5 488.6L593.1 487L593.6 485.6L594.2 484.4L594.8 483.4L595.4 482.5L596 481.8L596.6 481.3L597.1 481L597.7 481L598.3 481.1L598.9 481.4L599.5 482L600.1 482.7L600.6 483.7L601.2 484.8L601.8 486.1L602.4 487.5L603 489.1L603.6 490.8L604.1 492.6L604.7 494.4L605.3 496.3L605.9 498.3L606.5 500.3L607.1 502.4L607.6 504.4L608.2 506.5L608.8 508.7L609.4 510.8L610 513L610.6 515.2L611.2 517.4L611.7 519.7L612.3 522.1L612.9 524.4L613.5 526.8L614.1 529.3L614.7 531.8L615.2 534.2L615.8 536.7L616.4 539.1L617 541.5L617.6 543.8L618.2 546L618.7 548.1L619.3 550L619.9 551.8L620.5 553.4L621.1 554.9L621.7 556.2L622.2 557.4L622.8 558.5L623.4 559.6L624 560.7L624.6 561.7L625.2 562.9L625.7 564.2L626.3 565.5L626.9 567.1L627.5 568.8L628.1 570.6L628.7 572.7L629.2 574.8" stroke="#55a868" stroke-width="1.8" fill="none" stroke-linecap="square" stroke-linejoin="round"/>
<path d="M513.1 603.9L513.7 603.8L514.2 603.8L514.8 603.7L515.4 603.6L516 603.5L516.6 603.4L517.2 603.2L517.7 603.1L518.3 602.9L518.9 602.7L519.5 602.4L520.1 602.2L520.7 601.9L521.2 601.6L521.8 601.2L522.4 600.9L523 600.5L523.6 600.1L524.2 599.7L524.7 599.2L525.3 598.7L525.9 598.2L526.5 597.7L527.1 597.2L527.7 596.6L528.3 596.1L528.8 595.5L529.4 594.9L530 594.2L530.6 593.6L531.2 592.9L531.8 592.2L532.3 591.5L532.9 590.7L533.5 589.9L534.1 589.1L534.7 588.2L535.3 587.4L535.8 586.4L536.4 585.5L537 584.5L537.6 583.5L538.2 582.4L538.8 581.3L539.3 580.2L539.9 579L540.5 577.8L541.1 576.6L541.7 575.3L542.3 574L542.8 572.6L543.4 571.2L544 569.7L544.6 568.3L545.2 566.7L545.8 565.2L546.3 563.6L546.9 562L547.5 560.4L548.1 558.8L548.7 557.1L549.3 555.5L549.9 553.9L550.4 552.3L551 550.8L551.6 549.3L552.2 547.9L552.8 546.5L553.4 545.1L553.9 543.9L554.5 542.7L555.1 541.7L555.7 540.7L556.3 539.8L556.9 539.1L557.4 538.4L558 537.9L558.6 537.6L559.2 537.3L559.8 537.2L560.4 537.2L560.9 537.4L561.5 537.7L562.1 538.1L562.7 538.7L563.3 539.4L563.9 540.3L564.4 541.3L565 542.4L565.6 543.6L566.2 544.9L566.8 546.3L567.4 547.9L567.9 549.4L568.5 551.1L569.1 552.7L569.7 554.4L570.3 556.2L570.9 557.9L571.5 559.6L572 561.3L572.6 562.9L573.2 564.6L573.8 566.1L574.4 567.6L575 569.1L575.5 570.5L576.1 571.8L576.7 573.1L577.3 574.3L577.9 575.5L578.5 576.6L579 577.7L579.6 578.7L580.2 579.7L580.8 580.7L581.4 581.6L582 582.5L582.5 583.4L583.1 584.2L583.7 585.1L584.3 585.9L584.9 586.7L585.5 587.5L586 588.3L586.6 589L587.2 589.8L587.8 590.5L588.4 591.3L589 592L589.5 592.7L590.1 593.4L590.7 594.1L591.3 594.8L591.9 595.5L592.5 596.1L593.1 596.7L593.6 597.4L594.2 598L594.8 598.5L595.4 599.1L596 599.6L596.6 600.1L597.1 600.6L597.7 601L598.3 601.4L598.9 601.7L599.5 602.1L600.1 602.4L600.6 602.6L601.2 602.9L601.8 603.1L602.4 603.3L603 603.4L603.6 603.5L604.1 603.6L604.7 603.7L605.3 603.8L605.9 603.9L606.5 603.9L607.1 604L607.6 604L608.2 604L608.8 604L609.4 604.1L610 604.1L610.6 604.1L611.2 604.1L611.7 604.1L612.3 604.1L612.9 604.1L613.5 604.1L614.1 604.1L614.7 604.1L615.2 604.1L615.8 604.1L616.4 604.1L617 604.1L617.6 604.1L618.2 604.1L618.7 604.1L619.3 604.1L619.9 604.1L620.5 604.1L621.1 604.1L621.7 604.1L622.2 604.1L622.8 604.1L623.4 604.1L624 604.1L624.6 604.1L625.2 604.1L625.7 604.1L626.3 604.1L626.9 604.1L627.5 604.1L628.1 604.1L628.7 604.1L629.2 604.1" stroke="#dd8452" stroke-width="1.8" fill="none" stroke-linecap="square" stroke-linejoin="round"/>
<path d="M513.1 598.9L513.7 598.5L514.2 597.9L514.8 597.4L515.4 596.8L516 596.1L516.6 595.3L517.2 594.4L517.7 593.4L518.3 592.2L518.9 591L519.5 589.5L520.1 588L520.7 586.2L521.2 584.3L521.8 582.3L522.4 580.2L523 577.9L523.6 575.5L524.2 573.1L524.7 570.5L525.3 567.9L525.9 565.3L526.5 562.7L527.1 560.1L527.7 557.5L528.3 554.8L528.8 552.2L529.4 549.6L530 547L530.6 544.3L531.2 541.6L531.8 538.9L532.3 536.1L532.9 533.2L533.5 530.2L534.1 527.1L534.7 523.9L535.3 520.6L535.8 517.2L536.4 513.6L537 509.9L537.6 506.1L538.2 502.1L538.8 498L539.3 493.9L539.9 489.6L540.5 485.3L541.1 480.9L541.7 476.6L542.3 472.2L542.8 467.8L543.4 463.6L544 459.5L544.6 455.5L545.2 451.7L545.8 448.3L546.3 445.1L546.9 442.3L547.5 439.8L548.1 437.8L548.7 436.3L549.3 435.2L549.9 434.7L550.4 434.6L551 435.1L551.6 436.1L552.2 437.6L552.8 439.6L553.4 442.1L553.9 445.1L554.5 448.5L555.1 452.3L555.7 456.5L556.3 461.1L556.9 465.9L557.4 470.9L558 476.1L558.6 481.4L559.2 486.7L559.8 492.1L560.4 497.3L560.9 502.4L561.5 507.3L562.1 512.1L562.7 516.5L563.3 520.8L563.9 524.8L564.4 528.6L565 532.2L565.6 535.7L566.2 539L566.8 542.2L567.4 545.3L567.9 548.3L568.5 551.3L569.1 554.3L569.7 557.3L570.3 560.2L570.9 563.1L571.5 566L572 568.8L572.6 571.5L573.2 574.1L573.8 576.5L574.4 578.8L575 580.9L575.5 582.8L576.1 584.6L576.7 586.2L577.3 587.6L577.9 588.8L578.5 589.9L579 590.8L579.6 591.7L580.2 592.4L580.8 593L581.4 593.5L582 594L582.5 594.5L583.1 594.9L583.7 595.2L584.3 595.6L584.9 595.9L585.5 596.2L586 596.5L586.6 596.8L587.2 597.1L587.8 597.3L588.4 597.6L589 597.9L589.5 598.2L590.1 598.5L590.7 598.8L591.3 599.1L591.9 599.4L592.5 599.7L593.1 600L593.6 600.4L594.2 600.7L594.8 601L595.4 601.4L596 601.7L596.6 602L597.1 602.3L597.7 602.5L598.3 602.8L598.9 603L599.5 603.2L600.1 603.4L600.6 603.5L601.2 603.6L601.8 603.7L602.4 603.8L603 603.9L603.6 603.9L604.1 604L604.7 604L605.3 604L605.9 604.1L606.5 604.1L607.1 604.1L607.6 604.1L608.2 604.1L608.8 604.1L609.4 604.1L610 604.1L610.6 604.1L611.2 604.1L611.7 604.1L612.3 604.1L612.9 604.1L613.5 604.1L614.1 604.1L614.7 604.1L615.2 604.1L615.8 604.1L616.4 604.1L617 604.1L617.6 604.1L618.2 604.1L618.7 604.1L619.3 604.1L619.9 604.1L620.5 604.1L621.1 604.1L621.7 604.1L622.2 604.1L622.8 604.1L623.4 604.1L624 604.1L624.6 604.1L625.2 604.1L625.7 604.1L626.3 604.1L626.9 604.1L627.5 604.1L628.1 604.1L628.7 604.1L629.2 604.1" stroke="#4c72b0" stroke-width="1.8" fill="none" stroke-linecap="square" stroke-linejoin="round"/>
</g>
<g clip-path="url(#c30)">
<rect x="69" y="623" width="180" height="185.2" fill="#eaeaf2"/>
<path d="M88.5 623v185.2M133.5 623v185.2M178.5 623v185.2M223.5 623v185.2M70 801.5h179M70 767.5h179M70 733.5h179M70 699.5h179M70 665.5h179M70 630.5h179" stroke="#fff" stroke-width="1.2" stroke-linecap="round" fill="none"/>
<path d="M109.6 741.5h7.8m-3.9-3.9v7.8M113.6 768.5h7.8m-3.9-3.9v7.8M123.6 740.5h7.8m-3.9-3.9v7.8M133.6 742.5h7.8m-3.9-3.9v7.8M131.6 749.5h7.8m-3.9-3.9v7.8M114.6 754.5h7.8m-3.9-3.9v7.8M137.6 720.5h7.8m-3.9-3.9v7.8M117.6 759.5h7.8m-3.9-3.9v7.8M128.6 736.5h7.8m-3.9-3.9v7.8M116.6 749.5h7.8m-3.9-3.9v7.8M130.6 720.5h7.8m-3.9-3.9v7.8M140.6 717.5h7.8m-3.9-3.9v7.8M126.6 745.5h7.8m-3.9-3.9v7.8M117.6 760.5h7.8m-3.9-3.9v7.8M129.6 770.5h7.8m-3.9-3.9v7.8M100.6 747.5h7.8m-3.9-3.9v7.8M125.6 714.5h7.8m-3.9-3.9v7.8M119.6 756.5h7.8m-3.9-3.9v7.8M153.6 712.5h7.8m-3.9-3.9v7.8M130.6 739.5h7.8m-3.9-3.9v7.8M118.6 771.5h7.8m-3.9-3.9v7.8M108.6 732.5h7.8m-3.9-3.9v7.8M115.6 759.5h7.8m-3.9-3.9v7.8M135.6 708.5h7.8m-3.9-3.9v7.8M120.6 723.5h7.8m-3.9-3.9v7.8M116.6 754.5h7.8m-3.9-3.9v7.8M137.6 730.5h7.8m-3.9-3.9v7.8M138.6 728.5h7.8m-3.9-3.9v7.8M157.6 726.5h7.8m-3.9-3.9v7.8M122.6 748.5h7.8m-3.9-3.9v7.8M107.6 740.5h7.8m-3.9-3.9v7.8M151.6 728.5h7.8m-3.9-3.9v7.8M128.6 739.5h7.8m-3.9-3.9v7.8M120.6 736.5h7.8m-3.9-3.9v7.8M133.6 746.5h7.8m-3.9-3.9v7.8M125.6 742.5h7.8m-3.9-3.9v7.8M141.6 767.5h7.8m-3.9-3.9v7.8M125.6 710.5h7.8m-3.9-3.9v7.8M144.6 711.5h7.8m-3.9-3.9v7.8M103.6 756.5h7.8m-3.9-3.9v7.8M107.6 746.5h7.8m-3.9-3.9v7.8M120.6 762.5h7.8m-3.9-3.9v7.8M120.6 758.5h7.8m-3.9-3.9v7.8M102.6 750.5h7.8m-3.9-3.9v7.8M117.6 743.5h7.8m-3.9-3.9v7.8M109.6 750.5h7.8m-3.9-3.9v7.8M113.6 754.5h7.8m-3.9-3.9v7.8M132.6 738.5h7.8m-3.9-3.9v7.8M128.6 735.5h7.8m-3.9-3.9v7.8M116.6 743.5h7.8m-3.9-3.9v7.8M125.6 765.5h7.8m-3.9-3.9v7.8M135.6 719.5h7.8m-3.9-3.9v7.8M131.6 758.5h7.8m-3.9-3.9v7.8M133.6 724.5h7.8m-3.9-3.9v7.8M130.6 758.5h7.8m-3.9-3.9v7.8M134.6 729.5h7.8m-3.9-3.9v7.8M123.6 744.5h7.8m-3.9-3.9v7.8M115.6 742.5h7.8m-3.9-3.9v7.8M143.6 706.5h7.8m-3.9-3.9v7.8M132.6 750.5h7.8m-3.9-3.9v7.8M110.6 757.5h7.8m-3.9-3.9v7.8M121.6 759.5h7.8m-3.9-3.9v7.8M112.6 755.5h7.8m-3.9-3.9v7.8M115.6 759.5h7.8m-3.9-3.9v7.8M139.6 724.5h7.8m-3.9-3.9v7.8M104.6 752.5h7.8m-3.9-3.9v7.8M113.6 756.5h7.8m-3.9-3.9v7.8M123.6 702.5h7.8m-3.9-3.9v7.8M132.6 735.5h7.8m-3.9-3.9v7.8M142.6 722.5h7.8m-3.9-3.9v7.8M110.6 769.5h7.8m-3.9-3.9v7.8M134.6 753.5h7.8m-3.9-3.9v7.8M134.6 734.5h7.8m-3.9-3.9v7.8M121.6 738.5h7.8m-3.9-3.9v7.8M140.6 740.5h7.8m-3.9-3.9v7.8M112.6 764.5h7.8m-3.9-3.9v7.8M103.6 745.5h7.8m-3.9-3.9v7.8M115.6 764.5h7.8m-3.9-3.9v7.8M131.6 736.5h7.8m-3.9-3.9v7.8M138.6 741.5h7.8m-3.9-3.9v7.8M122.6 751.5h7.8m-3.9-3.9v7.8M112.6 761.5h7.8m-3.9-3.9v7.8M117.6 730.5h7.8m-3.9-3.9v7.8M118.6 757.5h7.8m-3.9-3.9v7.8M129.6 760.5h7.8m-3.9-3.9v7.8M129.6 766.5h7.8m-3.9-3.9v7.8M112.6 763.5h7.8m-3.9-3.9v7.8M130.6 732.5h7.8m-3.9-3.9v7.8M115.6 751.5h7.8m-3.9-3.9v7.8M94.6 765.5h7.8m-3.9-3.9v7.8M121.6 755.5h7.8m-3.9-3.9v7.8M124.6 718.5h7.8m-3.9-3.9v7.8M111.6 765.5h7.8m-3.9-3.9v7.8M124.6 743.5h7.8m-3.9-3.9v7.8M118.6 757.5h7.8m-3.9-3.9v7.8M108.6 754.5h7.8m-3.9-3.9v7.8M112.6 748.5h7.8m-3.9-3.9v7.8M110.6 762.5h7.8m-3.9-3.9v7.8M149.6 715.5h7.8m-3.9-3.9v7.8M129.6 742.5h7.8m-3.9-3.9v7.8M125.6 741.5h7.8m-3.9-3.9v7.8M124.6 748.5h7.8m-3.9-3.9v7.8M119.6 724.5h7.8m-3.9-3.9v7.8M123.6 730.5h7.8m-3.9-3.9v7.8M114.6 754.5h7.8m-3.9-3.9v7.8M127.6 740.5h7.8m-3.9-3.9v7.8M136.6 737.5h7.8m-3.9-3.9v7.8M128.6 730.5h7.8m-3.9-3.9v7.8M124.6 726.5h7.8m-3.9-3.9v7.8M131.6 742.5h7.8m-3.9-3.9v7.8M127.6 736.5h7.8m-3.9-3.9v7.8M121.6 755.5h7.8m-3.9-3.9v7.8M108.6 749.5h7.8m-3.9-3.9v7.8M106.6 777.5h7.8m-3.9-3.9v7.8M130.6 742.5h7.8m-3.9-3.9v7.8M135.6 718.5h7.8m-3.9-3.9v7.8M106.6 773.5h7.8m-3.9-3.9v7.8M126.6 731.5h7.8m-3.9-3.9v7.8M132.6 731.5h7.8m-3.9-3.9v7.8M126.6 737.5h7.8m-3.9-3.9v7.8M113.6 748.5h7.8m-3.9-3.9v7.8M119.6 733.5h7.8m-3.9-3.9v7.8M130.6 739.5h7.8m-3.9-3.9v7.8M111.6 743.5h7.8m-3.9-3.9v7.8M147.6 733.5h7.8m-3.9-3.9v7.8M146.6 752.5h7.8m-3.9-3.9v7.8M139.6 742.5h7.8m-3.9-3.9v7.8M127.6 737.5h7.8m-3.9-3.9v7.8M137.6 736.5h7.8m-3.9-3.9v7.8M129.6 746.5h7.8m-3.9-3.9v7.8M118.6 748.5h7.8m-3.9-3.9v7.8M143.6 743.5h7.8m-3.9-3.9v7.8M117.6 754.5h7.8m-3.9-3.9v7.8M116.6 752.5h7.8m-3.9-3.9v7.8M121.6 759.5h7.8m-3.9-3.9v7.8M122.6 753.5h7.8m-3.9-3.9v7.8M136.6 725.5h7.8m-3.9-3.9v7.8M136.6 747.5h7.8m-3.9-3.9v7.8M126.6 751.5h7.8m-3.9-3.9v7.8M119.6 754.5h7.8m-3.9-3.9v7.8M133.6 761.5h7.8m-3.9-3.9v7.8M105.6 753.5h7.8m-3.9-3.9v7.8M145.6 721.5h7.8m-3.9-3.9v7.8M121.6 734.5h7.8m-3.9-3.9v7.8M121.6 742.5h7.8m-3.9-3.9v7.8M98.6 771.5h7.8m-3.9-3.9v7.8M114.6 736.5h7.8m-3.9-3.9v7.8M134.6 738.5h7.8m-3.9-3.9v7.8M138.6 727.5h7.8m-3.9-3.9v7.8M122.6 734.5h7.8m-3.9-3.9v7.8M128.6 759.5h7.8m-3.9-3.9v7.8" stroke="#4c72b0" stroke-width="0.62" fill="none"/>
<path d="M165.6 741.5h7.8m-3.9-3.9v7.8M209.6 743.5h7.8m-3.9-3.9v7.8M175.6 753.5h7.8m-3.9-3.9v7.8M173.6 745.5h7.8m-3.9-3.9v7.8M173.6 751.5h7.8m-3.9-3.9v7.8M174.6 749.5h7.8m-3.9-3.9v7.8M143.6 767.5h7.8m-3.9-3.9v7.8M199.6 733.5h7.8m-3.9-3.9v7.8M153.6 758.5h7.8m-3.9-3.9v7.8M156.6 755.5h7.8m-3.9-3.9v7.8M175.6 727.5h7.8m-3.9-3.9v7.8M168.6 742.5h7.8m-3.9-3.9v7.8M158.6 745.5h7.8m-3.9-3.9v7.8M195.6 721.5h7.8m-3.9-3.9v7.8M188.6 738.5h7.8m-3.9-3.9v7.8M159.6 748.5h7.8m-3.9-3.9v7.8M178.6 739.5h7.8m-3.9-3.9v7.8M171.6 741.5h7.8m-3.9-3.9v7.8M172.6 740.5h7.8m-3.9-3.9v7.8M163.6 725.5h7.8m-3.9-3.9v7.8M150.6 757.5h7.8m-3.9-3.9v7.8M174.6 746.5h7.8m-3.9-3.9v7.8M179.6 745.5h7.8m-3.9-3.9v7.8M180.6 718.5h7.8m-3.9-3.9v7.8M140.6 747.5h7.8m-3.9-3.9v7.8M176.6 728.5h7.8m-3.9-3.9v7.8M178.6 754.5h7.8m-3.9-3.9v7.8M147.6 742.5h7.8m-3.9-3.9v7.8M157.6 754.5h7.8m-3.9-3.9v7.8M177.6 730.5h7.8m-3.9-3.9v7.8M185.6 736.5h7.8m-3.9-3.9v7.8M152.6 761.5h7.8m-3.9-3.9v7.8M146.6 747.5h7.8m-3.9-3.9v7.8M179.6 759.5h7.8m-3.9-3.9v7.8M155.6 752.5h7.8m-3.9-3.9v7.8M149.6 751.5h7.8m-3.9-3.9v7.8M156.6 742.5h7.8m-3.9-3.9v7.8M182.6 712.5h7.8m-3.9-3.9v7.8M154.6 737.5h7.8m-3.9-3.9v7.8M181.6 732.5h7.8m-3.9-3.9v7.8M134.6 760.5h7.8m-3.9-3.9v7.8M170.6 734.5h7.8m-3.9-3.9v7.8M186.6 716.5h7.8m-3.9-3.9v7.8M176.6 736.5h7.8m-3.9-3.9v7.8M159.6 735.5h7.8m-3.9-3.9v7.8M181.6 748.5h7.8m-3.9-3.9v7.8M152.6 743.5h7.8m-3.9-3.9v7.8M154.6 748.5h7.8m-3.9-3.9v7.8M180.6 730.5h7.8m-3.9-3.9v7.8M162.6 763.5h7.8m-3.9-3.9v7.8M183.6 706.5h7.8m-3.9-3.9v7.8M174.6 744.5h7.8m-3.9-3.9v7.8M158.6 748.5h7.8m-3.9-3.9v7.8M178.6 750.5h7.8m-3.9-3.9v7.8M176.6 739.5h7.8m-3.9-3.9v7.8M156.6 743.5h7.8m-3.9-3.9v7.8M177.6 724.5h7.8m-3.9-3.9v7.8M184.6 746.5h7.8m-3.9-3.9v7.8M155.6 742.5h7.8m-3.9-3.9v7.8M177.6 729.5h7.8m-3.9-3.9v7.8M160.6 756.5h7.8m-3.9-3.9v7.8M182.6 765.5h7.8m-3.9-3.9v7.8M166.6 742.5h7.8m-3.9-3.9v7.8M178.6 731.5h7.8m-3.9-3.9v7.8M179.6 744.5h7.8m-3.9-3.9v7.8M169.6 740.5h7.8m-3.9-3.9v7.8M191.6 723.5h7.8m-3.9-3.9v7.8M160.6 772.5h7.8m-3.9-3.9v7.8" stroke="#dd8452" stroke-width="0.62" fill="none"/>
<path d="M156.6 700.5h7.8m-3.9-3.9v7.8M166.6 708.5h7.8m-3.9-3.9v7.8M158.6 668.5h7.8m-3.9-3.9v7.8M160.6 683.5h7.8m-3.9-3.9v7.8M154.6 712.5h7.8m-3.9-3.9v7.8M164.6 679.5h7.8m-3.9-3.9v7.8M167.6 700.5h7.8m-3.9-3.9v7.8M154.6 720.5h7.8m-3.9-3.9v7.8M150.6 721.5h7.8m-3.9-3.9v7.8M163.6 682.5h7.8m-3.9-3.9v7.8M142.6 736.5h7.8m-3.9-3.9v7.8M175.6 685.5h7.8m-3.9-3.9v7.8M161.6 706.5h7.8m-3.9-3.9v7.8M158.6 698.5h7.8m-3.9-3.9v7.8M165.6 684.5h7.8m-3.9-3.9v7.8M160.6 701.5h7.8m-3.9-3.9v7.8M176.6 676.5h7.8m-3.9-3.9v7.8M160.6 693.5h7.8m-3.9-3.9v7.8M170.6 684.5h7.8m-3.9-3.9v7.8M153.6 710.5h7.8m-3.9-3.9v7.8M160.6 708.5h7.8m-3.9-3.9v7.8M149.6 712.5h7.8m-3.9-3.9v7.8M173.6 682.5h7.8m-3.9-3.9v7.8M155.6 689.5h7.8m-3.9-3.9v7.8M176.6 695.5h7.8m-3.9-3.9v7.8M146.6 708.5h7.8m-3.9-3.9v7.8M174.6 706.5h7.8m-3.9-3.9v7.8M169.6 688.5h7.8m-3.9-3.9v7.8M164.6 688.5h7.8m-3.9-3.9v7.8M162.6 697.5h7.8m-3.9-3.9v7.8M173.6 674.5h7.8m-3.9-3.9v7.8M171.6 694.5h7.8m-3.9-3.9v7.8M193.6 676.5h7.8m-3.9-3.9v7.8M153.6 730.5h7.8m-3.9-3.9v7.8M178.6 710.5h7.8m-3.9-3.9v7.8M143.6 699.5h7.8m-3.9-3.9v7.8M149.6 690.5h7.8m-3.9-3.9v7.8M145.6 713.5h7.8m-3.9-3.9v7.8M217.6 663.5h7.8m-3.9-3.9v7.8M169.6 673.5h7.8m-3.9-3.9v7.8M172.6 687.5h7.8m-3.9-3.9v7.8M170.6 696.5h7.8m-3.9-3.9v7.8M159.6 686.5h7.8m-3.9-3.9v7.8M144.6 724.5h7.8m-3.9-3.9v7.8M147.6 703.5h7.8m-3.9-3.9v7.8M156.6 715.5h7.8m-3.9-3.9v7.8M157.6 712.5h7.8m-3.9-3.9v7.8M155.6 711.5h7.8m-3.9-3.9v7.8M159.6 697.5h7.8m-3.9-3.9v7.8M187.6 666.5h7.8m-3.9-3.9v7.8M138.6 709.5h7.8m-3.9-3.9v7.8M159.6 724.5h7.8m-3.9-3.9v7.8M168.6 691.5h7.8m-3.9-3.9v7.8M180.6 682.5h7.8m-3.9-3.9v7.8M167.6 704.5h7.8m-3.9-3.9v7.8M169.6 713.5h7.8m-3.9-3.9v7.8M181.6 676.5h7.8m-3.9-3.9v7.8M147.6 709.5h7.8m-3.9-3.9v7.8M154.6 702.5h7.8m-3.9-3.9v7.8M172.6 692.5h7.8m-3.9-3.9v7.8M162.6 682.5h7.8m-3.9-3.9v7.8M160.6 690.5h7.8m-3.9-3.9v7.8M190.6 661.5h7.8m-3.9-3.9v7.8M155.6 707.5h7.8m-3.9-3.9v7.8M174.6 672.5h7.8m-3.9-3.9v7.8M171.6 676.5h7.8m-3.9-3.9v7.8M173.6 674.5h7.8m-3.9-3.9v7.8M148.6 714.5h7.8m-3.9-3.9v7.8M164.6 728.5h7.8m-3.9-3.9v7.8M152.6 692.5h7.8m-3.9-3.9v7.8M140.6 717.5h7.8m-3.9-3.9v7.8M201.6 678.5h7.8m-3.9-3.9v7.8M156.6 699.5h7.8m-3.9-3.9v7.8M166.6 669.5h7.8m-3.9-3.9v7.8M151.6 711.5h7.8m-3.9-3.9v7.8M145.6 718.5h7.8m-3.9-3.9v7.8M175.6 681.5h7.8m-3.9-3.9v7.8M181.6 694.5h7.8m-3.9-3.9v7.8M135.6 681.5h7.8m-3.9-3.9v7.8M152.6 712.5h7.8m-3.9-3.9v7.8M148.6 715.5h7.8m-3.9-3.9v7.8M155.6 702.5h7.8m-3.9-3.9v7.8M177.6 675.5h7.8m-3.9-3.9v7.8M169.6 680.5h7.8m-3.9-3.9v7.8M178.6 679.5h7.8m-3.9-3.9v7.8M168.6 705.5h7.8m-3.9-3.9v7.8M165.6 706.5h7.8m-3.9-3.9v7.8M147.6 707.5h7.8m-3.9-3.9v7.8M157.6 700.5h7.8m-3.9-3.9v7.8M152.6 703.5h7.8m-3.9-3.9v7.8M170.6 654.5h7.8m-3.9-3.9v7.8M151.6 723.5h7.8m-3.9-3.9v7.8M168.6 695.5h7.8m-3.9-3.9v7.8M172.6 688.5h7.8m-3.9-3.9v7.8M153.6 726.5h7.8m-3.9-3.9v7.8M143.6 706.5h7.8m-3.9-3.9v7.8M150.6 706.5h7.8m-3.9-3.9v7.8M156.6 716.5h7.8m-3.9-3.9v7.8M186.6 670.5h7.8m-3.9-3.9v7.8M139.6 719.5h7.8m-3.9-3.9v7.8M184.6 694.5h7.8m-3.9-3.9v7.8M174.6 671.5h7.8m-3.9-3.9v7.8M170.6 689.5h7.8m-3.9-3.9v7.8M165.6 709.5h7.8m-3.9-3.9v7.8M152.6 705.5h7.8m-3.9-3.9v7.8M149.6 722.5h7.8m-3.9-3.9v7.8M158.6 718.5h7.8m-3.9-3.9v7.8M156.6 680.5h7.8m-3.9-3.9v7.8M196.6 670.5h7.8m-3.9-3.9v7.8M174.6 665.5h7.8m-3.9-3.9v7.8M156.6 707.5h7.8m-3.9-3.9v7.8M157.6 698.5h7.8m-3.9-3.9v7.8M171.6 686.5h7.8m-3.9-3.9v7.8M166.6 696.5h7.8m-3.9-3.9v7.8M131.6 711.5h7.8m-3.9-3.9v7.8M161.6 714.5h7.8m-3.9-3.9v7.8M179.6 677.5h7.8m-3.9-3.9v7.8M158.6 693.5h7.8m-3.9-3.9v7.8M183.6 704.5h7.8m-3.9-3.9v7.8M177.6 678.5h7.8m-3.9-3.9v7.8M163.6 673.5h7.8m-3.9-3.9v7.8M178.6 677.5h7.8m-3.9-3.9v7.8M182.6 691.5h7.8m-3.9-3.9v7.8" stroke="#55a868" stroke-width="0.62" fill="none"/>
<path d="M103.6 786L104.5 786.2L105.4 786.3L106.3 786.3L107.2 786.3L108.1 786.2L109 786.1L109.9 786L110.3 785.9L110.8 785.8L111.7 785.6L112.6 785.4L113.5 785.1L114 785L114.4 784.9L115.3 784.6L116.2 784.3L117.1 784L117.1 784L118 783.8L118.9 783.5L119.8 783.2L119.9 783.1L120.7 782.9L121.6 782.6L122.5 782.3L122.8 782.2L123.4 782L124.3 781.7L125.2 781.4L125.7 781.2L126.1 781.1L127 780.8L127.9 780.5L128.4 780.3L128.8 780.2L129.7 779.9L130.6 779.6L131.1 779.4L131.5 779.2L132.4 778.9L133.3 778.6L133.9 778.4L134.2 778.3L135.1 778.1L136 777.8L136.9 777.6L137.2 777.5L137.8 777.4L138.7 777.2L139.6 777L140.5 776.8L141.4 776.7L142.3 776.6L142.4 776.6L143.2 776.5L144.1 776.3L145 776.2L145.9 776.1L146.8 775.9L147.7 775.8L148.5 775.6L148.6 775.6L149.5 775.5L150.4 775.3L151.3 775.1L152.2 774.9L153.1 774.7L153.2 774.7L154 774.6L154.9 774.4L155.8 774.2L156.7 774.1L157.6 773.9L158.3 773.8L158.5 773.7L159.4 773.6L160.3 773.5L161.2 773.3L162.1 773.2L163 773L163.9 772.8L163.9 772.8L164.8 772.7L165.7 772.5L166.6 772.3L167.5 772L168 771.9L168.4 771.8L169.3 771.6L170.2 771.3L171.1 771L171.3 771L172 770.8L172.9 770.5L173.8 770.2L174.2 770L174.7 769.9L175.6 769.5L176.5 769.2L176.8 769.1L177.4 768.9L178.3 768.5L179 768.2L179.2 768.1L180.1 767.6L180.9 767.2L181 767.2L181.9 766.7L182.5 766.3L182.8 766.1L183.7 765.5L183.9 765.4L184.6 764.9L185.1 764.4L185.5 764.1L186.2 763.5L186.4 763.4L187.2 762.6L187.3 762.5L188.2 761.6L188.2 761.6L189 760.7L189.1 760.6L189.8 759.8L190 759.6L190.6 758.8L190.9 758.4L191.3 757.9L191.8 757.2L192 757L192.6 756L192.7 755.9L193.3 755.1L193.6 754.6L193.9 754.2L194.5 753.2L194.5 753.2L195.1 752.3L195.4 751.7L195.6 751.4L196.2 750.4L196.3 750.2L196.8 749.5L197.2 748.7L197.3 748.6L197.8 747.6L198.1 747.1L198.3 746.7L198.8 745.8L199 745.4L199.3 744.8L199.8 743.9L199.9 743.7L200.3 743L200.7 742L200.8 741.8L201.1 741.1L201.5 740.2L201.7 739.8L201.9 739.2L202.3 738.3L202.6 737.5L202.6 737.4L203 736.4L203.3 735.5L203.5 734.6L203.5 734.6L203.8 733.6L204 732.7L204.2 731.8L204.3 730.8L204.4 730.2L204.4 729.9L204.6 729L204.6 728L204.7 727.1L204.7 726.2L204.7 725.2L204.7 724.3L204.7 723.4L204.6 722.4L204.5 721.5L204.4 720.6L204.4 720.4L204.3 719.6L204.1 718.7L203.9 717.8L203.6 716.8L203.5 716.6L203.2 715.9L202.8 714.9L202.6 714.5L202.4 714L201.9 713.1L201.7 712.7L201.4 712.1L200.9 711.2L200.8 711.1L200.4 710.3L199.9 709.3L199.9 709.3L199.5 708.4L199.1 707.5L199 707.1L198.8 706.5L198.5 705.6L198.3 704.7L198.1 703.7L198.1 703.7L198 702.8L197.9 701.9L197.8 700.9L197.8 700L197.8 699.1L197.8 698.1L197.9 697.2L198 696.3L198.1 695.3L198.1 695.2L198.2 694.4L198.4 693.5L198.6 692.5L198.9 691.6L199 691.2L199.2 690.7L199.4 689.7L199.8 688.8L199.9 688.4L200.1 687.9L200.4 686.9L200.8 686L200.8 686L201.2 685.1L201.6 684.1L201.7 683.8L202 683.2L202.4 682.3L202.6 681.8L202.8 681.3L203.2 680.4L203.5 679.7L203.6 679.5L204 678.5L204.3 677.6L204.4 677.3L204.6 676.7L204.9 675.7L205.2 674.8L205.3 674.3L205.4 673.9L205.6 672.9L205.7 672L205.8 671.1L205.8 670.1L205.8 669.2L205.7 668.3L205.6 667.3L205.4 666.4L205.3 666L205.2 665.5L205 664.5L204.7 663.6L204.4 662.7L204.4 662.6L204.1 661.7L203.7 660.8L203.5 660.4L203.3 659.9L202.7 658.9L202.6 658.7L202.1 658L201.7 657.5L201.3 657.1L200.8 656.6L200.2 656.1L199.9 655.9L199 655.4L198.6 655.2L198.1 655L197.2 654.7L196.3 654.5L195.4 654.3L195.1 654.3L194.5 654.2L193.6 654.1L192.7 654L191.8 654L190.9 654L190 654L189.1 654L188.2 654L187.3 654L186.4 654L185.5 654L184.6 654L183.7 654.1L182.8 654.1L181.9 654.2L181.1 654.3L181 654.3L180.1 654.4L179.2 654.5L178.3 654.7L177.4 655L176.7 655.2L176.5 655.3L175.6 655.6L174.7 656L174.3 656.1L173.8 656.4L172.9 656.8L172.5 657.1L172 657.4L171.1 657.9L171 658L170.2 658.5L169.7 658.9L169.3 659.2L168.4 659.9L168.4 659.9L167.5 660.6L167.3 660.8L166.6 661.4L166.2 661.7L165.7 662.2L165.2 662.7L164.8 663.1L164.3 663.6L163.9 664L163.4 664.5L163 664.9L162.5 665.5L162.1 665.9L161.6 666.4L161.2 666.9L160.8 667.3L160.3 668L160 668.3L159.4 669.1L159.3 669.2L158.5 670.1L158.5 670.2L157.8 671.1L157.6 671.3L157 672L156.7 672.5L156.3 672.9L155.8 673.7L155.7 673.9L155 674.8L154.9 674.9L154.3 675.7L154 676.2L153.6 676.7L153.1 677.5L153 677.6L152.3 678.5L152.2 678.7L151.7 679.5L151.3 680L151 680.4L150.4 681.3L150.4 681.3L149.7 682.3L149.5 682.6L149 683.2L148.6 683.8L148.3 684.1L147.7 685L147.6 685.1L146.9 686L146.8 686.2L146.2 686.9L145.9 687.3L145.4 687.9L145 688.4L144.6 688.8L144.1 689.4L143.8 689.7L143.2 690.4L142.9 690.7L142.3 691.4L142 691.6L141.4 692.2L141 692.5L140.5 693.1L140 693.5L139.6 693.9L138.9 694.4L138.7 694.6L137.8 695.3L137.8 695.4L136.9 696.1L136.6 696.3L136 696.7L135.4 697.2L135.1 697.4L134.2 698.1L134.1 698.1L133.3 698.8L132.9 699.1L132.4 699.5L131.7 700L131.5 700.2L130.6 700.9L130.6 701L129.7 701.8L129.6 701.9L128.8 702.6L128.6 702.8L127.9 703.5L127.6 703.7L127 704.4L126.7 704.7L126.1 705.4L125.9 705.6L125.2 706.4L125.1 706.5L124.3 707.5L124.3 707.5L123.6 708.4L123.4 708.7L122.8 709.3L122.5 709.9L122.2 710.3L121.6 711.1L121.5 711.2L120.8 712.1L120.7 712.4L120.2 713.1L119.8 713.7L119.5 714L118.9 714.9L118.9 715L118.2 715.9L118 716.3L117.6 716.8L117.1 717.6L116.9 717.8L116.3 718.7L116.2 718.9L115.6 719.6L115.3 720.2L115 720.6L114.4 721.4L114.3 721.5L113.6 722.4L113.5 722.6L112.9 723.4L112.6 723.9L112.2 724.3L111.7 725.1L111.5 725.2L110.8 726.2L110.8 726.3L110.1 727.1L109.9 727.5L109.4 728L109 728.6L108.7 729L108.1 729.8L108 729.9L107.3 730.8L107.2 731L106.6 731.8L106.3 732.2L105.9 732.7L105.4 733.5L105.2 733.6L104.6 734.6L104.5 734.7L103.9 735.5L103.6 736L103.2 736.4L102.7 737.3L102.6 737.4L102 738.3L101.8 738.7L101.4 739.2L100.9 740.1L100.8 740.2L100.3 741.1L99.9 741.6L99.7 742L99.2 743L99 743.2L98.7 743.9L98.2 744.8L98.1 744.9L97.7 745.8L97.3 746.7L97.2 746.8L96.8 747.6L96.4 748.6L96.3 748.8L96.1 749.5L95.7 750.4L95.4 751.1L95.4 751.4L95 752.3L94.7 753.2L94.5 753.8L94.4 754.2L94.2 755.1L93.9 756L93.7 757L93.6 757.4L93.5 757.9L93.3 758.8L93.2 759.8L93 760.7L92.9 761.6L92.8 762.6L92.8 763.5L92.7 763.9L92.7 764.4L92.7 765.4L92.7 766.3L92.7 767.2L92.7 768.1L92.7 768.2L92.8 769.1L92.9 770L93.1 771L93.3 771.9L93.5 772.8L93.6 773.4L93.7 773.8L94 774.7L94.4 775.6L94.5 776.1L94.7 776.6L95.1 777.5L95.4 778.1L95.6 778.4L96.1 779.4L96.3 779.8L96.6 780.3L97.2 781.2L97.3 781.2L98 782.2L98.1 782.4L98.8 783.1L99 783.4L99.8 784L99.9 784.2L100.9 784.8L101.1 785L101.8 785.3L102.7 785.7L103.3 785.9ZM111.7 774L112.6 774.1L113.5 774.1L114.4 774L115.3 773.9L115.9 773.8L116.2 773.7L117.1 773.5L118 773.2L118.9 772.9L119.2 772.8L119.8 772.6L120.7 772.3L121.5 771.9L121.6 771.9L122.5 771.5L123.4 771.1L123.6 771L124.3 770.6L125.2 770.2L125.4 770L126.1 769.7L127 769.2L127.2 769.1L127.9 768.7L128.8 768.2L128.8 768.2L129.7 767.6L130.3 767.2L130.6 767L131.5 766.5L131.7 766.3L132.4 765.8L133.1 765.4L133.3 765.2L134.2 764.5L134.3 764.4L135.1 763.9L135.6 763.5L136 763.2L136.7 762.6L136.9 762.5L137.8 761.7L137.9 761.6L138.7 761L139 760.7L139.6 760.2L140.2 759.8L140.5 759.5L141.3 758.8L141.4 758.8L142.3 758L142.5 757.9L143.2 757.3L143.7 757L144.1 756.7L145 756.1L145.1 756L145.9 755.6L146.8 755.1L146.9 755.1L147.7 754.8L148.6 754.6L149.5 754.6L150.4 754.7L151.3 755L151.5 755.1L152.2 755.4L153.1 755.8L153.6 756L154 756.2L154.9 756.4L155.8 756.6L156.7 756.7L157.6 756.7L158.5 756.6L159.4 756.5L160.3 756.3L161.2 756.1L161.5 756L162.1 755.9L163 755.6L163.9 755.3L164.7 755.1L164.8 755.1L165.7 754.8L166.6 754.5L167.5 754.3L168.2 754.2L168.4 754.1L169.3 753.9L170.2 753.7L171.1 753.6L172 753.5L172.9 753.3L173.4 753.2L173.8 753.2L174.7 753L175.6 752.8L176.5 752.5L177.2 752.3L177.4 752.2L178.3 751.8L179.2 751.4L179.3 751.4L180.1 750.9L180.7 750.4L181 750.2L181.9 749.5L181.9 749.5L182.8 748.6L182.9 748.6L183.7 747.6L183.7 747.6L184.4 746.7L184.6 746.4L185 745.8L185.5 745L185.6 744.8L186.1 743.9L186.4 743.2L186.5 743L186.9 742L187.2 741.1L187.3 740.8L187.5 740.2L187.7 739.2L187.9 738.3L188 737.4L188.1 736.4L188.2 735.5L188.2 734.6L188.1 733.6L188 732.7L187.9 731.8L187.7 730.8L187.4 729.9L187.3 729.7L187 729L186.4 728L186.4 728L185.5 727.1L185.5 727.1L184.6 726.5L183.7 726.2L183.4 726.2L182.8 726.1L181.9 726.1L181.5 726.2L181 726.2L180.1 726.5L179.2 726.8L178.4 727.1L178.3 727.1L177.4 727.6L176.5 728L176.5 728L175.6 728.5L174.7 729L174.7 729L173.8 729.5L173 729.9L172.9 729.9L172 730.4L171.1 730.8L171 730.8L170.2 731.2L169.3 731.4L168.4 731.7L167.5 731.8L167.5 731.8L167.5 731.8L166.6 731.6L165.7 731L165.5 730.8L165.3 729.9L165.3 729L165.5 728L165.7 727.3L165.7 727.1L166.1 726.2L166.5 725.2L166.6 725L167 724.3L167.4 723.4L167.5 723.2L167.9 722.4L168.4 721.6L168.5 721.5L169 720.6L169.3 720.1L169.6 719.6L170.1 718.7L170.2 718.6L170.7 717.8L171.1 717.1L171.3 716.8L171.9 715.9L172 715.7L172.5 714.9L172.9 714.3L173.1 714L173.6 713.1L173.8 712.8L174.2 712.1L174.7 711.4L174.8 711.2L175.4 710.3L175.6 709.9L175.9 709.3L176.5 708.4L176.5 708.4L177 707.5L177.4 706.8L177.6 706.5L178.1 705.6L178.3 705.2L178.6 704.7L179.1 703.7L179.2 703.5L179.6 702.8L180 701.9L180.1 701.8L180.5 700.9L180.9 700L181 699.9L181.4 699.1L181.8 698.1L181.9 698L182.2 697.2L182.7 696.3L182.8 696L183.1 695.3L183.5 694.4L183.7 693.9L183.9 693.5L184.3 692.5L184.6 691.8L184.7 691.6L185 690.7L185.4 689.7L185.5 689.6L185.8 688.8L186.2 687.9L186.4 687.3L186.5 686.9L186.9 686L187.2 685.1L187.3 684.9L187.6 684.1L187.9 683.2L188.2 682.3L188.2 682.3L188.5 681.3L188.8 680.4L189 679.5L189.1 679.2L189.3 678.5L189.5 677.6L189.6 676.7L189.7 675.7L189.8 674.8L189.8 673.9L189.7 672.9L189.5 672L189.2 671.1L189.1 670.7L188.8 670.1L188.2 669.4L188 669.2L187.3 668.7L186.5 668.3L186.4 668.2L185.5 667.9L184.6 667.7L183.7 667.7L182.8 667.6L181.9 667.7L181 667.8L180.1 668L179.2 668.2L179 668.3L178.3 668.5L177.4 668.8L176.5 669.2L176.4 669.2L175.6 669.6L174.7 670L174.5 670.1L173.8 670.5L172.9 671.1L172.9 671.1L172 671.7L171.5 672L171.1 672.3L170.2 672.9L170.2 673L169.3 673.7L169.1 673.9L168.4 674.5L168.1 674.8L167.5 675.3L167.1 675.7L166.6 676.2L166.1 676.7L165.7 677.1L165.3 677.6L164.8 678.1L164.4 678.5L163.9 679.1L163.6 679.5L163 680.2L162.8 680.4L162.1 681.3L162 681.3L161.3 682.3L161.2 682.4L160.6 683.2L160.3 683.6L159.9 684.1L159.4 684.8L159.1 685.1L158.5 686L158.4 686L157.7 686.9L157.6 687.2L157 687.9L156.7 688.4L156.3 688.8L155.8 689.6L155.6 689.7L154.9 690.7L154.9 690.7L154.2 691.6L154 691.9L153.5 692.5L153.1 693.1L152.7 693.5L152.2 694.2L152 694.4L151.3 695.3L151.2 695.3L150.5 696.3L150.4 696.4L149.7 697.2L149.5 697.5L148.9 698.1L148.6 698.5L148.1 699.1L147.7 699.6L147.3 700L146.8 700.6L146.5 700.9L145.9 701.7L145.7 701.9L145 702.7L144.8 702.8L144.1 703.7L144 703.7L143.2 704.7L143.2 704.7L142.3 705.6L142.3 705.7L141.4 706.5L141.4 706.6L140.6 707.5L140.5 707.6L139.7 708.4L139.6 708.6L138.8 709.3L138.7 709.5L137.9 710.3L137.8 710.4L137 711.2L136.9 711.4L136.1 712.1L136 712.3L135.2 713.1L135.1 713.2L134.3 714L134.2 714.1L133.3 714.9L133.3 715L132.4 715.9L132.4 715.9L131.5 716.8L131.5 716.8L130.6 717.7L130.5 717.8L129.7 718.6L129.6 718.7L128.8 719.5L128.7 719.6L127.9 720.5L127.8 720.6L127 721.4L126.9 721.5L126.1 722.3L126 722.4L125.2 723.3L125.1 723.4L124.3 724.2L124.2 724.3L123.4 725.2L123.4 725.2L122.5 726.2L122.5 726.2L121.7 727.1L121.6 727.2L120.8 728L120.7 728.2L120 729L119.8 729.2L119.2 729.9L118.9 730.2L118.4 730.8L118 731.3L117.6 731.8L117.1 732.4L116.8 732.7L116.2 733.4L116 733.6L115.3 734.5L115.2 734.6L114.5 735.5L114.4 735.7L113.8 736.4L113.5 736.8L113.1 737.4L112.6 738L112.4 738.3L111.7 739.2L111.7 739.3L111 740.2L110.8 740.6L110.4 741.1L109.9 742L109.8 742L109.2 743L109 743.4L108.7 743.9L108.2 744.8L108.1 745.1L107.7 745.8L107.2 746.7L107.2 746.9L106.8 747.6L106.4 748.6L106.3 748.9L106 749.5L105.7 750.4L105.4 751.4L105.4 751.5L105.1 752.3L104.9 753.2L104.7 754.2L104.5 755.1L104.5 755.6L104.4 756L104.3 757L104.2 757.9L104.2 758.8L104.2 759.8L104.2 760.7L104.2 761.6L104.3 762.6L104.4 763.5L104.5 763.6L104.6 764.4L104.8 765.4L105 766.3L105.3 767.2L105.4 767.5L105.6 768.2L106 769.1L106.3 769.7L106.4 770L107 771L107.2 771.1L107.8 771.9L108.1 772.2L108.9 772.8L109 772.9L109.9 773.4L110.8 773.7L110.8 773.8ZM112.6 768.3L113.5 768.8L114.4 769L115.3 769.1L116.2 769.1L117.1 769L118 768.8L118.9 768.6L119.8 768.3L120.2 768.2L120.7 768L121.6 767.6L122.4 767.2L122.5 767.2L123.4 766.7L124.2 766.3L124.3 766.2L125.2 765.7L125.7 765.4L126.1 765.2L127 764.6L127.2 764.4L127.9 764L128.5 763.5L128.8 763.3L129.7 762.6L129.7 762.6L130.6 761.9L130.9 761.6L131.5 761.2L132 760.7L132.4 760.4L133 759.8L133.3 759.5L134 758.8L134.2 758.7L135 757.9L135.1 757.8L135.9 757L136 756.9L136.8 756L136.9 755.9L137.6 755.1L137.8 754.9L138.4 754.2L138.7 753.9L139.2 753.2L139.6 752.8L140 752.3L140.5 751.7L140.7 751.4L141.4 750.5L141.5 750.4L142.2 749.5L142.3 749.3L142.9 748.6L143.2 748.1L143.5 747.6L144.1 746.8L144.2 746.7L144.8 745.8L145 745.5L145.4 744.8L145.9 744.1L146 743.9L146.6 743L146.8 742.6L147.1 742L147.6 741.1L147.7 741L148.2 740.2L148.6 739.4L148.7 739.2L149.2 738.3L149.5 737.8L149.7 737.4L150.3 736.4L150.4 736.2L150.8 735.5L151.3 734.7L151.3 734.6L151.9 733.6L152.2 733.2L152.5 732.7L153.1 731.8L153.1 731.8L153.8 730.8L154 730.5L154.4 729.9L154.9 729.3L155.2 729L155.8 728.2L155.9 728L156.6 727.1L156.7 727L157.4 726.2L157.6 726L158.2 725.2L158.5 724.9L159 724.3L159.4 723.9L159.8 723.4L160.3 722.8L160.6 722.4L161.2 721.7L161.4 721.5L162.1 720.6L162.1 720.6L162.9 719.6L163 719.5L163.6 718.7L163.9 718.4L164.4 717.8L164.8 717.2L165.1 716.8L165.7 716L165.8 715.9L166.4 714.9L166.6 714.8L167.1 714L167.5 713.5L167.8 713.1L168.4 712.2L168.4 712.1L169 711.2L169.3 710.8L169.6 710.3L170.2 709.4L170.2 709.3L170.8 708.4L171.1 707.9L171.4 707.5L171.9 706.5L172 706.4L172.5 705.6L172.9 704.9L173 704.7L173.5 703.7L173.8 703.2L174 702.8L174.5 701.9L174.7 701.6L175 700.9L175.5 700L175.6 699.8L176 699.1L176.4 698.1L176.5 698.1L176.9 697.2L177.4 696.3L177.4 696.2L177.8 695.3L178.3 694.4L178.3 694.3L178.7 693.5L179.1 692.5L179.2 692.4L179.6 691.6L180 690.7L180.1 690.4L180.4 689.7L180.8 688.8L181 688.3L181.1 687.9L181.5 686.9L181.9 686L181.9 685.9L182.2 685.1L182.5 684.1L182.8 683.2L182.8 683L183 682.3L183.2 681.3L183.3 680.4L183.4 679.5L183.3 678.5L183.2 677.6L182.9 676.7L182.8 676.5L182.2 675.7L181.9 675.5L181 675L180.1 674.8L179.7 674.8L179.2 674.8L179 674.8L178.3 674.9L177.4 675.1L176.5 675.4L175.6 675.7L175.6 675.7L174.7 676.2L173.8 676.7L173.8 676.7L172.9 677.2L172.4 677.6L172 677.9L171.1 678.5L171.1 678.6L170.2 679.3L170 679.5L169.3 680.1L169 680.4L168.4 681L168 681.3L167.5 681.9L167.1 682.3L166.6 682.8L166.2 683.2L165.7 683.8L165.4 684.1L164.8 684.8L164.6 685.1L163.9 685.9L163.8 686L163 686.9L163 686.9L162.2 687.9L162.1 688L161.4 688.8L161.2 689.1L160.7 689.7L160.3 690.2L159.9 690.7L159.4 691.3L159.1 691.6L158.5 692.4L158.4 692.5L157.6 693.5L157.6 693.5L156.8 694.4L156.7 694.6L156 695.3L155.8 695.7L155.3 696.3L154.9 696.7L154.5 697.2L154 697.8L153.7 698.1L153.1 698.8L152.9 699.1L152.2 699.9L152.1 700L151.3 700.9L151.3 701L150.5 701.9L150.4 702L149.7 702.8L149.5 703.1L148.9 703.7L148.6 704.2L148.1 704.7L147.7 705.2L147.3 705.6L146.8 706.3L146.6 706.5L145.9 707.4L145.8 707.5L145 708.4L145 708.5L144.2 709.3L144.1 709.6L143.5 710.3L143.2 710.6L142.7 711.2L142.3 711.7L141.9 712.1L141.4 712.8L141.1 713.1L140.5 713.8L140.3 714L139.6 714.8L139.5 714.9L138.7 715.9L138.6 715.9L137.8 716.8L137.8 716.8L136.9 717.8L136.9 717.8L136 718.7L136 718.7L135.1 719.6L135.1 719.6L134.2 720.5L134.1 720.6L133.3 721.4L133.2 721.5L132.4 722.3L132.2 722.4L131.5 723.1L131.2 723.4L130.6 724L130.2 724.3L129.7 724.8L129.2 725.2L128.8 725.7L128.2 726.2L127.9 726.5L127.3 727.1L127 727.4L126.3 728L126.1 728.3L125.4 729L125.2 729.2L124.5 729.9L124.3 730.1L123.5 730.8L123.4 731L122.7 731.8L122.5 732L121.8 732.7L121.6 732.9L120.9 733.6L120.7 733.9L120.1 734.6L119.8 735L119.3 735.5L118.9 736L118.5 736.4L118 737.1L117.8 737.4L117.1 738.3L117 738.3L116.3 739.2L116.2 739.4L115.6 740.2L115.3 740.7L115 741.1L114.4 742L114.3 742L113.7 743L113.5 743.4L113.1 743.9L112.6 744.8L112.6 744.9L112.1 745.8L111.7 746.6L111.6 746.7L111.2 747.6L110.8 748.6L110.8 748.6L110.4 749.5L110.1 750.4L109.9 751.1L109.8 751.4L109.5 752.3L109.3 753.2L109.1 754.2L109 755L108.9 755.1L108.8 756L108.7 757L108.7 757.9L108.7 758.8L108.7 759.8L108.8 760.7L108.9 761.6L109 762L109.1 762.6L109.3 763.5L109.6 764.4L109.9 765.1L110 765.4L110.5 766.3L110.8 766.7L111.2 767.2L111.7 767.7L112.3 768.2ZM117.1 762.6L118 762.8L118.9 762.9L119.8 762.8L120.7 762.6L120.8 762.6L121.6 762.3L122.5 761.9L123.1 761.6L123.4 761.5L124.3 761L124.7 760.7L125.2 760.4L126.1 759.8L126.1 759.8L127 759.1L127.3 758.8L127.9 758.4L128.4 757.9L128.8 757.6L129.4 757L129.7 756.8L130.4 756L130.6 755.9L131.3 755.1L131.5 754.9L132.2 754.2L132.4 753.9L133 753.2L133.3 752.9L133.8 752.3L134.2 751.8L134.5 751.4L135.1 750.7L135.3 750.4L135.9 749.5L136 749.5L136.6 748.6L136.9 748.2L137.3 747.6L137.8 746.8L137.9 746.7L138.5 745.8L138.7 745.4L139 744.8L139.6 743.9L139.6 743.9L140.1 743L140.5 742.3L140.6 742L141.1 741.1L141.4 740.5L141.6 740.2L142 739.2L142.3 738.6L142.4 738.3L142.9 737.4L143.2 736.6L143.3 736.4L143.7 735.5L144.1 734.6L144.1 734.5L144.4 733.6L144.8 732.7L145 732.4L145.2 731.8L145.7 730.8L145.9 730.4L146.1 729.9L146.6 729L146.8 728.5L147.1 728L147.6 727.1L147.7 727L148.2 726.2L148.6 725.6L148.8 725.2L149.5 724.4L149.6 724.3L150.4 723.4L150.4 723.4L151.2 722.4L151.3 722.4L152.2 721.5L152.2 721.5L153.1 720.6L153.1 720.6L154 719.8L154.1 719.6L154.9 718.9L155.1 718.7L155.8 718.1L156.1 717.8L156.7 717.2L157.1 716.8L157.6 716.3L158 715.9L158.5 715.3L158.8 714.9L159.4 714.3L159.7 714L160.3 713.3L160.4 713.1L161.2 712.1L161.2 712.1L161.9 711.2L162.1 710.9L162.5 710.3L163 709.6L163.2 709.3L163.7 708.4L163.9 708.2L164.3 707.5L164.8 706.6L164.8 706.5L165.3 705.6L165.7 704.9L165.8 704.7L166.2 703.7L166.6 703L166.7 702.8L167 701.9L167.4 700.9L167.5 700.7L167.7 700L168 699.1L168.3 698.1L168.4 697.8L168.5 697.2L168.6 696.3L168.6 695.3L168.4 694.7L168 694.4L167.5 694.3L167 694.4L166.6 694.5L165.7 694.9L165 695.3L164.8 695.5L163.9 696.1L163.7 696.3L163 696.8L162.5 697.2L162.1 697.5L161.3 698.1L161.2 698.3L160.3 699L160.2 699.1L159.4 699.9L159.2 700L158.5 700.7L158.3 700.9L157.6 701.6L157.3 701.9L156.7 702.5L156.4 702.8L155.8 703.5L155.5 703.7L154.9 704.5L154.7 704.7L154 705.5L153.9 705.6L153.1 706.5L153.1 706.5L152.3 707.5L152.2 707.6L151.6 708.4L151.3 708.8L150.8 709.3L150.4 710L150.1 710.3L149.5 711.2L149.4 711.2L148.8 712.1L148.6 712.4L148.1 713.1L147.7 713.7L147.4 714L146.8 714.9L146.8 715L146.1 715.9L145.9 716.2L145.4 716.8L145 717.4L144.7 717.8L144.1 718.5L144 718.7L143.2 719.6L143.2 719.6L142.3 720.6L142.3 720.6L141.4 721.5L141.4 721.5L140.5 722.3L140.4 722.4L139.6 723.1L139.3 723.4L138.7 723.9L138.2 724.3L137.8 724.6L137 725.2L136.9 725.4L136 726.1L135.9 726.2L135.1 726.8L134.7 727.1L134.2 727.5L133.5 728L133.3 728.2L132.4 729L132.4 729L131.5 729.7L131.2 729.9L130.6 730.5L130.1 730.8L129.7 731.2L129.1 731.8L128.8 732L128.1 732.7L127.9 732.9L127.1 733.6L127 733.7L126.1 734.6L126.1 734.6L125.2 735.5L125.2 735.5L124.3 736.4L124.3 736.5L123.5 737.4L123.4 737.5L122.6 738.3L122.5 738.5L121.9 739.2L121.6 739.6L121.1 740.2L120.7 740.7L120.4 741.1L119.8 741.9L119.7 742L119 743L118.9 743.2L118.4 743.9L118 744.6L117.8 744.8L117.3 745.8L117.1 746.2L116.8 746.7L116.3 747.6L116.2 748L115.9 748.6L115.5 749.5L115.3 750.2L115.2 750.4L114.9 751.4L114.6 752.3L114.4 753.2L114.4 753.4L114.2 754.2L114.1 755.1L114 756L114 757L114.1 757.9L114.3 758.8L114.4 759.2L114.5 759.8L114.9 760.7L115.3 761.2L115.6 761.6L116.2 762.1L116.9 762.6Z" stroke="#333333" stroke-width="1.8" fill="none" stroke-linejoin="round"/>
</g>
<g clip-path="url(#c31)">
<rect x="274.67" y="623" width="180" height="185.2" fill="#eaeaf2"/>
<path d="M333.5 623v185.2M403.5 623v185.2M275.67 801.5h179M275.67 767.5h179M275.67 733.5h179M275.67 699.5h179M275.67 665.5h179M275.67 630.5h179" stroke="#fff" stroke-width="1.2" stroke-linecap="round" fill="none"/>
<path d="M399.6 741.5h7.8m-3.9-3.9v7.8M362.6 768.5h7.8m-3.9-3.9v7.8M415.6 740.5h7.8m-3.9-3.9v7.8M380.6 742.5h7.8m-3.9-3.9v7.8M387.6 749.5h7.8m-3.9-3.9v7.8M367.6 754.5h7.8m-3.9-3.9v7.8M378.6 720.5h7.8m-3.9-3.9v7.8M347.6 759.5h7.8m-3.9-3.9v7.8M383.6 736.5h7.8m-3.9-3.9v7.8M378.6 749.5h7.8m-3.9-3.9v7.8M390.6 720.5h7.8m-3.9-3.9v7.8M408.6 717.5h7.8m-3.9-3.9v7.8M355.6 745.5h7.8m-3.9-3.9v7.8M376.6 760.5h7.8m-3.9-3.9v7.8M364.6 770.5h7.8m-3.9-3.9v7.8M385.6 747.5h7.8m-3.9-3.9v7.8M380.6 714.5h7.8m-3.9-3.9v7.8M340.6 756.5h7.8m-3.9-3.9v7.8M403.6 712.5h7.8m-3.9-3.9v7.8M374.6 739.5h7.8m-3.9-3.9v7.8M371.6 771.5h7.8m-3.9-3.9v7.8M380.6 732.5h7.8m-3.9-3.9v7.8M361.6 759.5h7.8m-3.9-3.9v7.8M387.6 708.5h7.8m-3.9-3.9v7.8M404.6 723.5h7.8m-3.9-3.9v7.8M380.6 754.5h7.8m-3.9-3.9v7.8M407.6 730.5h7.8m-3.9-3.9v7.8M365.6 728.5h7.8m-3.9-3.9v7.8M419.6 726.5h7.8m-3.9-3.9v7.8M378.6 748.5h7.8m-3.9-3.9v7.8M355.6 740.5h7.8m-3.9-3.9v7.8M383.6 728.5h7.8m-3.9-3.9v7.8M383.6 739.5h7.8m-3.9-3.9v7.8M368.6 736.5h7.8m-3.9-3.9v7.8M360.6 746.5h7.8m-3.9-3.9v7.8M374.6 742.5h7.8m-3.9-3.9v7.8M390.6 767.5h7.8m-3.9-3.9v7.8M393.6 710.5h7.8m-3.9-3.9v7.8M382.6 711.5h7.8m-3.9-3.9v7.8M376.6 756.5h7.8m-3.9-3.9v7.8M369.6 746.5h7.8m-3.9-3.9v7.8M379.6 762.5h7.8m-3.9-3.9v7.8M357.6 758.5h7.8m-3.9-3.9v7.8M362.6 750.5h7.8m-3.9-3.9v7.8M376.6 743.5h7.8m-3.9-3.9v7.8M367.6 750.5h7.8m-3.9-3.9v7.8M371.6 754.5h7.8m-3.9-3.9v7.8M386.6 738.5h7.8m-3.9-3.9v7.8M405.6 735.5h7.8m-3.9-3.9v7.8M362.6 743.5h7.8m-3.9-3.9v7.8M357.6 765.5h7.8m-3.9-3.9v7.8M414.6 719.5h7.8m-3.9-3.9v7.8M372.6 758.5h7.8m-3.9-3.9v7.8M383.6 724.5h7.8m-3.9-3.9v7.8M369.6 758.5h7.8m-3.9-3.9v7.8M379.6 729.5h7.8m-3.9-3.9v7.8M360.6 744.5h7.8m-3.9-3.9v7.8M380.6 742.5h7.8m-3.9-3.9v7.8M385.6 706.5h7.8m-3.9-3.9v7.8M354.6 750.5h7.8m-3.9-3.9v7.8M351.6 757.5h7.8m-3.9-3.9v7.8M383.6 759.5h7.8m-3.9-3.9v7.8M397.6 755.5h7.8m-3.9-3.9v7.8M376.6 759.5h7.8m-3.9-3.9v7.8M392.6 724.5h7.8m-3.9-3.9v7.8M365.6 752.5h7.8m-3.9-3.9v7.8M357.6 756.5h7.8m-3.9-3.9v7.8M412.6 702.5h7.8m-3.9-3.9v7.8M399.6 735.5h7.8m-3.9-3.9v7.8M371.6 722.5h7.8m-3.9-3.9v7.8M378.6 769.5h7.8m-3.9-3.9v7.8M385.6 753.5h7.8m-3.9-3.9v7.8M397.6 734.5h7.8m-3.9-3.9v7.8M401.6 738.5h7.8m-3.9-3.9v7.8M386.6 740.5h7.8m-3.9-3.9v7.8M360.6 764.5h7.8m-3.9-3.9v7.8M360.6 745.5h7.8m-3.9-3.9v7.8M372.6 764.5h7.8m-3.9-3.9v7.8M354.6 736.5h7.8m-3.9-3.9v7.8M379.6 741.5h7.8m-3.9-3.9v7.8M364.6 751.5h7.8m-3.9-3.9v7.8M360.6 761.5h7.8m-3.9-3.9v7.8M382.6 730.5h7.8m-3.9-3.9v7.8M389.6 757.5h7.8m-3.9-3.9v7.8M348.6 760.5h7.8m-3.9-3.9v7.8M350.6 766.5h7.8m-3.9-3.9v7.8M355.6 763.5h7.8m-3.9-3.9v7.8M379.6 732.5h7.8m-3.9-3.9v7.8M354.6 751.5h7.8m-3.9-3.9v7.8M335.6 765.5h7.8m-3.9-3.9v7.8M350.6 755.5h7.8m-3.9-3.9v7.8M410.6 718.5h7.8m-3.9-3.9v7.8M368.6 765.5h7.8m-3.9-3.9v7.8M371.6 743.5h7.8m-3.9-3.9v7.8M351.6 757.5h7.8m-3.9-3.9v7.8M369.6 754.5h7.8m-3.9-3.9v7.8M343.6 748.5h7.8m-3.9-3.9v7.8M355.6 762.5h7.8m-3.9-3.9v7.8M365.6 715.5h7.8m-3.9-3.9v7.8M371.6 742.5h7.8m-3.9-3.9v7.8M368.6 741.5h7.8m-3.9-3.9v7.8M358.6 748.5h7.8m-3.9-3.9v7.8M394.6 724.5h7.8m-3.9-3.9v7.8M386.6 730.5h7.8m-3.9-3.9v7.8M382.6 754.5h7.8m-3.9-3.9v7.8M379.6 740.5h7.8m-3.9-3.9v7.8M372.6 737.5h7.8m-3.9-3.9v7.8M396.6 730.5h7.8m-3.9-3.9v7.8M376.6 726.5h7.8m-3.9-3.9v7.8M380.6 742.5h7.8m-3.9-3.9v7.8M358.6 736.5h7.8m-3.9-3.9v7.8M360.6 755.5h7.8m-3.9-3.9v7.8M411.6 749.5h7.8m-3.9-3.9v7.8M375.6 777.5h7.8m-3.9-3.9v7.8M389.6 742.5h7.8m-3.9-3.9v7.8M380.6 718.5h7.8m-3.9-3.9v7.8M369.6 773.5h7.8m-3.9-3.9v7.8M410.6 731.5h7.8m-3.9-3.9v7.8M378.6 731.5h7.8m-3.9-3.9v7.8M360.6 737.5h7.8m-3.9-3.9v7.8M353.6 748.5h7.8m-3.9-3.9v7.8M400.6 733.5h7.8m-3.9-3.9v7.8M390.6 739.5h7.8m-3.9-3.9v7.8M367.6 743.5h7.8m-3.9-3.9v7.8M371.6 733.5h7.8m-3.9-3.9v7.8M369.6 752.5h7.8m-3.9-3.9v7.8M372.6 742.5h7.8m-3.9-3.9v7.8M368.6 737.5h7.8m-3.9-3.9v7.8M387.6 736.5h7.8m-3.9-3.9v7.8M394.6 746.5h7.8m-3.9-3.9v7.8M372.6 748.5h7.8m-3.9-3.9v7.8M389.6 743.5h7.8m-3.9-3.9v7.8M353.6 754.5h7.8m-3.9-3.9v7.8M375.6 752.5h7.8m-3.9-3.9v7.8M372.6 759.5h7.8m-3.9-3.9v7.8M379.6 753.5h7.8m-3.9-3.9v7.8M364.6 725.5h7.8m-3.9-3.9v7.8M358.6 747.5h7.8m-3.9-3.9v7.8M367.6 751.5h7.8m-3.9-3.9v7.8M375.6 754.5h7.8m-3.9-3.9v7.8M358.6 761.5h7.8m-3.9-3.9v7.8M374.6 753.5h7.8m-3.9-3.9v7.8M365.6 721.5h7.8m-3.9-3.9v7.8M386.6 734.5h7.8m-3.9-3.9v7.8M382.6 742.5h7.8m-3.9-3.9v7.8M346.6 771.5h7.8m-3.9-3.9v7.8M375.6 736.5h7.8m-3.9-3.9v7.8M385.6 738.5h7.8m-3.9-3.9v7.8M382.6 727.5h7.8m-3.9-3.9v7.8M392.6 734.5h7.8m-3.9-3.9v7.8M353.6 759.5h7.8m-3.9-3.9v7.8" stroke="#4c72b0" stroke-width="0.62" fill="none"/>
<path d="M367.6 741.5h7.8m-3.9-3.9v7.8M368.6 743.5h7.8m-3.9-3.9v7.8M371.6 753.5h7.8m-3.9-3.9v7.8M371.6 745.5h7.8m-3.9-3.9v7.8M389.6 751.5h7.8m-3.9-3.9v7.8M400.6 749.5h7.8m-3.9-3.9v7.8M350.6 767.5h7.8m-3.9-3.9v7.8M396.6 733.5h7.8m-3.9-3.9v7.8M354.6 758.5h7.8m-3.9-3.9v7.8M358.6 755.5h7.8m-3.9-3.9v7.8M382.6 727.5h7.8m-3.9-3.9v7.8M372.6 742.5h7.8m-3.9-3.9v7.8M358.6 745.5h7.8m-3.9-3.9v7.8M414.6 721.5h7.8m-3.9-3.9v7.8M394.6 738.5h7.8m-3.9-3.9v7.8M383.6 748.5h7.8m-3.9-3.9v7.8M392.6 739.5h7.8m-3.9-3.9v7.8M369.6 741.5h7.8m-3.9-3.9v7.8M397.6 740.5h7.8m-3.9-3.9v7.8M386.6 725.5h7.8m-3.9-3.9v7.8M375.6 757.5h7.8m-3.9-3.9v7.8M403.6 746.5h7.8m-3.9-3.9v7.8M362.6 745.5h7.8m-3.9-3.9v7.8M393.6 718.5h7.8m-3.9-3.9v7.8M361.6 747.5h7.8m-3.9-3.9v7.8M387.6 728.5h7.8m-3.9-3.9v7.8M383.6 754.5h7.8m-3.9-3.9v7.8M357.6 742.5h7.8m-3.9-3.9v7.8M364.6 754.5h7.8m-3.9-3.9v7.8M399.6 730.5h7.8m-3.9-3.9v7.8M390.6 736.5h7.8m-3.9-3.9v7.8M346.6 761.5h7.8m-3.9-3.9v7.8M364.6 747.5h7.8m-3.9-3.9v7.8M379.6 759.5h7.8m-3.9-3.9v7.8M380.6 752.5h7.8m-3.9-3.9v7.8M374.6 751.5h7.8m-3.9-3.9v7.8M387.6 742.5h7.8m-3.9-3.9v7.8M386.6 712.5h7.8m-3.9-3.9v7.8M372.6 737.5h7.8m-3.9-3.9v7.8M385.6 732.5h7.8m-3.9-3.9v7.8M353.6 760.5h7.8m-3.9-3.9v7.8M389.6 734.5h7.8m-3.9-3.9v7.8M393.6 716.5h7.8m-3.9-3.9v7.8M383.6 736.5h7.8m-3.9-3.9v7.8M360.6 735.5h7.8m-3.9-3.9v7.8M376.6 748.5h7.8m-3.9-3.9v7.8M362.6 743.5h7.8m-3.9-3.9v7.8M365.6 748.5h7.8m-3.9-3.9v7.8M401.6 730.5h7.8m-3.9-3.9v7.8M376.6 763.5h7.8m-3.9-3.9v7.8M405.6 706.5h7.8m-3.9-3.9v7.8M355.6 744.5h7.8m-3.9-3.9v7.8M365.6 748.5h7.8m-3.9-3.9v7.8M369.6 750.5h7.8m-3.9-3.9v7.8M390.6 739.5h7.8m-3.9-3.9v7.8M374.6 743.5h7.8m-3.9-3.9v7.8M378.6 724.5h7.8m-3.9-3.9v7.8M368.6 746.5h7.8m-3.9-3.9v7.8M367.6 742.5h7.8m-3.9-3.9v7.8M378.6 729.5h7.8m-3.9-3.9v7.8M360.6 756.5h7.8m-3.9-3.9v7.8M375.6 765.5h7.8m-3.9-3.9v7.8M386.6 742.5h7.8m-3.9-3.9v7.8M379.6 731.5h7.8m-3.9-3.9v7.8M394.6 744.5h7.8m-3.9-3.9v7.8M380.6 740.5h7.8m-3.9-3.9v7.8M410.6 723.5h7.8m-3.9-3.9v7.8M351.6 772.5h7.8m-3.9-3.9v7.8" stroke="#dd8452" stroke-width="0.62" fill="none"/>
<path d="M312.6 700.5h7.8m-3.9-3.9v7.8M326.6 708.5h7.8m-3.9-3.9v7.8M346.6 668.5h7.8m-3.9-3.9v7.8M317.6 683.5h7.8m-3.9-3.9v7.8M321.6 712.5h7.8m-3.9-3.9v7.8M344.6 679.5h7.8m-3.9-3.9v7.8M322.6 700.5h7.8m-3.9-3.9v7.8M322.6 720.5h7.8m-3.9-3.9v7.8M314.6 721.5h7.8m-3.9-3.9v7.8M336.6 682.5h7.8m-3.9-3.9v7.8M311.6 736.5h7.8m-3.9-3.9v7.8M346.6 685.5h7.8m-3.9-3.9v7.8M323.6 706.5h7.8m-3.9-3.9v7.8M322.6 698.5h7.8m-3.9-3.9v7.8M339.6 684.5h7.8m-3.9-3.9v7.8M308.6 701.5h7.8m-3.9-3.9v7.8M367.6 676.5h7.8m-3.9-3.9v7.8M330.6 693.5h7.8m-3.9-3.9v7.8M328.6 684.5h7.8m-3.9-3.9v7.8M315.6 710.5h7.8m-3.9-3.9v7.8M318.6 708.5h7.8m-3.9-3.9v7.8M318.6 712.5h7.8m-3.9-3.9v7.8M340.6 682.5h7.8m-3.9-3.9v7.8M323.6 689.5h7.8m-3.9-3.9v7.8M350.6 695.5h7.8m-3.9-3.9v7.8M319.6 708.5h7.8m-3.9-3.9v7.8M329.6 706.5h7.8m-3.9-3.9v7.8M354.6 688.5h7.8m-3.9-3.9v7.8M351.6 688.5h7.8m-3.9-3.9v7.8M319.6 697.5h7.8m-3.9-3.9v7.8M344.6 674.5h7.8m-3.9-3.9v7.8M348.6 694.5h7.8m-3.9-3.9v7.8M339.6 676.5h7.8m-3.9-3.9v7.8M321.6 730.5h7.8m-3.9-3.9v7.8M335.6 710.5h7.8m-3.9-3.9v7.8M303.6 699.5h7.8m-3.9-3.9v7.8M362.6 690.5h7.8m-3.9-3.9v7.8M315.6 713.5h7.8m-3.9-3.9v7.8M357.6 663.5h7.8m-3.9-3.9v7.8M343.6 673.5h7.8m-3.9-3.9v7.8M326.6 687.5h7.8m-3.9-3.9v7.8M319.6 696.5h7.8m-3.9-3.9v7.8M333.6 686.5h7.8m-3.9-3.9v7.8M312.6 724.5h7.8m-3.9-3.9v7.8M329.6 703.5h7.8m-3.9-3.9v7.8M315.6 715.5h7.8m-3.9-3.9v7.8M310.6 712.5h7.8m-3.9-3.9v7.8M310.6 711.5h7.8m-3.9-3.9v7.8M333.6 697.5h7.8m-3.9-3.9v7.8M342.6 666.5h7.8m-3.9-3.9v7.8M307.6 709.5h7.8m-3.9-3.9v7.8M318.6 724.5h7.8m-3.9-3.9v7.8M340.6 691.5h7.8m-3.9-3.9v7.8M344.6 682.5h7.8m-3.9-3.9v7.8M326.6 704.5h7.8m-3.9-3.9v7.8M328.6 713.5h7.8m-3.9-3.9v7.8M344.6 676.5h7.8m-3.9-3.9v7.8M322.6 709.5h7.8m-3.9-3.9v7.8M325.6 702.5h7.8m-3.9-3.9v7.8M329.6 692.5h7.8m-3.9-3.9v7.8M342.6 682.5h7.8m-3.9-3.9v7.8M332.6 690.5h7.8m-3.9-3.9v7.8M335.6 661.5h7.8m-3.9-3.9v7.8M340.6 707.5h7.8m-3.9-3.9v7.8M339.6 672.5h7.8m-3.9-3.9v7.8M330.6 676.5h7.8m-3.9-3.9v7.8M342.6 674.5h7.8m-3.9-3.9v7.8M332.6 714.5h7.8m-3.9-3.9v7.8M314.6 728.5h7.8m-3.9-3.9v7.8M328.6 692.5h7.8m-3.9-3.9v7.8M314.6 717.5h7.8m-3.9-3.9v7.8M360.6 678.5h7.8m-3.9-3.9v7.8M326.6 699.5h7.8m-3.9-3.9v7.8M336.6 669.5h7.8m-3.9-3.9v7.8M319.6 711.5h7.8m-3.9-3.9v7.8M321.6 718.5h7.8m-3.9-3.9v7.8M340.6 681.5h7.8m-3.9-3.9v7.8M337.6 694.5h7.8m-3.9-3.9v7.8M333.6 681.5h7.8m-3.9-3.9v7.8M312.6 712.5h7.8m-3.9-3.9v7.8M317.6 715.5h7.8m-3.9-3.9v7.8M317.6 702.5h7.8m-3.9-3.9v7.8M347.6 675.5h7.8m-3.9-3.9v7.8M337.6 680.5h7.8m-3.9-3.9v7.8M323.6 679.5h7.8m-3.9-3.9v7.8M312.6 705.5h7.8m-3.9-3.9v7.8M312.6 706.5h7.8m-3.9-3.9v7.8M314.6 707.5h7.8m-3.9-3.9v7.8M342.6 700.5h7.8m-3.9-3.9v7.8M321.6 703.5h7.8m-3.9-3.9v7.8M332.6 654.5h7.8m-3.9-3.9v7.8M317.6 723.5h7.8m-3.9-3.9v7.8M332.6 695.5h7.8m-3.9-3.9v7.8M329.6 688.5h7.8m-3.9-3.9v7.8M311.6 726.5h7.8m-3.9-3.9v7.8M319.6 706.5h7.8m-3.9-3.9v7.8M318.6 706.5h7.8m-3.9-3.9v7.8M305.6 716.5h7.8m-3.9-3.9v7.8M348.6 670.5h7.8m-3.9-3.9v7.8M308.6 719.5h7.8m-3.9-3.9v7.8M343.6 694.5h7.8m-3.9-3.9v7.8M348.6 671.5h7.8m-3.9-3.9v7.8M329.6 689.5h7.8m-3.9-3.9v7.8M314.6 709.5h7.8m-3.9-3.9v7.8M319.6 705.5h7.8m-3.9-3.9v7.8M325.6 722.5h7.8m-3.9-3.9v7.8M335.6 718.5h7.8m-3.9-3.9v7.8M328.6 680.5h7.8m-3.9-3.9v7.8M343.6 670.5h7.8m-3.9-3.9v7.8M339.6 665.5h7.8m-3.9-3.9v7.8M321.6 707.5h7.8m-3.9-3.9v7.8M318.6 698.5h7.8m-3.9-3.9v7.8M330.6 686.5h7.8m-3.9-3.9v7.8M315.6 696.5h7.8m-3.9-3.9v7.8M311.6 711.5h7.8m-3.9-3.9v7.8M310.6 714.5h7.8m-3.9-3.9v7.8M328.6 677.5h7.8m-3.9-3.9v7.8M325.6 693.5h7.8m-3.9-3.9v7.8M318.6 704.5h7.8m-3.9-3.9v7.8M353.6 678.5h7.8m-3.9-3.9v7.8M339.6 673.5h7.8m-3.9-3.9v7.8M347.6 677.5h7.8m-3.9-3.9v7.8M346.6 691.5h7.8m-3.9-3.9v7.8" stroke="#55a868" stroke-width="0.62" fill="none"/>
<path d="M373.2 785L374.1 785.2L375 785.3L375.9 785.4L376.8 785.4L377.7 785.5L378.6 785.5L379.5 785.5L380.4 785.5L381.3 785.4L382.2 785.4L383.1 785.2L384 785.1L384.6 785L384.9 784.9L385.8 784.7L386.7 784.4L387.6 784.1L387.9 784L388.5 783.8L389.4 783.5L390.2 783.1L390.3 783.1L391.2 782.6L392.1 782.2L392.1 782.2L393 781.7L393.9 781.2L393.9 781.2L394.8 780.7L395.5 780.3L395.7 780.2L396.6 779.6L397 779.4L397.5 779L398.3 778.4L398.4 778.4L399.3 777.7L399.6 777.5L400.2 777L400.7 776.6L401.1 776.3L401.8 775.6L402 775.5L402.8 774.7L402.9 774.6L403.7 773.8L403.8 773.6L404.5 772.8L404.7 772.6L405.3 771.9L405.6 771.6L406.1 771L406.5 770.6L407 770L407.4 769.5L407.8 769.1L408.3 768.5L408.6 768.2L409.2 767.5L409.5 767.2L410.1 766.6L410.4 766.3L411 765.7L411.4 765.4L411.9 764.9L412.4 764.4L412.8 764.1L413.4 763.5L413.7 763.3L414.5 762.6L414.6 762.4L415.5 761.6L415.5 761.6L416.4 760.8L416.5 760.7L417.3 759.9L417.5 759.8L418.2 759L418.4 758.8L419.1 758L419.2 757.9L420 757L420 756.9L420.7 756L420.9 755.7L421.3 755.1L421.8 754.4L421.9 754.2L422.5 753.2L422.7 752.8L423 752.3L423.4 751.4L423.6 750.9L423.8 750.4L424.2 749.5L424.5 748.7L424.6 748.6L424.9 747.6L425.2 746.7L425.4 746L425.5 745.8L425.8 744.8L426 743.9L426.3 743L426.3 742.9L426.5 742L426.8 741.1L427 740.2L427.2 739.5L427.3 739.2L427.5 738.3L427.8 737.4L428 736.4L428.1 736L428.2 735.5L428.4 734.6L428.6 733.6L428.8 732.7L428.9 731.8L429 730.8L429 729.9L429 729L428.9 728L428.8 727.1L428.7 726.2L428.5 725.2L428.3 724.3L428.1 723.6L428 723.4L427.7 722.4L427.4 721.5L427.2 721L427 720.6L426.6 719.6L426.3 719L426.2 718.7L425.7 717.8L425.4 717.2L425.2 716.8L424.6 715.9L424.5 715.7L424 714.9L423.6 714.3L423.4 714L422.8 713.1L422.7 713L422.1 712.1L421.8 711.8L421.3 711.2L420.9 710.7L420.5 710.3L420 709.7L419.7 709.3L419.1 708.8L418.7 708.4L418.2 707.9L417.7 707.5L417.3 707.1L416.6 706.5L416.4 706.4L415.5 705.7L415.3 705.6L414.6 705.1L413.8 704.7L413.7 704.6L412.8 704.1L412 703.7L411.9 703.7L411 703.3L410.1 703L409.7 702.8L409.2 702.6L408.3 702.4L407.4 702.1L406.5 701.9L406.3 701.9L405.6 701.7L404.7 701.5L403.8 701.4L402.9 701.2L402 701L401.5 700.9L401.1 700.9L400.2 700.7L399.3 700.5L398.4 700.3L397.5 700.1L396.9 700L396.6 699.9L395.7 699.7L394.8 699.5L393.9 699.3L393 699.1L392.8 699.1L392.1 698.9L391.2 698.7L390.3 698.5L389.4 698.3L388.6 698.1L388.5 698.1L387.6 697.9L386.7 697.8L385.8 697.6L384.9 697.4L384 697.3L383.6 697.2L383.1 697.1L382.2 696.9L381.3 696.8L380.4 696.5L379.5 696.3L379.4 696.3L378.6 695.9L377.7 695.5L377.5 695.3L376.8 694.7L376.4 694.4L375.9 693.6L375.8 693.5L375.3 692.5L375 691.7L374.9 691.6L374.7 690.7L374.4 689.7L374.2 688.8L374.1 688L374 687.9L373.9 686.9L373.7 686L373.5 685.1L373.3 684.1L373.2 683.4L373.1 683.2L372.9 682.3L372.7 681.3L372.4 680.4L372.3 680L372.1 679.5L371.8 678.5L371.4 677.6L371.4 677.4L371.1 676.7L370.6 675.7L370.5 675.4L370.2 674.8L369.7 673.9L369.6 673.6L369.2 672.9L368.7 672.1L368.6 672L368 671.1L367.8 670.7L367.4 670.1L366.9 669.4L366.7 669.2L366 668.3L365.9 668.3L365.2 667.3L365 667.2L364.4 666.4L364.1 666.2L363.5 665.5L363.2 665.2L362.6 664.5L362.3 664.3L361.6 663.6L361.4 663.5L360.5 662.7L360.5 662.7L359.6 661.9L359.4 661.7L358.7 661.2L358.3 660.8L357.8 660.5L357 659.9L356.9 659.8L356 659.2L355.7 658.9L355.1 658.6L354.3 658L354.2 658L353.3 657.4L352.8 657.1L352.4 656.9L351.5 656.3L351.2 656.1L350.6 655.8L349.7 655.4L349.4 655.2L348.8 654.9L347.9 654.5L347.5 654.3L347 654L346.1 653.6L345.4 653.3L345.2 653.3L344.3 652.9L343.4 652.6L342.9 652.4L342.5 652.3L341.6 652L340.7 651.8L339.8 651.6L339.3 651.5L338.9 651.4L338 651.3L337.1 651.2L336.2 651.2L335.3 651.2L334.4 651.3L333.6 651.5L333.5 651.5L332.6 651.7L331.7 652.1L331.2 652.4L330.8 652.6L329.9 653.2L329.8 653.3L329 654L328.8 654.3L328.1 654.9L327.9 655.2L327.2 656.1L327.2 656.1L326.5 657.1L326.3 657.3L325.9 658L325.4 658.7L325.3 658.9L324.6 659.9L324.5 660L324 660.8L323.6 661.3L323.3 661.7L322.7 662.5L322.6 662.7L321.8 663.6L321.8 663.6L321 664.5L320.9 664.6L320.2 665.5L320 665.6L319.3 666.4L319.1 666.6L318.5 667.3L318.2 667.6L317.7 668.3L317.3 668.7L316.9 669.2L316.4 669.8L316.1 670.1L315.5 670.9L315.4 671.1L314.7 672L314.6 672.2L314.1 672.9L313.7 673.5L313.4 673.9L312.8 674.8L312.8 674.8L312.2 675.7L311.9 676.2L311.5 676.7L311 677.4L310.9 677.6L310.2 678.5L310.1 678.6L309.4 679.5L309.2 679.7L308.6 680.4L308.3 680.7L307.7 681.3L307.4 681.6L306.7 682.3L306.5 682.5L305.7 683.2L305.6 683.3L304.7 684.1L304.7 684.1L303.8 684.9L303.7 685.1L302.9 685.8L302.7 686L302 686.7L301.8 686.9L301.1 687.7L300.9 687.9L300.2 688.8L300.2 688.8L299.5 689.7L299.3 690L298.9 690.7L298.4 691.6L298.4 691.6L297.9 692.5L297.6 693.5L297.5 693.7L297.3 694.4L297 695.3L296.8 696.3L296.6 697.2L296.6 697.3L296.5 698.1L296.4 699.1L296.3 700L296.3 700.9L296.3 701.9L296.3 702.8L296.4 703.7L296.5 704.7L296.6 705.6L296.6 705.6L296.7 706.5L296.9 707.5L297.1 708.4L297.3 709.3L297.5 710.2L297.5 710.3L297.7 711.2L298 712.1L298.3 713.1L298.4 713.3L298.6 714L298.9 714.9L299.3 715.9L299.3 715.9L299.7 716.8L300.1 717.8L300.2 718L300.5 718.7L300.9 719.6L301.1 720L301.4 720.6L301.9 721.5L302 721.7L302.4 722.4L302.9 723.4L302.9 723.4L303.4 724.3L303.8 724.9L304 725.2L304.6 726.2L304.7 726.2L305.3 727.1L305.6 727.6L305.9 728L306.5 728.8L306.7 729L307.4 729.9L307.4 729.9L308.2 730.8L308.3 731L309 731.8L309.2 732L309.9 732.7L310.1 732.9L310.9 733.6L311 733.7L311.9 734.6L311.9 734.6L312.8 735.3L313 735.5L313.7 736L314.3 736.4L314.6 736.7L315.5 737.3L315.7 737.4L316.4 737.8L317.2 738.3L317.3 738.3L318.2 738.8L319.1 739.2L319.1 739.3L320 739.7L320.9 740L321.2 740.2L321.8 740.4L322.7 740.7L323.6 741L323.9 741.1L324.5 741.3L325.4 741.6L326.3 741.9L326.8 742L327.2 742.2L328.1 742.5L329 742.9L329.2 743L329.9 743.4L330.7 743.9L330.8 744L331.6 744.8L331.7 744.9L332.3 745.8L332.6 746.4L332.7 746.7L333.1 747.6L333.4 748.6L333.5 749L333.6 749.5L333.8 750.4L334 751.4L334.2 752.3L334.4 753.2L334.4 753.3L334.6 754.2L334.8 755.1L335 756L335.2 757L335.3 757.3L335.5 757.9L335.7 758.8L336 759.8L336.2 760.3L336.4 760.7L336.7 761.6L337.1 762.6L337.1 762.6L337.5 763.5L338 764.4L338 764.5L338.5 765.4L338.9 766.2L339 766.3L339.6 767.2L339.8 767.6L340.2 768.2L340.7 768.8L340.9 769.1L341.6 770L341.7 770L342.5 771L342.5 771L343.3 771.9L343.4 772L344.2 772.8L344.3 772.9L345.2 773.8L345.2 773.8L346.1 774.6L346.3 774.7L347 775.3L347.5 775.6L347.9 776L348.7 776.6L348.8 776.7L349.7 777.3L350.1 777.5L350.6 777.9L351.5 778.4L351.6 778.4L352.4 778.9L353.3 779.4L353.3 779.4L354.2 779.9L355.1 780.3L355.2 780.3L356 780.7L356.9 781.1L357.4 781.2L357.8 781.4L358.7 781.7L359.6 782.1L360 782.2L360.5 782.3L361.4 782.6L362.3 782.9L363.2 783.1L363.2 783.1L364.1 783.3L365 783.6L366 783.8L366.9 784L367.3 784L367.8 784.1L368.7 784.3L369.6 784.5L370.5 784.6L371.4 784.8L372.3 784.9L372.7 785ZM370.5 774.7L371.4 774.8L372.3 774.8L373.2 774.8L374.1 774.8L375 774.8L375.9 774.8L376.8 774.7L376.9 774.7L377.7 774.6L378.6 774.5L379.5 774.4L380.4 774.2L381.3 774.1L382.2 773.9L382.5 773.8L383.1 773.6L384 773.4L384.9 773.1L385.7 772.8L385.8 772.8L386.7 772.5L387.6 772.1L388 771.9L388.5 771.7L389.4 771.2L389.9 771L390.3 770.7L391.2 770.2L391.4 770L392.1 769.6L392.7 769.1L393 768.9L393.8 768.2L393.9 768.1L394.8 767.3L394.8 767.2L395.7 766.3L395.7 766.3L396.6 765.4L396.6 765.3L397.4 764.4L397.5 764.3L398.1 763.5L398.4 763.2L398.9 762.6L399.3 762.1L399.7 761.6L400.2 761L400.4 760.7L401.1 759.9L401.2 759.8L402 758.9L402.1 758.8L402.9 757.9L402.9 757.9L403.8 757L403.8 757L404.7 756.1L404.7 756L405.6 755.1L405.6 755.1L406.5 754.2L406.5 754.1L407.3 753.2L407.4 753.1L408.1 752.3L408.3 752L408.8 751.4L409.2 750.8L409.4 750.4L410 749.5L410.1 749.3L410.5 748.6L411 747.6L411 747.6L411.4 746.7L411.7 745.8L411.9 745.2L412 744.8L412.3 743.9L412.5 743L412.6 742L412.8 741.1L412.8 740.8L412.9 740.2L412.9 739.2L412.9 738.3L412.9 737.4L412.8 736.4L412.8 735.7L412.8 735.5L412.7 734.6L412.5 733.6L412.3 732.7L412.1 731.8L411.9 730.9L411.9 730.8L411.6 729.9L411.3 729L411 728.2L410.9 728L410.5 727.1L410.1 726.3L410 726.2L409.5 725.2L409.2 724.7L408.9 724.3L408.3 723.5L408.2 723.4L407.4 722.4L407.4 722.4L406.6 721.5L406.5 721.4L405.6 720.6L405.6 720.5L404.7 719.8L404.5 719.6L403.8 719.1L403.3 718.7L402.9 718.4L402 717.8L401.9 717.8L401.1 717.2L400.4 716.8L400.2 716.7L399.3 716.2L398.7 715.9L398.4 715.7L397.5 715.3L396.7 714.9L396.6 714.9L395.7 714.5L394.8 714.2L394.3 714L393.9 713.9L393 713.6L392.1 713.4L391.2 713.2L390.6 713.1L390.3 713L389.4 712.9L388.5 712.8L387.6 712.8L386.7 712.8L385.8 712.8L384.9 712.9L384 713L383.3 713.1L383.1 713.1L382.2 713.3L381.3 713.4L380.4 713.6L379.5 713.9L378.9 714L378.6 714.1L377.7 714.4L376.8 714.7L376.2 714.9L375.9 715.1L375 715.5L374.1 715.9L374.1 715.9L373.2 716.3L372.4 716.8L372.3 716.9L371.4 717.4L370.9 717.8L370.5 718.1L369.6 718.7L369.6 718.7L368.7 719.5L368.5 719.6L367.8 720.2L367.3 720.6L366.9 720.9L366.2 721.5L366 721.7L365 722.4L365 722.4L364.1 723L363.7 723.4L363.2 723.7L362.3 724.3L362.3 724.3L361.4 724.8L360.8 725.2L360.5 725.4L359.6 725.9L359.2 726.2L358.7 726.4L357.8 727L357.7 727.1L356.9 727.5L356.2 728L356 728.1L355.1 728.8L354.9 729L354.2 729.5L353.8 729.9L353.3 730.3L352.8 730.8L352.4 731.2L352 731.8L351.5 732.4L351.3 732.7L350.8 733.6L350.6 733.8L350.3 734.6L349.8 735.5L349.7 735.7L349.4 736.4L349.1 737.4L348.8 738L348.7 738.3L348.4 739.2L348.1 740.2L347.9 740.8L347.8 741.1L347.6 742L347.3 743L347.1 743.9L347 744L346.8 744.8L346.6 745.8L346.4 746.7L346.2 747.6L346.1 748.1L346.1 748.6L345.9 749.5L345.8 750.4L345.8 751.4L345.8 752.3L345.8 753.2L345.9 754.2L346 755.1L346.1 756L346.1 756L346.4 757L346.6 757.9L346.9 758.8L347 759.1L347.3 759.8L347.7 760.7L347.9 761.2L348.2 761.6L348.7 762.6L348.8 762.8L349.3 763.5L349.7 764.1L350 764.4L350.6 765.3L350.7 765.4L351.5 766.3L351.5 766.3L352.4 767.2L352.5 767.2L353.3 768L353.5 768.2L354.2 768.7L354.7 769.1L355.1 769.4L356 770L356.1 770L356.9 770.6L357.6 771L357.8 771.1L358.7 771.5L359.5 771.9L359.6 772L360.5 772.4L361.4 772.7L361.8 772.8L362.3 773L363.2 773.3L364.1 773.6L364.9 773.8L365 773.8L366 774L366.9 774.2L367.8 774.4L368.7 774.5L369.6 774.6L370.4 774.7ZM322.7 728L323.6 728.2L324.5 728.2L325.4 728.2L326.3 728.1L327.1 728L327.2 728L328.1 727.8L329 727.5L329.9 727.2L330.2 727.1L330.8 726.8L331.7 726.3L332 726.2L332.6 725.8L333.5 725.2L333.5 725.2L334.4 724.5L334.8 724.3L335.3 723.8L335.8 723.4L336.2 723L336.8 722.4L337.1 722L337.6 721.5L338 720.9L338.3 720.6L338.9 719.6L338.9 719.6L339.5 718.7L339.8 718L339.9 717.8L340.4 716.8L340.7 715.9L340.7 715.9L341.1 714.9L341.3 714L341.6 713.1L341.6 713L341.9 712.1L342.1 711.2L342.4 710.3L342.5 709.7L342.7 709.3L342.9 708.4L343.3 707.5L343.4 707.1L343.6 706.5L344.1 705.6L344.3 705.1L344.6 704.7L345.2 703.7L345.2 703.7L345.9 702.8L346.1 702.6L346.8 701.9L347 701.6L347.7 700.9L347.9 700.8L348.8 700L348.8 700L349.7 699.3L350 699.1L350.6 698.6L351.2 698.1L351.5 697.9L352.4 697.2L352.4 697.2L353.3 696.5L353.5 696.3L354.2 695.7L354.6 695.3L355.1 694.8L355.5 694.4L356 693.8L356.3 693.5L356.9 692.6L357 692.5L357.5 691.6L357.8 691.1L358 690.7L358.5 689.7L358.7 689L358.8 688.8L359.1 687.9L359.3 686.9L359.5 686L359.6 685.1L359.6 684.4L359.7 684.1L359.7 683.2L359.6 683L359.6 682.3L359.5 681.3L359.3 680.4L359.1 679.5L358.9 678.5L358.7 678.2L358.6 677.6L358.2 676.7L357.8 675.9L357.8 675.7L357.3 674.8L356.9 674.3L356.7 673.9L356.1 672.9L356 672.9L355.4 672L355.1 671.7L354.7 671.1L354.2 670.6L353.8 670.1L353.3 669.7L352.9 669.2L352.4 668.8L351.8 668.3L351.5 668.1L350.6 667.4L350.6 667.3L349.7 666.8L349.2 666.4L348.8 666.2L347.9 665.7L347.4 665.5L347 665.3L346.1 664.9L345.2 664.7L344.8 664.5L344.3 664.4L343.4 664.3L342.5 664.2L341.6 664.2L340.7 664.3L340 664.5L339.8 664.6L338.9 664.9L338 665.4L337.9 665.5L337.1 666L336.7 666.4L336.2 666.8L335.7 667.3L335.3 667.7L334.8 668.3L334.4 668.7L334.1 669.2L333.5 669.9L333.3 670.1L332.6 671L332.5 671.1L331.8 672L331.7 672.1L331 672.9L330.8 673.2L330.2 673.9L329.9 674.2L329.4 674.8L329 675.3L328.6 675.7L328.1 676.3L327.8 676.7L327.2 677.3L327 677.6L326.3 678.5L326.3 678.5L325.5 679.5L325.4 679.6L324.9 680.4L324.5 680.9L324.2 681.3L323.6 682.2L323.5 682.3L322.9 683.2L322.7 683.4L322.2 684.1L321.8 684.6L321.5 685.1L320.9 685.7L320.7 686L320 686.7L319.7 686.9L319.1 687.5L318.7 687.9L318.2 688.3L317.5 688.8L317.3 689L316.4 689.6L316.2 689.7L315.5 690.2L314.9 690.7L314.6 690.9L313.7 691.5L313.6 691.6L312.8 692.2L312.3 692.5L311.9 692.9L311.2 693.5L311 693.6L310.2 694.4L310.1 694.5L309.3 695.3L309.2 695.5L308.6 696.3L308.3 696.7L308 697.2L307.4 698.1L307.4 698.2L307 699.1L306.6 700L306.5 700.5L306.4 700.9L306.2 701.9L306 702.8L305.9 703.7L305.9 704.7L305.9 705.6L305.9 706.5L306 707.5L306.2 708.4L306.3 709.3L306.5 710.1L306.5 710.3L306.8 711.2L307.1 712.1L307.4 713.1L307.4 713.1L307.8 714L308.2 714.9L308.3 715.2L308.6 715.9L309.1 716.8L309.2 717L309.6 717.8L310.1 718.5L310.2 718.7L310.8 719.6L311 719.9L311.5 720.6L311.9 721L312.3 721.5L312.8 722.1L313.1 722.4L313.7 723L314 723.4L314.6 723.9L315.1 724.3L315.5 724.7L316.3 725.2L316.4 725.3L317.3 725.9L317.7 726.2L318.2 726.5L319.1 726.9L319.5 727.1L320 727.3L320.9 727.6L321.8 727.9L322.6 728ZM371.4 769.1L372.3 769.2L373.2 769.2L374.1 769.2L375 769.2L375.9 769.1L376.2 769.1L376.8 769.1L377.7 769L378.6 768.9L379.5 768.8L380.4 768.6L381.3 768.4L382.2 768.2L382.4 768.2L383.1 768L384 767.7L384.9 767.4L385.2 767.2L385.8 767L386.7 766.5L387.1 766.3L387.6 766L388.5 765.5L388.6 765.4L389.4 764.8L389.8 764.4L390.3 764L390.9 763.5L391.2 763.2L391.8 762.6L392.1 762.2L392.6 761.6L393 761.2L393.4 760.7L393.9 760.1L394.1 759.8L394.8 758.9L394.8 758.8L395.6 757.9L395.7 757.7L396.3 757L396.6 756.6L397 756L397.5 755.5L397.8 755.1L398.4 754.4L398.6 754.2L399.3 753.4L399.4 753.2L400.2 752.4L400.2 752.3L401 751.4L401.1 751.3L401.8 750.4L402 750.2L402.5 749.5L402.9 749L403.2 748.6L403.8 747.7L403.8 747.6L404.3 746.7L404.7 746L404.8 745.8L405.2 744.8L405.5 743.9L405.6 743.5L405.7 743L405.9 742L406 741.1L406.1 740.2L406.1 739.2L406.1 738.3L406 737.4L405.8 736.4L405.6 735.5L405.6 735.3L405.4 734.6L405.1 733.6L404.7 732.7L404.7 732.7L404.3 731.8L403.8 730.9L403.8 730.8L403.2 729.9L402.9 729.4L402.6 729L402 728.2L401.8 728L401.1 727.1L401 727.1L400.2 726.2L400.2 726.2L399.3 725.3L399.1 725.2L398.4 724.6L398 724.3L397.5 723.9L396.7 723.4L396.6 723.3L395.7 722.7L395.2 722.4L394.8 722.2L393.9 721.7L393.4 721.5L393 721.3L392.1 721L391.2 720.6L390.8 720.6L390.3 720.4L389.4 720.2L388.5 720L387.6 719.9L386.7 719.8L385.8 719.7L384.9 719.7L384 719.7L383.1 719.8L382.2 720L381.3 720.1L380.4 720.4L379.7 720.6L379.5 720.6L378.6 721L377.7 721.3L377.4 721.5L376.8 721.8L375.9 722.3L375.6 722.4L375 722.8L374.2 723.4L374.1 723.4L373.2 724.1L372.8 724.3L372.3 724.7L371.6 725.2L371.4 725.4L370.5 726L370.2 726.2L369.6 726.6L368.8 727.1L368.7 727.2L367.8 727.7L367.3 728L366.9 728.3L366 728.8L365.6 729L365 729.3L364.1 729.8L363.9 729.9L363.2 730.2L362.3 730.7L362.2 730.8L361.4 731.3L360.7 731.8L360.5 731.8L359.6 732.5L359.3 732.7L358.7 733.1L358.2 733.6L357.8 733.9L357.2 734.6L356.9 734.9L356.4 735.5L356 736L355.7 736.4L355.2 737.4L355.1 737.4L354.7 738.3L354.2 739.2L354.2 739.2L353.9 740.2L353.5 741.1L353.3 741.8L353.3 742L353 743L352.8 743.9L352.6 744.8L352.4 745.4L352.4 745.8L352.2 746.7L352.1 747.6L351.9 748.6L351.8 749.5L351.8 750.4L351.7 751.4L351.7 752.3L351.8 753.2L351.9 754.2L352 755.1L352.2 756L352.4 756.9L352.5 757L352.8 757.9L353.2 758.8L353.3 759.1L353.7 759.8L354.2 760.7L354.2 760.7L354.9 761.6L355.1 762L355.7 762.6L356 763L356.6 763.5L356.9 763.9L357.6 764.4L357.8 764.6L358.7 765.3L358.9 765.4L359.6 765.9L360.4 766.3L360.5 766.4L361.4 766.8L362.3 767.2L362.3 767.2L363.2 767.6L364.1 767.9L365 768.2L365.1 768.2L366 768.4L366.9 768.6L367.8 768.7L368.7 768.9L369.6 769L370.5 769.1L370.8 769.1ZM321.8 720.8L322.7 720.9L323.6 721L324.5 721L325.4 720.8L326.3 720.6L326.6 720.6L327.2 720.3L328.1 719.9L328.7 719.6L329 719.4L329.9 718.8L330 718.7L330.8 718L331.1 717.8L331.7 717L331.9 716.8L332.6 715.9L332.6 715.8L333.1 714.9L333.5 714.2L333.6 714L334 713.1L334.3 712.1L334.4 711.6L334.5 711.2L334.7 710.3L334.9 709.3L335 708.4L335.1 707.5L335.1 706.5L335.1 705.6L335.1 704.7L335.1 703.7L335.1 702.8L335 701.9L335 700.9L334.9 700L334.9 699.1L334.9 698.1L334.9 697.2L335 696.3L335.1 695.3L335.3 694.4L335.3 694.4L335.7 693.5L336.2 692.8L336.5 692.5L337.1 692L337.7 691.6L338 691.4L338.9 690.9L339.4 690.7L339.8 690.4L340.7 690L341.2 689.7L341.6 689.5L342.5 689.1L343 688.8L343.4 688.6L344.3 688.1L344.7 687.9L345.2 687.6L346.1 687L346.2 686.9L347 686.3L347.3 686L347.9 685.4L348.2 685.1L348.8 684.1L348.8 684.1L349.3 683.2L349.5 682.3L349.7 681.3L349.7 680.4L349.5 679.5L349.2 678.5L348.8 677.9L348.7 677.6L347.9 676.7L347.9 676.7L347 675.9L346.7 675.7L346.1 675.5L345.2 675.3L344.3 675.3L343.4 675.6L343.1 675.7L342.5 676.1L341.8 676.7L341.6 676.9L341 677.6L340.7 677.9L340.3 678.5L339.8 679.1L339.6 679.5L339 680.4L338.9 680.6L338.5 681.3L338 682.1L337.9 682.3L337.4 683.2L337.1 683.7L336.9 684.1L336.3 685.1L336.2 685.3L335.9 686L335.4 686.9L335.3 687.1L335 687.9L334.5 688.8L334.4 689L334.1 689.7L333.5 690.6L333.5 690.7L332.6 691.6L332.6 691.6L331.7 692.2L331 692.5L330.8 692.6L329.9 693L329 693.3L328.4 693.5L328.1 693.5L327.2 693.8L326.3 694L325.4 694.3L325 694.4L324.5 694.5L323.6 694.8L322.7 695L321.8 695.3L321.7 695.3L320.9 695.6L320 696L319.3 696.3L319.1 696.3L318.2 696.8L317.4 697.2L317.3 697.3L316.4 697.8L316 698.1L315.5 698.5L314.9 699.1L314.6 699.3L314 700L313.7 700.4L313.3 700.9L312.8 701.8L312.8 701.9L312.4 702.8L312 703.7L311.9 704.3L311.8 704.7L311.7 705.6L311.7 706.5L311.7 707.5L311.8 708.4L311.9 709.3L311.9 709.3L312.1 710.3L312.4 711.2L312.8 712.1L312.8 712.3L313.2 713.1L313.7 714L313.7 714.1L314.2 714.9L314.6 715.5L314.9 715.9L315.5 716.7L315.6 716.8L316.4 717.7L316.5 717.8L317.3 718.5L317.6 718.7L318.2 719.1L319 719.6L319.1 719.7L320 720.1L320.9 720.5L321.1 720.6ZM372.3 762.6L373.2 762.8L374.1 762.8L375 762.9L375.9 762.9L376.8 762.9L377.7 762.8L378.6 762.7L379.5 762.6L379.5 762.6L380.4 762.4L381.3 762.1L382.2 761.8L382.6 761.6L383.1 761.4L384 760.9L384.3 760.7L384.9 760.3L385.6 759.8L385.8 759.6L386.7 758.8L386.7 758.8L387.5 757.9L387.6 757.8L388.3 757L388.5 756.7L389 756L389.4 755.5L389.6 755.1L390.3 754.2L390.3 754.2L390.9 753.2L391.2 752.8L391.5 752.3L392.1 751.5L392.2 751.4L392.8 750.4L393 750.2L393.5 749.5L393.9 749L394.2 748.6L394.8 747.8L394.9 747.6L395.5 746.7L395.7 746.5L396.1 745.8L396.6 745L396.7 744.8L397.2 743.9L397.5 743.2L397.6 743L397.9 742L398.1 741.1L398.2 740.2L398.2 739.2L398.2 738.3L398 737.4L397.8 736.4L397.5 735.6L397.5 735.5L397 734.6L396.6 733.8L396.5 733.6L395.9 732.7L395.7 732.5L395.1 731.8L394.8 731.4L394.1 730.8L393.9 730.6L393 729.9L393 729.9L392.1 729.3L391.6 729L391.2 728.7L390.3 728.3L389.5 728L389.4 728L388.5 727.7L387.6 727.5L386.7 727.4L385.8 727.3L384.9 727.3L384 727.4L383.1 727.6L382.2 727.8L381.5 728L381.3 728.1L380.4 728.5L379.5 728.9L379.4 729L378.6 729.4L377.7 729.9L377.7 729.9L376.8 730.4L376 730.8L375.9 730.9L375 731.4L374.3 731.8L374.1 731.9L373.2 732.3L372.4 732.7L372.3 732.7L371.4 733.1L370.5 733.5L370.2 733.6L369.6 733.9L368.7 734.3L368.1 734.6L367.8 734.7L366.9 735.1L366.1 735.5L366 735.6L365 736.1L364.5 736.4L364.1 736.6L363.2 737.3L363.2 737.4L362.3 738.1L362.1 738.3L361.4 739L361.3 739.2L360.6 740.2L360.5 740.3L360.1 741.1L359.6 742L359.6 742L359.3 743L359 743.9L358.8 744.8L358.7 745.3L358.7 745.8L358.6 746.7L358.5 747.6L358.5 748.6L358.6 749.5L358.6 750.4L358.7 751.2L358.8 751.4L359 752.3L359.2 753.2L359.5 754.2L359.6 754.4L359.9 755.1L360.4 756L360.5 756.2L361 757L361.4 757.5L361.8 757.9L362.3 758.4L362.8 758.8L363.2 759.2L364 759.8L364.1 759.9L365 760.4L365.6 760.7L366 760.9L366.9 761.3L367.8 761.6L367.8 761.6L368.7 761.9L369.6 762.1L370.5 762.3L371.4 762.5L371.7 762.6Z" stroke="#333333" stroke-width="1.8" fill="none" stroke-linejoin="round"/>
</g>
<g clip-path="url(#c32)">
<rect x="480.33" y="623" width="180" height="185.2" fill="#eaeaf2"/>
<path d="M518.5 623v185.2M568.5 623v185.2M617.5 623v185.2M481.33 801.5h179M481.33 767.5h179M481.33 733.5h179M481.33 699.5h179M481.33 665.5h179M481.33 630.5h179" stroke="#fff" stroke-width="1.2" stroke-linecap="round" fill="none"/>
<path d="M552.6 741.5h7.8m-3.9-3.9v7.8M542.6 768.5h7.8m-3.9-3.9v7.8M546.6 740.5h7.8m-3.9-3.9v7.8M564.6 742.5h7.8m-3.9-3.9v7.8M546.6 749.5h7.8m-3.9-3.9v7.8M548.6 754.5h7.8m-3.9-3.9v7.8M550.6 720.5h7.8m-3.9-3.9v7.8M532.6 759.5h7.8m-3.9-3.9v7.8M550.6 736.5h7.8m-3.9-3.9v7.8M550.6 749.5h7.8m-3.9-3.9v7.8M574.6 720.5h7.8m-3.9-3.9v7.8M556.6 717.5h7.8m-3.9-3.9v7.8M552.6 745.5h7.8m-3.9-3.9v7.8M542.6 760.5h7.8m-3.9-3.9v7.8M534.6 770.5h7.8m-3.9-3.9v7.8M544.6 747.5h7.8m-3.9-3.9v7.8M546.6 714.5h7.8m-3.9-3.9v7.8M544.6 756.5h7.8m-3.9-3.9v7.8M546.6 712.5h7.8m-3.9-3.9v7.8M548.6 739.5h7.8m-3.9-3.9v7.8M524.6 771.5h7.8m-3.9-3.9v7.8M544.6 732.5h7.8m-3.9-3.9v7.8M530.6 759.5h7.8m-3.9-3.9v7.8M534.6 708.5h7.8m-3.9-3.9v7.8M544.6 723.5h7.8m-3.9-3.9v7.8M548.6 754.5h7.8m-3.9-3.9v7.8M554.6 730.5h7.8m-3.9-3.9v7.8M554.6 728.5h7.8m-3.9-3.9v7.8M552.6 726.5h7.8m-3.9-3.9v7.8M542.6 748.5h7.8m-3.9-3.9v7.8M546.6 740.5h7.8m-3.9-3.9v7.8M558.6 728.5h7.8m-3.9-3.9v7.8M540.6 739.5h7.8m-3.9-3.9v7.8M542.6 736.5h7.8m-3.9-3.9v7.8M548.6 746.5h7.8m-3.9-3.9v7.8M552.6 742.5h7.8m-3.9-3.9v7.8M528.6 767.5h7.8m-3.9-3.9v7.8M554.6 710.5h7.8m-3.9-3.9v7.8M577.6 711.5h7.8m-3.9-3.9v7.8M532.6 756.5h7.8m-3.9-3.9v7.8M540.6 746.5h7.8m-3.9-3.9v7.8M509.6 762.5h7.8m-3.9-3.9v7.8M542.6 758.5h7.8m-3.9-3.9v7.8M524.6 750.5h7.8m-3.9-3.9v7.8M546.6 743.5h7.8m-3.9-3.9v7.8M542.6 750.5h7.8m-3.9-3.9v7.8M562.6 754.5h7.8m-3.9-3.9v7.8M550.6 738.5h7.8m-3.9-3.9v7.8M587.6 735.5h7.8m-3.9-3.9v7.8M552.6 743.5h7.8m-3.9-3.9v7.8M526.6 765.5h7.8m-3.9-3.9v7.8M554.6 719.5h7.8m-3.9-3.9v7.8M554.6 758.5h7.8m-3.9-3.9v7.8M536.6 724.5h7.8m-3.9-3.9v7.8M566.6 758.5h7.8m-3.9-3.9v7.8M536.6 729.5h7.8m-3.9-3.9v7.8M538.6 744.5h7.8m-3.9-3.9v7.8M536.6 742.5h7.8m-3.9-3.9v7.8M558.6 706.5h7.8m-3.9-3.9v7.8M556.6 750.5h7.8m-3.9-3.9v7.8M522.6 757.5h7.8m-3.9-3.9v7.8M540.6 759.5h7.8m-3.9-3.9v7.8M518.6 755.5h7.8m-3.9-3.9v7.8M544.6 759.5h7.8m-3.9-3.9v7.8M558.6 724.5h7.8m-3.9-3.9v7.8M530.6 752.5h7.8m-3.9-3.9v7.8M554.6 756.5h7.8m-3.9-3.9v7.8M550.6 702.5h7.8m-3.9-3.9v7.8M540.6 735.5h7.8m-3.9-3.9v7.8M564.6 722.5h7.8m-3.9-3.9v7.8M554.6 769.5h7.8m-3.9-3.9v7.8M528.6 753.5h7.8m-3.9-3.9v7.8M544.6 734.5h7.8m-3.9-3.9v7.8M540.6 738.5h7.8m-3.9-3.9v7.8M566.6 740.5h7.8m-3.9-3.9v7.8M546.6 764.5h7.8m-3.9-3.9v7.8M530.6 745.5h7.8m-3.9-3.9v7.8M538.6 764.5h7.8m-3.9-3.9v7.8M550.6 736.5h7.8m-3.9-3.9v7.8M536.6 741.5h7.8m-3.9-3.9v7.8M544.6 751.5h7.8m-3.9-3.9v7.8M520.6 761.5h7.8m-3.9-3.9v7.8M560.6 730.5h7.8m-3.9-3.9v7.8M526.6 757.5h7.8m-3.9-3.9v7.8M528.6 760.5h7.8m-3.9-3.9v7.8M542.6 766.5h7.8m-3.9-3.9v7.8M526.6 763.5h7.8m-3.9-3.9v7.8M554.6 732.5h7.8m-3.9-3.9v7.8M562.6 751.5h7.8m-3.9-3.9v7.8M540.6 765.5h7.8m-3.9-3.9v7.8M556.6 755.5h7.8m-3.9-3.9v7.8M566.6 718.5h7.8m-3.9-3.9v7.8M524.6 765.5h7.8m-3.9-3.9v7.8M544.6 743.5h7.8m-3.9-3.9v7.8M522.6 757.5h7.8m-3.9-3.9v7.8M568.6 754.5h7.8m-3.9-3.9v7.8M538.6 748.5h7.8m-3.9-3.9v7.8M534.6 762.5h7.8m-3.9-3.9v7.8M542.6 715.5h7.8m-3.9-3.9v7.8M538.6 742.5h7.8m-3.9-3.9v7.8M552.6 741.5h7.8m-3.9-3.9v7.8M552.6 748.5h7.8m-3.9-3.9v7.8M548.6 724.5h7.8m-3.9-3.9v7.8M564.6 730.5h7.8m-3.9-3.9v7.8M544.6 754.5h7.8m-3.9-3.9v7.8M548.6 740.5h7.8m-3.9-3.9v7.8M552.6 737.5h7.8m-3.9-3.9v7.8M572.6 730.5h7.8m-3.9-3.9v7.8M538.6 726.5h7.8m-3.9-3.9v7.8M566.6 742.5h7.8m-3.9-3.9v7.8M560.6 736.5h7.8m-3.9-3.9v7.8M550.6 755.5h7.8m-3.9-3.9v7.8M550.6 749.5h7.8m-3.9-3.9v7.8M534.6 777.5h7.8m-3.9-3.9v7.8M534.6 742.5h7.8m-3.9-3.9v7.8M548.6 718.5h7.8m-3.9-3.9v7.8M538.6 773.5h7.8m-3.9-3.9v7.8M552.6 731.5h7.8m-3.9-3.9v7.8M546.6 731.5h7.8m-3.9-3.9v7.8M534.6 737.5h7.8m-3.9-3.9v7.8M548.6 748.5h7.8m-3.9-3.9v7.8M560.6 733.5h7.8m-3.9-3.9v7.8M540.6 739.5h7.8m-3.9-3.9v7.8M550.6 743.5h7.8m-3.9-3.9v7.8M581.6 733.5h7.8m-3.9-3.9v7.8M562.6 752.5h7.8m-3.9-3.9v7.8M542.6 742.5h7.8m-3.9-3.9v7.8M532.6 737.5h7.8m-3.9-3.9v7.8M560.6 736.5h7.8m-3.9-3.9v7.8M548.6 746.5h7.8m-3.9-3.9v7.8M534.6 748.5h7.8m-3.9-3.9v7.8M536.6 743.5h7.8m-3.9-3.9v7.8M530.6 754.5h7.8m-3.9-3.9v7.8M548.6 752.5h7.8m-3.9-3.9v7.8M528.6 759.5h7.8m-3.9-3.9v7.8M546.6 753.5h7.8m-3.9-3.9v7.8M554.6 725.5h7.8m-3.9-3.9v7.8M546.6 747.5h7.8m-3.9-3.9v7.8M556.6 751.5h7.8m-3.9-3.9v7.8M514.6 754.5h7.8m-3.9-3.9v7.8M540.6 761.5h7.8m-3.9-3.9v7.8M522.6 753.5h7.8m-3.9-3.9v7.8M544.6 721.5h7.8m-3.9-3.9v7.8M562.6 734.5h7.8m-3.9-3.9v7.8M532.6 742.5h7.8m-3.9-3.9v7.8M520.6 771.5h7.8m-3.9-3.9v7.8M536.6 736.5h7.8m-3.9-3.9v7.8M542.6 738.5h7.8m-3.9-3.9v7.8M546.6 727.5h7.8m-3.9-3.9v7.8M542.6 734.5h7.8m-3.9-3.9v7.8M538.6 759.5h7.8m-3.9-3.9v7.8" stroke="#4c72b0" stroke-width="0.62" fill="none"/>
<path d="M562.6 741.5h7.8m-3.9-3.9v7.8M526.6 743.5h7.8m-3.9-3.9v7.8M546.6 753.5h7.8m-3.9-3.9v7.8M546.6 745.5h7.8m-3.9-3.9v7.8M554.6 751.5h7.8m-3.9-3.9v7.8M572.6 749.5h7.8m-3.9-3.9v7.8M538.6 767.5h7.8m-3.9-3.9v7.8M577.6 733.5h7.8m-3.9-3.9v7.8M548.6 758.5h7.8m-3.9-3.9v7.8M536.6 755.5h7.8m-3.9-3.9v7.8M572.6 727.5h7.8m-3.9-3.9v7.8M562.6 742.5h7.8m-3.9-3.9v7.8M558.6 745.5h7.8m-3.9-3.9v7.8M552.6 721.5h7.8m-3.9-3.9v7.8M576.6 738.5h7.8m-3.9-3.9v7.8M544.6 748.5h7.8m-3.9-3.9v7.8M566.6 739.5h7.8m-3.9-3.9v7.8M560.6 741.5h7.8m-3.9-3.9v7.8M562.6 740.5h7.8m-3.9-3.9v7.8M562.6 725.5h7.8m-3.9-3.9v7.8M560.6 757.5h7.8m-3.9-3.9v7.8M568.6 746.5h7.8m-3.9-3.9v7.8M546.6 745.5h7.8m-3.9-3.9v7.8M576.6 718.5h7.8m-3.9-3.9v7.8M522.6 747.5h7.8m-3.9-3.9v7.8M570.6 728.5h7.8m-3.9-3.9v7.8M564.6 754.5h7.8m-3.9-3.9v7.8M542.6 742.5h7.8m-3.9-3.9v7.8M552.6 754.5h7.8m-3.9-3.9v7.8M587.6 730.5h7.8m-3.9-3.9v7.8M556.6 736.5h7.8m-3.9-3.9v7.8M546.6 761.5h7.8m-3.9-3.9v7.8M554.6 747.5h7.8m-3.9-3.9v7.8M550.6 759.5h7.8m-3.9-3.9v7.8M550.6 752.5h7.8m-3.9-3.9v7.8M532.6 751.5h7.8m-3.9-3.9v7.8M554.6 742.5h7.8m-3.9-3.9v7.8M579.6 712.5h7.8m-3.9-3.9v7.8M558.6 737.5h7.8m-3.9-3.9v7.8M558.6 732.5h7.8m-3.9-3.9v7.8M540.6 760.5h7.8m-3.9-3.9v7.8M564.6 734.5h7.8m-3.9-3.9v7.8M574.6 716.5h7.8m-3.9-3.9v7.8M560.6 736.5h7.8m-3.9-3.9v7.8M556.6 735.5h7.8m-3.9-3.9v7.8M540.6 748.5h7.8m-3.9-3.9v7.8M564.6 743.5h7.8m-3.9-3.9v7.8M544.6 748.5h7.8m-3.9-3.9v7.8M558.6 730.5h7.8m-3.9-3.9v7.8M534.6 763.5h7.8m-3.9-3.9v7.8M581.6 706.5h7.8m-3.9-3.9v7.8M554.6 744.5h7.8m-3.9-3.9v7.8M530.6 748.5h7.8m-3.9-3.9v7.8M542.6 750.5h7.8m-3.9-3.9v7.8M550.6 739.5h7.8m-3.9-3.9v7.8M548.6 743.5h7.8m-3.9-3.9v7.8M568.6 724.5h7.8m-3.9-3.9v7.8M556.6 746.5h7.8m-3.9-3.9v7.8M566.6 742.5h7.8m-3.9-3.9v7.8M556.6 729.5h7.8m-3.9-3.9v7.8M550.6 756.5h7.8m-3.9-3.9v7.8M536.6 765.5h7.8m-3.9-3.9v7.8M552.6 742.5h7.8m-3.9-3.9v7.8M585.6 731.5h7.8m-3.9-3.9v7.8M560.6 744.5h7.8m-3.9-3.9v7.8M554.6 740.5h7.8m-3.9-3.9v7.8M566.6 723.5h7.8m-3.9-3.9v7.8M548.6 772.5h7.8m-3.9-3.9v7.8" stroke="#dd8452" stroke-width="0.62" fill="none"/>
<path d="M591.6 700.5h7.8m-3.9-3.9v7.8M603.6 708.5h7.8m-3.9-3.9v7.8M611.6 668.5h7.8m-3.9-3.9v7.8M587.6 683.5h7.8m-3.9-3.9v7.8M585.6 712.5h7.8m-3.9-3.9v7.8M591.6 679.5h7.8m-3.9-3.9v7.8M603.6 700.5h7.8m-3.9-3.9v7.8M583.6 720.5h7.8m-3.9-3.9v7.8M591.6 721.5h7.8m-3.9-3.9v7.8M607.6 682.5h7.8m-3.9-3.9v7.8M579.6 736.5h7.8m-3.9-3.9v7.8M611.6 685.5h7.8m-3.9-3.9v7.8M593.6 706.5h7.8m-3.9-3.9v7.8M601.6 698.5h7.8m-3.9-3.9v7.8M603.6 684.5h7.8m-3.9-3.9v7.8M581.6 701.5h7.8m-3.9-3.9v7.8M623.6 676.5h7.8m-3.9-3.9v7.8M587.6 693.5h7.8m-3.9-3.9v7.8M617.6 684.5h7.8m-3.9-3.9v7.8M593.6 710.5h7.8m-3.9-3.9v7.8M589.6 708.5h7.8m-3.9-3.9v7.8M587.6 712.5h7.8m-3.9-3.9v7.8M609.6 682.5h7.8m-3.9-3.9v7.8M581.6 689.5h7.8m-3.9-3.9v7.8M609.6 695.5h7.8m-3.9-3.9v7.8M581.6 708.5h7.8m-3.9-3.9v7.8M599.6 706.5h7.8m-3.9-3.9v7.8M605.6 688.5h7.8m-3.9-3.9v7.8M625.6 688.5h7.8m-3.9-3.9v7.8M595.6 697.5h7.8m-3.9-3.9v7.8M613.6 674.5h7.8m-3.9-3.9v7.8M605.6 694.5h7.8m-3.9-3.9v7.8M625.6 676.5h7.8m-3.9-3.9v7.8M583.6 730.5h7.8m-3.9-3.9v7.8M591.6 710.5h7.8m-3.9-3.9v7.8M593.6 699.5h7.8m-3.9-3.9v7.8M601.6 690.5h7.8m-3.9-3.9v7.8M587.6 713.5h7.8m-3.9-3.9v7.8M623.6 663.5h7.8m-3.9-3.9v7.8M607.6 673.5h7.8m-3.9-3.9v7.8M595.6 687.5h7.8m-3.9-3.9v7.8M597.6 696.5h7.8m-3.9-3.9v7.8M579.6 686.5h7.8m-3.9-3.9v7.8M583.6 724.5h7.8m-3.9-3.9v7.8M591.6 703.5h7.8m-3.9-3.9v7.8M599.6 715.5h7.8m-3.9-3.9v7.8M597.6 712.5h7.8m-3.9-3.9v7.8M585.6 711.5h7.8m-3.9-3.9v7.8M613.6 697.5h7.8m-3.9-3.9v7.8M601.6 666.5h7.8m-3.9-3.9v7.8M579.6 709.5h7.8m-3.9-3.9v7.8M593.6 724.5h7.8m-3.9-3.9v7.8M593.6 691.5h7.8m-3.9-3.9v7.8M607.6 682.5h7.8m-3.9-3.9v7.8M601.6 704.5h7.8m-3.9-3.9v7.8M587.6 713.5h7.8m-3.9-3.9v7.8M599.6 676.5h7.8m-3.9-3.9v7.8M581.6 709.5h7.8m-3.9-3.9v7.8M597.6 702.5h7.8m-3.9-3.9v7.8M607.6 692.5h7.8m-3.9-3.9v7.8M621.6 682.5h7.8m-3.9-3.9v7.8M611.6 690.5h7.8m-3.9-3.9v7.8M609.6 661.5h7.8m-3.9-3.9v7.8M589.6 707.5h7.8m-3.9-3.9v7.8M609.6 672.5h7.8m-3.9-3.9v7.8M611.6 676.5h7.8m-3.9-3.9v7.8M583.6 674.5h7.8m-3.9-3.9v7.8M579.6 714.5h7.8m-3.9-3.9v7.8M585.6 728.5h7.8m-3.9-3.9v7.8M597.6 692.5h7.8m-3.9-3.9v7.8M570.6 717.5h7.8m-3.9-3.9v7.8M619.6 678.5h7.8m-3.9-3.9v7.8M593.6 699.5h7.8m-3.9-3.9v7.8M623.6 669.5h7.8m-3.9-3.9v7.8M595.6 711.5h7.8m-3.9-3.9v7.8M599.6 718.5h7.8m-3.9-3.9v7.8M619.6 681.5h7.8m-3.9-3.9v7.8M607.6 694.5h7.8m-3.9-3.9v7.8M595.6 681.5h7.8m-3.9-3.9v7.8M591.6 712.5h7.8m-3.9-3.9v7.8M576.6 715.5h7.8m-3.9-3.9v7.8M603.6 702.5h7.8m-3.9-3.9v7.8M601.6 675.5h7.8m-3.9-3.9v7.8M593.6 680.5h7.8m-3.9-3.9v7.8M605.6 679.5h7.8m-3.9-3.9v7.8M579.6 705.5h7.8m-3.9-3.9v7.8M583.6 706.5h7.8m-3.9-3.9v7.8M581.6 707.5h7.8m-3.9-3.9v7.8M603.6 700.5h7.8m-3.9-3.9v7.8M585.6 703.5h7.8m-3.9-3.9v7.8M605.6 654.5h7.8m-3.9-3.9v7.8M595.6 723.5h7.8m-3.9-3.9v7.8M599.6 695.5h7.8m-3.9-3.9v7.8M591.6 688.5h7.8m-3.9-3.9v7.8M581.6 726.5h7.8m-3.9-3.9v7.8M589.6 706.5h7.8m-3.9-3.9v7.8M587.6 706.5h7.8m-3.9-3.9v7.8M585.6 716.5h7.8m-3.9-3.9v7.8M615.6 670.5h7.8m-3.9-3.9v7.8M583.6 719.5h7.8m-3.9-3.9v7.8M617.6 694.5h7.8m-3.9-3.9v7.8M623.6 671.5h7.8m-3.9-3.9v7.8M603.6 689.5h7.8m-3.9-3.9v7.8M579.6 709.5h7.8m-3.9-3.9v7.8M585.6 705.5h7.8m-3.9-3.9v7.8M589.6 722.5h7.8m-3.9-3.9v7.8M589.6 718.5h7.8m-3.9-3.9v7.8M595.6 680.5h7.8m-3.9-3.9v7.8M623.6 670.5h7.8m-3.9-3.9v7.8M613.6 665.5h7.8m-3.9-3.9v7.8M591.6 707.5h7.8m-3.9-3.9v7.8M597.6 698.5h7.8m-3.9-3.9v7.8M597.6 686.5h7.8m-3.9-3.9v7.8M597.6 696.5h7.8m-3.9-3.9v7.8M591.6 711.5h7.8m-3.9-3.9v7.8M587.6 714.5h7.8m-3.9-3.9v7.8M605.6 677.5h7.8m-3.9-3.9v7.8M599.6 693.5h7.8m-3.9-3.9v7.8M595.6 704.5h7.8m-3.9-3.9v7.8M611.6 678.5h7.8m-3.9-3.9v7.8M621.6 673.5h7.8m-3.9-3.9v7.8M599.6 677.5h7.8m-3.9-3.9v7.8M615.6 691.5h7.8m-3.9-3.9v7.8" stroke="#55a868" stroke-width="0.62" fill="none"/>
<path d="M528.6 785.1L529.5 785.2L530.4 785.2L531.3 785.1L532 785L532.2 784.9L533.1 784.7L534 784.4L534.9 784.1L535 784L535.8 783.8L536.6 783.4L537.2 783.1L537.5 782.9L538.4 782.5L539.1 782.2L539.3 782L540.2 781.6L540.9 781.2L541.1 781.1L542 780.6L542.6 780.3L542.9 780.1L543.8 779.7L544.4 779.4L544.7 779.2L545.6 778.7L546.2 778.4L546.5 778.3L547.4 777.8L548 777.5L548.3 777.3L549.2 776.9L549.8 776.6L550.1 776.4L551 775.9L551.5 775.6L551.9 775.5L552.8 775L553.2 774.7L553.7 774.4L554.6 773.9L554.8 773.8L555.5 773.3L556.3 772.8L556.4 772.8L557.3 772.2L557.7 771.9L558.2 771.6L559 771L559.1 770.9L560 770.3L560.2 770L560.9 769.6L561.5 769.1L561.7 768.9L562.6 768.2L562.6 768.2L563.5 767.4L563.8 767.2L564.4 766.7L564.9 766.3L565.3 765.9L566 765.4L566.2 765.1L567 764.4L567.1 764.3L568 763.5L568.1 763.5L568.9 762.7L569.1 762.6L569.8 761.9L570.1 761.6L570.7 761L571 760.7L571.6 760.1L572 759.8L572.5 759.2L572.9 758.8L573.4 758.3L573.8 757.9L574.3 757.4L574.7 757L575.2 756.5L575.6 756L576.1 755.5L576.5 755.1L577 754.5L577.3 754.2L577.9 753.5L578.2 753.2L578.8 752.5L579 752.3L579.7 751.5L579.8 751.4L580.6 750.5L580.7 750.4L581.5 749.5L581.5 749.5L582.3 748.6L582.4 748.5L583.2 747.6L583.3 747.5L584 746.7L584.2 746.5L584.9 745.8L585.1 745.5L585.7 744.8L586 744.6L586.6 743.9L586.8 743.6L587.4 743L587.7 742.6L588.3 742L588.6 741.7L589.2 741.1L589.5 740.7L590.1 740.2L590.4 739.8L591 739.2L591.3 738.9L591.9 738.3L592.2 737.9L592.8 737.4L593.1 737L593.7 736.4L594 736L594.5 735.5L594.9 735.1L595.4 734.6L595.8 734.1L596.3 733.6L596.7 733.2L597.2 732.7L597.6 732.2L598 731.8L598.5 731.2L598.8 730.8L599.4 730.2L599.7 729.9L600.3 729.2L600.5 729L601.2 728.1L601.3 728L602.1 727.1L602.1 727.1L602.9 726.2L603 726L603.6 725.2L603.9 724.9L604.4 724.3L604.8 723.8L605.1 723.4L605.7 722.7L605.9 722.4L606.6 721.5L606.6 721.5L607.3 720.6L607.5 720.3L608 719.6L608.4 719.1L608.6 718.7L609.3 717.8L609.3 717.8L609.9 716.8L610.2 716.5L610.6 715.9L611.1 715.2L611.2 714.9L611.8 714L611.9 713.8L612.4 713.1L612.8 712.4L613 712.1L613.6 711.2L613.7 711L614.2 710.3L614.6 709.6L614.8 709.3L615.4 708.4L615.5 708.3L616.1 707.5L616.4 706.9L616.7 706.5L617.3 705.6L617.3 705.6L618 704.7L618.2 704.4L618.7 703.7L619.1 703.2L619.4 702.8L620 702L620.1 701.9L620.8 700.9L620.9 700.8L621.5 700L621.8 699.6L622.3 699.1L622.7 698.5L623 698.1L623.6 697.4L623.7 697.2L624.5 696.3L624.5 696.2L625.2 695.3L625.4 695.1L625.9 694.4L626.3 693.9L626.7 693.5L627.2 692.8L627.4 692.5L628 691.6L628.1 691.5L628.7 690.7L629 690.3L629.4 689.7L629.9 688.9L630 688.8L630.6 687.9L630.8 687.5L631.1 686.9L631.7 686L631.7 686L632.2 685.1L632.6 684.4L632.7 684.1L633.2 683.2L633.5 682.6L633.6 682.3L634.1 681.3L634.4 680.7L634.5 680.4L634.9 679.5L635.3 678.7L635.3 678.5L635.8 677.6L636.2 676.7L636.2 676.7L636.6 675.7L637 674.8L637 674.7L637.4 673.9L637.8 672.9L637.9 672.6L638.2 672L638.6 671.1L638.8 670.3L638.9 670.1L639.2 669.2L639.5 668.3L639.7 667.5L639.8 667.3L640 666.4L640.2 665.5L640.3 664.5L640.4 663.6L640.4 662.7L640.4 661.7L640.2 660.8L639.9 659.9L639.7 659.4L639.5 658.9L638.8 658L638.8 658L637.9 657.3L637.6 657.1L637 656.8L636.2 656.4L635.3 656.2L635.2 656.1L634.4 656L633.5 655.8L632.6 655.7L631.7 655.7L630.8 655.6L629.9 655.6L629 655.6L628.1 655.6L627.2 655.7L626.3 655.7L625.4 655.8L624.5 655.9L623.6 656L622.9 656.1L622.7 656.2L621.8 656.3L620.9 656.5L620 656.7L619.1 657L618.7 657.1L618.2 657.2L617.3 657.5L616.4 657.8L615.9 658L615.5 658.1L614.6 658.5L613.7 658.9L613.7 658.9L612.8 659.3L611.9 659.8L611.9 659.9L611.1 660.3L610.2 660.8L610.2 660.9L609.3 661.4L608.8 661.7L608.4 662L607.5 662.7L607.4 662.7L606.6 663.3L606.2 663.6L605.7 664L605 664.5L604.8 664.7L603.9 665.4L603.8 665.5L603 666.1L602.7 666.4L602.1 666.9L601.6 667.3L601.2 667.7L600.5 668.3L600.3 668.4L599.4 669.2L599.4 669.2L598.5 670L598.4 670.1L597.6 670.8L597.4 671.1L596.7 671.7L596.3 672L595.8 672.5L595.3 672.9L594.9 673.3L594.3 673.9L594 674.2L593.4 674.8L593.1 675L592.4 675.7L592.2 675.9L591.5 676.7L591.3 676.8L590.6 677.6L590.4 677.7L589.6 678.5L589.5 678.7L588.8 679.5L588.6 679.6L587.9 680.4L587.7 680.6L587.1 681.3L586.8 681.6L586.2 682.3L586 682.6L585.4 683.2L585.1 683.7L584.6 684.1L584.2 684.7L583.9 685.1L583.3 685.9L583.1 686L582.4 686.9L582.4 687L581.7 687.9L581.5 688.2L581 688.8L580.6 689.4L580.3 689.7L579.7 690.7L579.7 690.7L579 691.6L578.8 692L578.4 692.5L577.9 693.3L577.7 693.5L577.1 694.4L577 694.5L576.4 695.3L576.1 695.7L575.6 696.3L575.2 696.8L574.6 697.2L574.3 697.5L573.4 698L572.9 698.1L572.5 698.3L571.6 698.5L570.7 698.6L569.8 698.7L568.9 698.8L568 699L567.5 699.1L567.1 699.1L566.2 699.3L565.3 699.5L564.4 699.8L563.5 700L563.5 700L562.6 700.3L561.7 700.6L560.9 700.9L560.8 700.9L560 701.3L559.1 701.7L558.7 701.9L558.2 702.1L557.3 702.6L556.9 702.8L556.4 703.1L555.5 703.7L555.4 703.7L554.6 704.3L554 704.7L553.7 704.9L552.8 705.6L552.7 705.6L551.9 706.3L551.5 706.5L551 707L550.4 707.5L550.1 707.8L549.4 708.4L549.2 708.6L548.4 709.3L548.3 709.5L547.5 710.3L547.4 710.3L546.6 711.2L546.5 711.3L545.7 712.1L545.6 712.2L544.8 713.1L544.7 713.2L544 714L543.8 714.2L543.2 714.9L542.9 715.3L542.4 715.9L542 716.4L541.7 716.8L541.1 717.5L541 717.8L540.2 718.7L540.2 718.7L539.5 719.6L539.3 719.9L538.9 720.6L538.4 721.1L538.2 721.5L537.6 722.4L537.5 722.4L536.9 723.4L536.6 723.8L536.3 724.3L535.8 725.1L535.7 725.2L535.1 726.2L534.9 726.6L534.5 727.1L534 728L534 728L533.4 729L533.1 729.5L532.8 729.9L532.3 730.8L532.2 731L531.7 731.8L531.3 732.5L531.2 732.7L530.6 733.6L530.4 734L530 734.6L529.5 735.5L529.5 735.5L528.9 736.4L528.6 736.9L528.2 737.4L527.7 738.2L527.6 738.3L527 739.2L526.8 739.5L526.3 740.2L525.9 740.7L525.6 741.1L525 742L525 742L524.3 743L524.1 743.2L523.5 743.9L523.2 744.3L522.8 744.8L522.3 745.5L522.1 745.8L521.4 746.7L521.4 746.7L520.6 747.6L520.5 747.8L519.9 748.6L519.6 748.9L519.2 749.5L518.7 750.1L518.5 750.4L517.8 751.3L517.8 751.4L517 752.3L516.9 752.5L516.3 753.2L516 753.7L515.7 754.2L515.1 754.9L515 755.1L514.4 756L514.2 756.2L513.7 757L513.3 757.6L513.1 757.9L512.5 758.8L512.4 759L512 759.8L511.5 760.6L511.5 760.7L511 761.6L510.7 762.4L510.6 762.6L510.2 763.5L509.9 764.4L509.8 765.1L509.7 765.4L509.6 766.3L509.6 767.2L509.7 768.2L509.8 768.3L510 769.1L510.5 770L510.7 770.3L511 771L511.5 771.9L511.5 772L511.9 772.8L512.4 773.8L512.4 774L512.7 774.7L512.9 775.6L513.2 776.6L513.3 777.2L513.4 777.5L513.6 778.4L514 779.4L514.2 780L514.4 780.3L515.1 781.2L515.1 781.3L516 781.9L516.5 782.2L516.9 782.4L517.8 782.6L518.7 782.8L519.6 783L520.5 783.1L520.5 783.1L521.4 783.2L522.3 783.4L523.2 783.6L524.1 783.8L524.7 784L525 784.1L525.9 784.4L526.8 784.7L527.7 785L527.7 785ZM534.9 773L535.8 773.2L536.6 773.2L537.5 773.2L538.4 773.1L539.3 772.9L539.8 772.8L540.2 772.7L541.1 772.4L542 772.1L542.4 771.9L542.9 771.7L543.8 771.2L544.3 771L544.7 770.7L545.6 770.2L546 770L546.5 769.7L547.4 769.1L547.5 769.1L548.3 768.6L548.9 768.2L549.2 768L550.1 767.4L550.3 767.2L551 766.7L551.6 766.3L551.9 766.1L552.8 765.4L552.9 765.4L553.7 764.8L554.1 764.4L554.6 764.1L555.4 763.5L555.5 763.4L556.4 762.7L556.6 762.6L557.3 762L557.8 761.6L558.2 761.3L558.9 760.7L559.1 760.6L560 759.8L560.1 759.8L560.9 759.1L561.2 758.8L561.7 758.3L562.3 757.9L562.6 757.6L563.3 757L563.5 756.8L564.4 756L564.4 755.9L565.3 755.1L565.4 755.1L566.2 754.3L566.3 754.2L567.1 753.4L567.3 753.2L568 752.5L568.2 752.3L568.9 751.6L569.1 751.4L569.8 750.6L570 750.4L570.7 749.7L570.9 749.5L571.6 748.7L571.7 748.6L572.5 747.7L572.6 747.6L573.4 746.7L573.4 746.7L574.2 745.8L574.3 745.7L575.1 744.8L575.2 744.7L575.9 743.9L576.1 743.7L576.8 743L577 742.7L577.6 742L577.9 741.7L578.5 741.1L578.8 740.8L579.4 740.2L579.7 739.9L580.3 739.2L580.6 739L581.3 738.3L581.5 738.1L582.2 737.4L582.4 737.2L583.2 736.4L583.3 736.4L584.2 735.5L584.2 735.5L585.1 734.7L585.2 734.6L586 733.9L586.2 733.6L586.8 733L587.2 732.7L587.7 732.2L588.2 731.8L588.6 731.3L589.1 730.8L589.5 730.4L590.1 729.9L590.4 729.5L591 729L591.3 728.6L591.8 728L592.2 727.6L592.7 727.1L593.1 726.5L593.4 726.2L594 725.5L594.2 725.2L594.9 724.3L594.9 724.3L595.6 723.4L595.8 723.1L596.3 722.4L596.7 721.9L597 721.5L597.6 720.6L597.6 720.6L598.3 719.6L598.5 719.3L598.9 718.7L599.4 718L599.6 717.8L600.2 716.8L600.3 716.7L600.9 715.9L601.2 715.5L601.6 714.9L602.1 714.3L602.3 714L602.9 713.1L603 713L603.7 712.1L603.9 711.9L604.4 711.2L604.8 710.7L605.1 710.3L605.7 709.5L605.8 709.3L606.5 708.4L606.6 708.3L607.2 707.5L607.5 707.2L608 706.5L608.4 706L608.7 705.6L609.3 704.9L609.4 704.7L610.1 703.7L610.2 703.7L610.8 702.8L611.1 702.5L611.5 701.9L611.9 701.3L612.2 700.9L612.8 700.1L612.9 700L613.6 699.1L613.7 698.9L614.3 698.1L614.6 697.6L614.9 697.2L615.5 696.3L615.6 696.3L616.2 695.3L616.4 695L616.8 694.4L617.3 693.6L617.4 693.5L618 692.5L618.2 692.1L618.5 691.6L619.1 690.7L619.1 690.6L619.6 689.7L620 689L620.1 688.8L620.6 687.9L620.9 687.2L621.1 686.9L621.5 686L621.8 685.3L621.9 685.1L622.3 684.1L622.7 683.2L622.7 683.2L623 682.3L623.3 681.3L623.6 680.4L623.6 680.2L623.7 679.5L623.8 678.5L623.8 677.6L623.7 676.7L623.6 676.1L623.5 675.7L623.1 674.8L622.7 674.3L622.3 673.9L621.8 673.5L620.9 673.1L620.3 672.9L620 672.9L619.1 672.8L618.2 672.8L617.3 672.8L616.7 672.9L616.4 673L615.5 673.2L614.6 673.4L613.7 673.7L613.1 673.9L612.8 674L611.9 674.3L611.1 674.7L610.8 674.8L610.2 675.1L609.3 675.6L609 675.7L608.4 676.1L607.5 676.7L607.5 676.7L606.6 677.3L606.1 677.6L605.7 678L605 678.5L604.8 678.7L604 679.5L603.9 679.6L603.1 680.4L603 680.5L602.3 681.3L602.1 681.6L601.6 682.3L601.2 682.8L600.9 683.2L600.3 684.1L600.3 684.1L599.7 685.1L599.4 685.5L599.1 686L598.5 686.9L598.4 686.9L597.8 687.9L597.6 688.2L597.2 688.8L596.7 689.5L596.5 689.7L595.8 690.7L595.8 690.7L595.1 691.6L594.9 691.8L594.3 692.5L594 692.9L593.6 693.5L593.1 694L592.8 694.4L592.2 695L592 695.3L591.3 696.1L591.1 696.3L590.4 697.1L590.3 697.2L589.5 698L589.4 698.1L588.6 699L588.6 699.1L587.7 700L587.7 700L586.8 700.9L586.8 700.9L586 701.8L585.9 701.9L585.1 702.8L585 702.8L584.2 703.7L584.1 703.7L583.3 704.6L583.2 704.7L582.4 705.5L582.2 705.6L581.5 706.4L581.3 706.5L580.6 707.3L580.3 707.5L579.7 708.1L579.4 708.4L578.8 709L578.4 709.3L577.9 709.8L577.4 710.3L577 710.6L576.3 711.2L576.1 711.4L575.2 712.1L575.2 712.2L574.3 712.9L574.1 713.1L573.4 713.6L572.9 714L572.5 714.3L571.6 714.9L571.6 714.9L570.7 715.5L570.2 715.9L569.8 716.1L568.9 716.6L568.6 716.8L568 717.1L567.1 717.6L566.8 717.8L566.2 718L565.3 718.4L564.5 718.7L564.4 718.7L563.5 718.9L562.6 719.2L561.7 719.4L560.9 719.5L560.1 719.6L560 719.6L559.1 719.8L558.2 719.9L557.3 720.1L556.4 720.3L555.7 720.6L555.5 720.6L554.6 721L553.7 721.4L553.5 721.5L552.8 721.8L551.9 722.3L551.8 722.4L551 722.9L550.3 723.4L550.1 723.5L549.2 724.2L549.1 724.3L548.3 724.9L548 725.2L547.4 725.7L546.9 726.2L546.5 726.5L545.9 727.1L545.6 727.4L545 728L544.7 728.3L544.1 729L543.8 729.2L543.2 729.9L542.9 730.1L542.3 730.8L542 731.1L541.4 731.8L541.1 732.1L540.6 732.7L540.2 733.1L539.8 733.6L539.3 734.1L539 734.6L538.4 735.1L538.1 735.5L537.5 736.2L537.3 736.4L536.6 737.2L536.6 737.4L535.8 738.3L535.8 738.3L535 739.2L534.9 739.4L534.2 740.2L534 740.5L533.5 741.1L533.1 741.6L532.7 742L532.2 742.8L532 743L531.3 743.9L531.3 743.9L530.6 744.8L530.4 745.1L529.9 745.8L529.5 746.4L529.3 746.7L528.6 747.6L528.6 747.7L528 748.6L527.7 749.1L527.4 749.5L526.9 750.4L526.8 750.6L526.4 751.4L525.9 752.3L525.9 752.3L525.5 753.2L525.1 754.2L525 754.5L524.8 755.1L524.5 756L524.3 757L524.2 757.9L524.2 758.8L524.2 759.8L524.2 760.7L524.4 761.6L524.5 762.6L524.7 763.5L524.9 764.4L525 764.9L525.1 765.4L525.4 766.3L525.7 767.2L525.9 767.7L526.1 768.2L526.8 769.1L526.8 769.1L527.7 769.9L527.9 770L528.6 770.4L529.5 770.9L529.6 771L530.4 771.3L531.3 771.7L531.6 771.9L532.2 772.1L533.1 772.5L534 772.8L534.1 772.8ZM540.2 767.3L541.1 767.3L542 767.2L542 767.2L542.9 767L543.8 766.8L544.7 766.5L545.1 766.3L545.6 766.1L546.5 765.7L547.1 765.4L547.4 765.2L548.3 764.7L548.7 764.4L549.2 764.1L550.1 763.5L550.1 763.5L551 762.9L551.5 762.6L551.9 762.3L552.7 761.6L552.8 761.6L553.7 760.9L553.9 760.7L554.6 760.2L555.1 759.8L555.5 759.4L556.2 758.8L556.4 758.7L557.3 757.9L557.3 757.9L558.2 757.1L558.3 757L559.1 756.3L559.3 756L560 755.4L560.3 755.1L560.9 754.5L561.2 754.2L561.7 753.6L562.1 753.2L562.6 752.7L563 752.3L563.5 751.7L563.8 751.4L564.4 750.7L564.7 750.4L565.3 749.6L565.4 749.5L566.2 748.6L566.2 748.5L566.9 747.6L567.1 747.4L567.7 746.7L568 746.2L568.3 745.8L568.9 744.9L569 744.8L569.6 743.9L569.8 743.5L570.2 743L570.7 742.1L570.8 742L571.3 741.1L571.6 740.5L571.8 740.2L572.2 739.2L572.5 738.7L572.7 738.3L573.1 737.4L573.4 736.6L573.5 736.4L573.8 735.5L574.2 734.6L574.3 734.2L574.5 733.6L574.9 732.7L575.2 731.9L575.3 731.8L575.7 730.8L576.1 729.9L576.1 729.9L576.6 729L577 728.2L577.1 728L577.7 727.1L577.9 726.8L578.4 726.2L578.8 725.7L579.2 725.2L579.7 724.8L580.2 724.3L580.6 724L581.4 723.4L581.5 723.3L582.4 722.7L582.8 722.4L583.3 722.1L584.2 721.7L584.5 721.5L585.1 721.2L586 720.8L586.3 720.6L586.8 720.3L587.7 719.8L588.1 719.6L588.6 719.3L589.5 718.8L589.8 718.7L590.4 718.3L591.2 717.8L591.3 717.7L592.2 717.1L592.6 716.8L593.1 716.4L593.8 715.9L594 715.7L594.9 715L595 714.9L595.8 714.2L596 714L596.7 713.4L597.1 713.1L597.6 712.6L598 712.1L598.5 711.7L599 711.2L599.4 710.8L599.9 710.3L600.3 709.8L600.7 709.3L601.2 708.8L601.6 708.4L602.1 707.8L602.4 707.5L603 706.8L603.2 706.5L603.9 705.7L603.9 705.6L604.7 704.7L604.8 704.5L605.4 703.7L605.7 703.4L606.1 702.8L606.6 702.1L606.7 701.9L607.4 700.9L607.5 700.8L608 700L608.4 699.4L608.5 699.1L609.1 698.1L609.3 697.8L609.6 697.2L610 696.3L610.2 696L610.4 695.3L610.8 694.4L611.1 693.7L611.1 693.5L611.3 692.5L611.5 691.6L611.6 690.7L611.5 689.7L611.2 688.8L611.1 688.5L610.3 687.9L610.2 687.8L609.3 687.7L608.4 687.8L608.2 687.9L607.5 688.1L606.6 688.5L606.1 688.8L605.7 689L604.8 689.6L604.6 689.7L603.9 690.2L603.2 690.7L603 690.8L602.1 691.5L602 691.6L601.2 692.2L600.8 692.5L600.3 693L599.7 693.5L599.4 693.7L598.6 694.4L598.5 694.5L597.6 695.2L597.5 695.3L596.7 696L596.4 696.3L595.8 696.8L595.4 697.2L594.9 697.6L594.3 698.1L594 698.4L593.3 699.1L593.1 699.2L592.3 700L592.2 700.1L591.3 700.9L591.3 700.9L590.4 701.7L590.3 701.9L589.5 702.6L589.3 702.8L588.6 703.5L588.4 703.7L587.7 704.4L587.4 704.7L586.8 705.2L586.5 705.6L586 706.1L585.5 706.5L585.1 707L584.6 707.5L584.2 708L583.7 708.4L583.3 708.9L582.8 709.3L582.4 709.8L581.9 710.3L581.5 710.7L581 711.2L580.6 711.6L580.1 712.1L579.7 712.5L579.1 713.1L578.8 713.4L578.2 714L577.9 714.3L577.2 714.9L577 715.1L576.2 715.9L576.1 715.9L575.2 716.7L575.1 716.8L574.3 717.4L573.9 717.8L573.4 718.1L572.6 718.7L572.5 718.8L571.6 719.4L571.3 719.6L570.7 720L569.8 720.5L569.8 720.6L568.9 721.1L568.2 721.5L568 721.6L567.1 722.1L566.5 722.4L566.2 722.5L565.3 723L564.6 723.4L564.4 723.5L563.5 723.9L562.7 724.3L562.6 724.3L561.7 724.7L560.9 725.1L560.6 725.2L560 725.5L559.1 725.8L558.3 726.2L558.2 726.2L557.3 726.5L556.4 726.9L555.8 727.1L555.5 727.2L554.6 727.6L553.7 727.9L553.5 728L552.8 728.4L551.9 728.8L551.6 729L551 729.3L550.1 729.8L550 729.9L549.2 730.4L548.6 730.8L548.3 731L547.4 731.7L547.3 731.8L546.5 732.4L546.2 732.7L545.6 733.1L545.1 733.6L544.7 733.9L544 734.6L543.8 734.7L543 735.5L542.9 735.6L542.1 736.4L542 736.5L541.2 737.4L541.1 737.4L540.3 738.3L540.2 738.4L539.5 739.2L539.3 739.4L538.7 740.2L538.4 740.4L537.9 741.1L537.5 741.5L537.2 742L536.6 742.7L536.5 743L535.8 743.9L535.8 743.9L535.1 744.8L534.9 745.3L534.5 745.8L534 746.7L534 746.7L533.5 747.6L533.1 748.4L533 748.6L532.6 749.5L532.2 750.4L532.2 750.6L531.9 751.4L531.7 752.3L531.6 753.2L531.5 754.2L531.4 755.1L531.5 756L531.5 757L531.6 757.9L531.7 758.8L531.9 759.8L532.1 760.7L532.2 760.8L532.5 761.6L533 762.6L533.1 762.7L533.7 763.5L534 763.8L534.6 764.4L534.9 764.6L535.8 765.3L535.8 765.4L536.6 766L537.2 766.3L537.5 766.5L538.4 766.9L539.3 767.2L539.6 767.2ZM542 761.9L542.9 762.2L543.8 762.3L544.7 762.3L545.6 762.1L546.5 761.9L547.2 761.6L547.4 761.6L548.3 761.2L549.2 760.7L549.2 760.7L550.1 760.2L550.7 759.8L551 759.6L551.9 759L552.1 758.8L552.8 758.3L553.4 757.9L553.7 757.6L554.5 757L554.6 756.9L555.5 756.1L555.6 756L556.4 755.3L556.6 755.1L557.3 754.5L557.6 754.2L558.2 753.6L558.5 753.2L559.1 752.7L559.4 752.3L560 751.7L560.2 751.4L560.9 750.7L561.1 750.4L561.7 749.6L561.8 749.5L562.5 748.6L562.6 748.4L563.2 747.6L563.5 747.2L563.9 746.7L564.4 745.9L564.5 745.8L565.1 744.8L565.3 744.4L565.6 743.9L566.1 743L566.2 742.7L566.6 742L567 741.1L567.1 740.7L567.4 740.2L567.7 739.2L568 738.3L568 738.3L568.3 737.4L568.6 736.4L568.9 735.5L568.9 735.3L569.1 734.6L569.4 733.6L569.6 732.7L569.8 731.8L569.8 731.5L570 730.8L570.1 729.9L570.2 729L570.1 728L569.8 727.1L569.8 727.1L568.9 726.5L568 726.4L567.1 726.5L566.2 726.7L565.3 727L565.1 727.1L564.4 727.3L563.5 727.7L562.7 728L562.6 728L561.7 728.4L560.9 728.8L560.6 729L560 729.3L559.1 729.7L558.7 729.9L558.2 730.2L557.3 730.6L556.9 730.8L556.4 731.1L555.5 731.5L555.1 731.8L554.6 732L553.7 732.5L553.4 732.7L552.8 733L551.9 733.5L551.7 733.6L551 734.1L550.2 734.6L550.1 734.6L549.2 735.2L548.8 735.5L548.3 735.8L547.5 736.4L547.4 736.5L546.5 737.2L546.4 737.4L545.6 738L545.3 738.3L544.7 738.8L544.3 739.2L543.8 739.7L543.4 740.2L542.9 740.7L542.6 741.1L542 741.8L541.8 742L541.2 743L541.1 743L540.5 743.9L540.2 744.4L540 744.8L539.5 745.8L539.3 746.1L539.1 746.7L538.7 747.6L538.4 748.4L538.4 748.6L538.1 749.5L537.9 750.4L537.8 751.4L537.6 752.3L537.5 753.2L537.5 753.3L537.5 754.2L537.5 755.1L537.5 755.3L537.6 756L537.8 757L538.2 757.9L538.4 758.4L538.7 758.8L539.3 759.7L539.4 759.8L540.2 760.6L540.3 760.7L541.1 761.3L541.6 761.6ZM590.4 709.7L591.3 710L592.2 709.8L593.1 709.5L593.5 709.3L594 709L594.9 708.5L595 708.4L595.8 707.8L596.1 707.5L596.7 706.9L597.1 706.5L597.6 706L597.9 705.6L598.5 704.8L598.6 704.7L599.2 703.7L599.4 703.3L599.6 702.8L599.8 701.9L599.6 700.9L599.4 700.8L598.5 700.9L598.3 700.9L597.6 701.3L596.7 701.8L596.5 701.9L595.8 702.4L595.3 702.8L594.9 703.1L594.1 703.7L594 703.8L593.1 704.7L593.1 704.7L592.2 705.6L592.2 705.6L591.5 706.5L591.3 706.7L590.8 707.5L590.4 708.2L590.3 708.4L590.2 709.3Z" stroke="#333333" stroke-width="1.8" fill="none" stroke-linejoin="round"/>
</g>
<g clip-path="url(#c33)">
<rect x="686" y="623" width="180" height="185.2" fill="#eaeaf2"/>
<path d="M709.5 623v185.2M754.5 623v185.2M799.5 623v185.2M844.5 623v185.2" stroke="#fff" stroke-width="1.2" stroke-linecap="round" fill="none"/>
<rect x="739.85" y="806.05" width="14.79" height="3.05" fill="#55a868" fill-opacity="0.25"/>
<rect x="754.64" y="787.78" width="14.79" height="21.32" fill="#55a868" fill-opacity="0.25"/>
<rect x="769.43" y="748.18" width="14.79" height="60.92" fill="#55a868" fill-opacity="0.25"/>
<rect x="784.23" y="723.81" width="14.79" height="85.29" fill="#55a868" fill-opacity="0.25"/>
<rect x="799.02" y="732.95" width="14.79" height="76.15" fill="#55a868" fill-opacity="0.25"/>
<rect x="813.81" y="742.09" width="14.79" height="67.01" fill="#55a868" fill-opacity="0.25"/>
<rect x="828.61" y="760.36" width="14.79" height="48.74" fill="#55a868" fill-opacity="0.25"/>
<rect x="843.4" y="796.92" width="14.79" height="12.18" fill="#55a868" fill-opacity="0.25"/>
<rect x="695.47" y="803.01" width="14.79" height="6.09" fill="#dd8452" fill-opacity="0.25"/>
<rect x="710.26" y="781.69" width="14.79" height="27.41" fill="#dd8452" fill-opacity="0.25"/>
<rect x="725.05" y="745.13" width="14.79" height="63.97" fill="#dd8452" fill-opacity="0.25"/>
<rect x="739.85" y="745.13" width="14.79" height="63.97" fill="#dd8452" fill-opacity="0.25"/>
<rect x="754.64" y="778.64" width="14.79" height="30.46" fill="#dd8452" fill-opacity="0.25"/>
<rect x="769.43" y="796.92" width="14.79" height="12.18" fill="#dd8452" fill-opacity="0.25"/>
<rect x="784.23" y="806.05" width="14.79" height="3.05" fill="#dd8452" fill-opacity="0.25"/>
<rect x="695.47" y="781.69" width="14.79" height="27.41" fill="#4c72b0" fill-opacity="0.25"/>
<rect x="710.26" y="717.72" width="14.79" height="91.38" fill="#4c72b0" fill-opacity="0.25"/>
<rect x="725.05" y="702.49" width="14.79" height="106.61" fill="#4c72b0" fill-opacity="0.25"/>
<rect x="739.85" y="681.17" width="14.79" height="127.93" fill="#4c72b0" fill-opacity="0.25"/>
<rect x="754.64" y="748.18" width="14.79" height="60.92" fill="#4c72b0" fill-opacity="0.25"/>
<rect x="769.43" y="775.59" width="14.79" height="33.51" fill="#4c72b0" fill-opacity="0.25"/>
<rect x="784.23" y="796.92" width="14.79" height="12.18" fill="#4c72b0" fill-opacity="0.25"/>
<path d="M695.5 809.1L696.3 809.1L697.1 809.1L697.9 809.1L698.7 809.1L699.6 809.1L700.4 809.1L701.2 809.1L702 809.1L702.8 809.1L703.6 809.1L704.5 809.1L705.3 809.1L706.1 809.1L706.9 809.1L707.7 809.1L708.5 809.1L709.4 809.1L710.2 809.1L711 809.1L711.8 809.1L712.6 809.1L713.5 809.1L714.3 809.1L715.1 809.1L715.9 809.1L716.7 809.1L717.5 809.1L718.4 809.1L719.2 809.1L720 809.1L720.8 809.1L721.6 809.1L722.5 809.1L723.3 809.1L724.1 809.1L724.9 809.1L725.7 809.1L726.5 809.1L727.4 809L728.2 809L729 809L729.8 809L730.6 808.9L731.4 808.9L732.3 808.8L733.1 808.8L733.9 808.7L734.7 808.6L735.5 808.5L736.4 808.4L737.2 808.3L738 808.1L738.8 807.9L739.6 807.7L740.4 807.5L741.3 807.2L742.1 807L742.9 806.6L743.7 806.3L744.5 805.9L745.3 805.5L746.2 805L747 804.5L747.8 804L748.6 803.4L749.4 802.8L750.3 802.1L751.1 801.4L751.9 800.6L752.7 799.7L753.5 798.8L754.3 797.9L755.2 796.9L756 795.8L756.8 794.7L757.6 793.5L758.4 792.2L759.2 790.9L760.1 789.5L760.9 788L761.7 786.5L762.5 784.9L763.3 783.2L764.2 781.5L765 779.7L765.8 777.8L766.6 775.9L767.4 773.9L768.2 771.8L769.1 769.7L769.9 767.5L770.7 765.3L771.5 763L772.3 760.7L773.2 758.3L774 755.9L774.8 753.5L775.6 751.1L776.4 748.8L777.2 746.4L778.1 744.1L778.9 741.9L779.7 739.7L780.5 737.7L781.3 735.8L782.1 734.1L783 732.5L783.8 731L784.6 729.8L785.4 728.7L786.2 727.9L787.1 727.2L787.9 726.8L788.7 726.5L789.5 726.3L790.3 726.4L791.1 726.6L792 726.9L792.8 727.3L793.6 727.8L794.4 728.4L795.2 729L796 729.7L796.9 730.3L797.7 731L798.5 731.7L799.3 732.4L800.1 733L801 733.7L801.8 734.3L802.6 734.8L803.4 735.4L804.2 735.9L805 736.3L805.9 736.8L806.7 737.2L807.5 737.6L808.3 737.9L809.1 738.3L809.9 738.6L810.8 738.8L811.6 739.1L812.4 739.3L813.2 739.5L814 739.7L814.9 739.9L815.7 740L816.5 740.2L817.3 740.3L818.1 740.5L818.9 740.6L819.8 740.8L820.6 741L821.4 741.3L822.2 741.6L823 742.1L823.8 742.5L824.7 743.1L825.5 743.8L826.3 744.6L827.1 745.6L827.9 746.6L828.8 747.8L829.6 749.1L830.4 750.5L831.2 752.1L832 753.7L832.8 755.5L833.7 757.3L834.5 759.2L835.3 761.2L836.1 763.2L836.9 765.3L837.8 767.3L838.6 769.4L839.4 771.5L840.2 773.6L841 775.6L841.8 777.6L842.7 779.5L843.5 781.4L844.3 783.3L845.1 785L845.9 786.7L846.7 788.3L847.6 789.8L848.4 791.3L849.2 792.6L850 793.9L850.8 795.1L851.7 796.3L852.5 797.3L853.3 798.3L854.1 799.2L854.9 800.1L855.7 800.9L856.6 801.6L857.4 802.3L858.2 802.9" stroke="#55a868" stroke-width="1.8" fill="none" stroke-linecap="square" stroke-linejoin="round"/>
<path d="M695.5 806.7L696.3 806.3L697.1 805.9L697.9 805.5L698.7 805L699.6 804.5L700.4 804L701.2 803.4L702 802.7L702.8 802.1L703.6 801.4L704.5 800.6L705.3 799.8L706.1 799L706.9 798.1L707.7 797.1L708.5 796.1L709.4 795.1L710.2 794L711 792.8L711.8 791.6L712.6 790.4L713.5 789.1L714.3 787.8L715.1 786.4L715.9 785L716.7 783.5L717.5 782L718.4 780.5L719.2 778.9L720 777.3L720.8 775.6L721.6 773.9L722.5 772.1L723.3 770.3L724.1 768.4L724.9 766.4L725.7 764.4L726.5 762.3L727.4 760.2L728.2 758L729 755.8L729.8 753.6L730.6 751.4L731.4 749.2L732.3 747.1L733.1 745.1L733.9 743.1L734.7 741.4L735.5 739.8L736.4 738.5L737.2 737.4L738 736.6L738.8 736L739.6 735.8L740.4 735.9L741.3 736.3L742.1 737L742.9 738L743.7 739.2L744.5 740.7L745.3 742.4L746.2 744.2L747 746.2L747.8 748.3L748.6 750.4L749.4 752.5L750.3 754.6L751.1 756.7L751.9 758.8L752.7 760.8L753.5 762.7L754.3 764.5L755.2 766.2L756 767.8L756.8 769.4L757.6 770.9L758.4 772.4L759.2 773.8L760.1 775.1L760.9 776.4L761.7 777.7L762.5 778.9L763.3 780.1L764.2 781.3L765 782.5L765.8 783.7L766.6 784.8L767.4 785.9L768.2 787L769.1 788L769.9 789.1L770.7 790.1L771.5 791L772.3 792L773.2 792.8L774 793.7L774.8 794.5L775.6 795.3L776.4 796.1L777.2 796.8L778.1 797.5L778.9 798.1L779.7 798.8L780.5 799.4L781.3 799.9L782.1 800.5L783 801L783.8 801.5L784.6 801.9L785.4 802.4L786.2 802.8L787.1 803.2L787.9 803.6L788.7 804L789.5 804.4L790.3 804.8L791.1 805.1L792 805.5L792.8 805.8L793.6 806.2L794.4 806.5L795.2 806.8L796 807L796.9 807.3L797.7 807.5L798.5 807.8L799.3 808L800.1 808.1L801 808.3L801.8 808.4L802.6 808.6L803.4 808.7L804.2 808.7L805 808.8L805.9 808.9L806.7 808.9L807.5 809L808.3 809L809.1 809L809.9 809L810.8 809.1L811.6 809.1L812.4 809.1L813.2 809.1L814 809.1L814.9 809.1L815.7 809.1L816.5 809.1L817.3 809.1L818.1 809.1L818.9 809.1L819.8 809.1L820.6 809.1L821.4 809.1L822.2 809.1L823 809.1L823.8 809.1L824.7 809.1L825.5 809.1L826.3 809.1L827.1 809.1L827.9 809.1L828.8 809.1L829.6 809.1L830.4 809.1L831.2 809.1L832 809.1L832.8 809.1L833.7 809.1L834.5 809.1L835.3 809.1L836.1 809.1L836.9 809.1L837.8 809.1L838.6 809.1L839.4 809.1L840.2 809.1L841 809.1L841.8 809.1L842.7 809.1L843.5 809.1L844.3 809.1L845.1 809.1L845.9 809.1L846.7 809.1L847.6 809.1L848.4 809.1L849.2 809.1L850 809.1L850.8 809.1L851.7 809.1L852.5 809.1L853.3 809.1L854.1 809.1L854.9 809.1L855.7 809.1L856.6 809.1L857.4 809.1L858.2 809.1" stroke="#dd8452" stroke-width="1.8" fill="none" stroke-linecap="square" stroke-linejoin="round"/>
<path d="M695.5 797.7L696.3 796.3L697.1 794.7L697.9 793L698.7 791.2L699.6 789.3L700.4 787.3L701.2 785.1L702 782.9L702.8 780.5L703.6 778L704.5 775.4L705.3 772.6L706.1 769.8L706.9 766.9L707.7 763.9L708.5 760.8L709.4 757.5L710.2 754.2L711 750.9L711.8 747.4L712.6 743.9L713.5 740.4L714.3 736.8L715.1 733.3L715.9 729.8L716.7 726.3L717.5 722.9L718.4 719.6L719.2 716.5L720 713.5L720.8 710.7L721.6 708.1L722.5 705.7L723.3 703.6L724.1 701.7L724.9 700L725.7 698.6L726.5 697.4L727.4 696.5L728.2 695.7L729 695.1L729.8 694.6L730.6 694.2L731.4 693.9L732.3 693.6L733.1 693.4L733.9 693.2L734.7 692.9L735.5 692.7L736.4 692.4L737.2 692.1L738 691.8L738.8 691.6L739.6 691.4L740.4 691.2L741.3 691.2L742.1 691.3L742.9 691.6L743.7 692.1L744.5 692.8L745.3 693.7L746.2 694.8L747 696.2L747.8 697.8L748.6 699.7L749.4 701.8L750.3 704L751.1 706.5L751.9 709.1L752.7 711.8L753.5 714.6L754.3 717.4L755.2 720.3L756 723.2L756.8 726.1L757.6 728.9L758.4 731.7L759.2 734.4L760.1 737L760.9 739.5L761.7 742L762.5 744.3L763.3 746.6L764.2 748.7L765 750.8L765.8 752.8L766.6 754.7L767.4 756.5L768.2 758.3L769.1 760.1L769.9 761.8L770.7 763.5L771.5 765.1L772.3 766.8L773.2 768.4L774 770L774.8 771.5L775.6 773L776.4 774.5L777.2 776L778.1 777.4L778.9 778.8L779.7 780.2L780.5 781.5L781.3 782.8L782.1 784.1L783 785.3L783.8 786.5L784.6 787.7L785.4 788.8L786.2 790L787.1 791.1L787.9 792.1L788.7 793.2L789.5 794.2L790.3 795.2L791.1 796.2L792 797.2L792.8 798.1L793.6 799L794.4 799.9L795.2 800.7L796 801.5L796.9 802.3L797.7 803L798.5 803.7L799.3 804.3L800.1 804.9L801 805.5L801.8 806L802.6 806.4L803.4 806.8L804.2 807.2L805 807.5L805.9 807.8L806.7 808L807.5 808.2L808.3 808.4L809.1 808.5L809.9 808.6L810.8 808.7L811.6 808.8L812.4 808.9L813.2 808.9L814 809L814.9 809L815.7 809L816.5 809.1L817.3 809.1L818.1 809.1L818.9 809.1L819.8 809.1L820.6 809.1L821.4 809.1L822.2 809.1L823 809.1L823.8 809.1L824.7 809.1L825.5 809.1L826.3 809.1L827.1 809.1L827.9 809.1L828.8 809.1L829.6 809.1L830.4 809.1L831.2 809.1L832 809.1L832.8 809.1L833.7 809.1L834.5 809.1L835.3 809.1L836.1 809.1L836.9 809.1L837.8 809.1L838.6 809.1L839.4 809.1L840.2 809.1L841 809.1L841.8 809.1L842.7 809.1L843.5 809.1L844.3 809.1L845.1 809.1L845.9 809.1L846.7 809.1L847.6 809.1L848.4 809.1L849.2 809.1L850 809.1L850.8 809.1L851.7 809.1L852.5 809.1L853.3 809.1L854.1 809.1L854.9 809.1L855.7 809.1L856.6 809.1L857.4 809.1L858.2 809.1" stroke="#4c72b0" stroke-width="1.8" fill="none" stroke-linecap="square" stroke-linejoin="round"/>
</g>
<g font-family='"Liberation Sans", Arial, sans-serif' fill="#262626" style="text-rendering:geometricPrecision">
<g font-size="13.2" text-anchor="middle">
<text x="88.7" y="830">30</text>
<text x="133.58" y="830">40</text>
<text x="178.45" y="830">50</text>
<text x="223.33" y="830">60</text>
<text x="333.54" y="830">15</text>
<text x="403.02" y="830">20</text>
<text x="518.98" y="830">175</text>
<text x="568.21" y="830">200</text>
<text x="617.43" y="830">225</text>
<text x="709.03" y="830">3000</text>
<text x="754.23" y="830">4000</text>
<text x="799.43" y="830">5000</text>
<text x="844.63" y="830">6000</text>
</g>
<g font-size="13.2" text-anchor="end">
<text x="57.3" y="380.08">12.5</text>
<text x="57.3" y="344.07">15.0</text>
<text x="57.3" y="308.07">17.5</text>
<text x="57.3" y="272.07">20.0</text>
<text x="57.3" y="236.06">22.5</text>
<text x="57.3" y="600.64">160</text>
<text x="57.3" y="559.82">180</text>
<text x="57.3" y="519.01">200</text>
<text x="57.3" y="478.2">220</text>
<text x="57.3" y="437.39">240</text>
<text x="57.3" y="806.52">2000</text>
<text x="57.3" y="772.29">3000</text>
<text x="57.3" y="738.06">4000</text>
<text x="57.3" y="703.84">5000</text>
<text x="57.3" y="669.61">6000</text>
<text x="57.3" y="635.38">7000</text>
</g>
<g font-size="14.65" text-anchor="middle">
<text x="159.5" y="848.6">bill_length_mm</text>
<text x="365.17" y="848.6">bill_depth_mm</text>
<text x="570.83" y="848.6">flipper_length_mm</text>
<text x="776.5" y="848.6">body_mass_g</text>
<text transform="translate(24.3 308.3) rotate(-90)">bill_depth_mm</text>
<text transform="translate(27.3 513.3) rotate(-90)">flipper_length_mm</text>
<text transform="translate(20.4 718.3) rotate(-90)">body_mass_g</text>
</g>
<rect x="489.5" y="291.2" width="106.5" height="82.3" rx="2.8" ry="2.8" fill="#eaeaf2" fill-opacity=".8" stroke="#ccc" stroke-opacity=".8" stroke-width="1"/>
<text x="541" y="307.5" font-size="14.4" text-anchor="middle">species</text>
<path d="M504.4 322.4h8m-4 -4v8" stroke="#4c72b0" stroke-width=".6" fill="none"/>
<text x="532.8" y="326.7" font-size="13.2">Adelie</text>
<path d="M504.4 341.4h8m-4 -4v8" stroke="#dd8452" stroke-width=".6" fill="none"/>
<text x="532.8" y="345.7" font-size="13.2">Chinstrap</text>
<path d="M504.4 360.7h8m-4 -4v8" stroke="#55a868" stroke-width=".6" fill="none"/>
<text x="532.8" y="365" font-size="13.2">Gentoo</text>
</g>
</svg>
</body></html>
